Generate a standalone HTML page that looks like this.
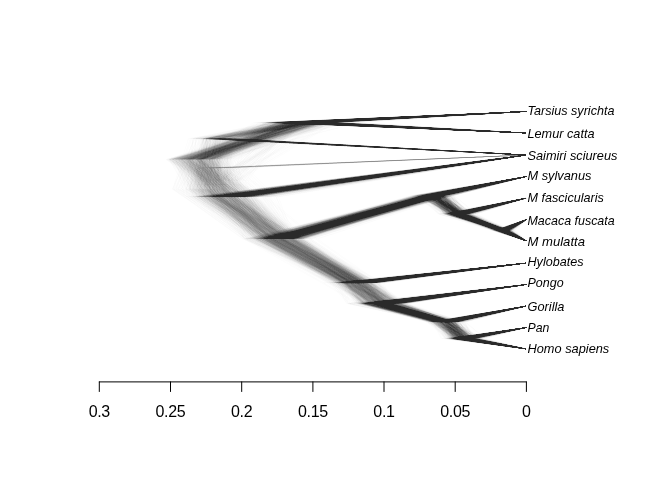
<!DOCTYPE html>
<html lang="en">
<head>
<meta charset="utf-8">
<title>DensiTree</title>
<style>
html,body{margin:0;padding:0;background:#fff;}
body{width:672px;height:480px;overflow:hidden;}
svg{display:block;}
.tr path{fill:none;stroke:#000;stroke-width:2;stroke-opacity:0.012;stroke-linecap:butt;stroke-linejoin:bevel;}
.ax path{fill:none;stroke:#000;stroke-width:1;stroke-linecap:round;}
.axl text{font-family:"Liberation Sans",Arial,Helvetica,sans-serif;font-size:16px;letter-spacing:-0.3px;text-anchor:middle;fill:#000;}
.tip text{font-family:"Liberation Sans",Arial,Helvetica,sans-serif;font-style:italic;font-size:13.4px;fill:#000;}
</style>
</head>
<body>
<svg width="672" height="480" viewBox="0 0 672 480">
<rect width="672" height="480" fill="#fff"/>
<g class="tr">
<g id="T" transform="translate(160 100) scale(0.5)">
<path d="M733 23L309 45L733 66M309 45L72 119L150 194L733 110M150 194L243 278M733 153L565 191L243 278L413 366L733 326M733 196L597 228L565 191M733 239L684 261L733 282M684 261L597 228M733 369L453 407L413 366M733 412L581 444L453 407M733 455L601 477L733 498M601 477L581 444"/>
<path d="M733 23L348 45L733 66M348 45L53 119L212 194L733 110M212 194L276 278M733 153L573 191L276 278L428 366L733 326M733 196L629 228L573 191M733 239L690 261L733 282M690 261L629 228M733 369L469 407L428 366M733 412L581 444L469 407M733 455L632 477L733 498M632 477L581 444"/>
<path d="M733 23L252 45L733 66M252 45L81 119L85 194L733 110M85 194L210 278M733 153L523 191L210 278L362 366L733 326M733 196L577 228L523 191M733 239L686 261L733 282M686 261L577 228M733 369L433 407L362 366M733 412L564 444L433 407M733 455L589 477L733 498M589 477L564 444"/>
<path d="M733 23L257 45L733 66M257 45L122 162L174 278M122 162L118 136L733 110M733 153L533 191L174 278L343 366L733 326M733 196L585 228L533 191M733 239L679 261L733 282M679 261L585 228M733 369L416 407L343 366M733 412L551 444L416 407M733 455L587 477L733 498M587 477L551 444"/>
<path d="M733 23L279 45L733 66M279 45L63 119L142 194L733 110M142 194L282 278M733 153L550 191L282 278L426 366L733 326M733 196L596 228L550 191M733 239L691 261L733 282M691 261L596 228M733 369L450 407L426 366M733 412L587 444L450 407M733 455L621 477L733 498M621 477L587 444"/>
<path d="M733 23L281 45L733 66M281 45L68 119L126 194L733 110M126 194L244 278M733 153L543 191L244 278L398 366L733 326M733 196L598 228L543 191M733 239L677 261L733 282M677 261L598 228M733 369L448 407L398 366M733 412L581 444L448 407M733 455L622 477L733 498M622 477L581 444"/>
<path d="M733 23L329 45L733 66M329 45L95 119L143 194L733 110M143 194L228 278M733 153L564 191L228 278L387 366L733 326M733 196L591 228L564 191M733 239L692 261L733 282M692 261L591 228M733 369L436 407L387 366M733 412L562 444L436 407M733 455L589 477L733 498M589 477L562 444"/>
<path d="M733 23L250 45L733 66M250 45L104 119L119 194L733 110M119 194L187 278M733 153L540 191L187 278L390 366L733 326M733 196L596 228L540 191M733 239L688 261L733 282M688 261L596 228M733 369L406 407L390 366M733 412L576 444L406 407M733 455L599 477L733 498M599 477L576 444"/>
<path d="M733 23L316 45L733 66M316 45L113 77L733 110M113 77L107 178L257 278M733 153L536 191L257 278L398 366L733 326M733 196L592 228L536 191M733 239L683 261L733 282M683 261L592 228M733 369L462 407L398 366M733 412L570 444L462 407M733 455L606 477L733 498M606 477L570 444"/>
<path d="M733 23L316 45L733 66M316 45L40 119L117 194L733 110M117 194L275 278M733 153L553 191L275 278L403 366L733 326M733 196L611 228L553 191M733 239L688 261L733 282M688 261L611 228M733 369L463 407L403 366M733 412L587 444L463 407M733 455L628 477L733 498M628 477L587 444"/>
<path d="M733 23L238 45L733 66M238 45L78 119L127 194L733 110M127 194L207 278M733 153L550 191L207 278L373 366L733 326M733 196L584 228L550 191M733 239L684 261L733 282M684 261L584 228M733 369L425 407L373 366M733 412L554 444L425 407M733 455L587 477L733 498M587 477L554 444"/>
<path d="M733 23L309 45L733 66M309 45L75 119L90 194L733 110M90 194L247 278M733 153L536 191L247 278L383 366L733 326M733 196L590 228L536 191M733 239L693 261L733 282M693 261L590 228M733 369L432 407L383 366M733 412L546 444L432 407M733 455L612 477L733 498M612 477L546 444"/>
<path d="M733 23L290 45L733 66M290 45L60 119L193 194L733 110M193 194L248 278M733 153L565 191L248 278L390 366L733 326M733 196L597 228L565 191M733 239L677 261L733 282M677 261L597 228M733 369L447 407L390 366M733 412L587 444L447 407M733 455L595 477L733 498M595 477L587 444"/>
<path d="M733 23L249 45L733 66M249 45L86 119L159 194L733 110M159 194L253 278M733 153L561 191L253 278L411 366L733 326M733 196L618 228L561 191M733 239L690 261L733 282M690 261L618 228M733 369L483 407L411 366M733 412L583 444L483 407M733 455L619 477L733 498M619 477L583 444"/>
<path d="M733 23L266 45L733 66M266 45L97 77L733 110M97 77L76 178L211 278M733 153L523 191L211 278L379 366L733 326M733 196L576 228L523 191M733 239L681 261L733 282M681 261L576 228M733 369L407 407L379 366M733 412L564 444L407 407M733 455L593 477L733 498M593 477L564 444"/>
<path d="M733 23L240 45L733 66M240 45L76 119L115 194L733 110M115 194L234 278M733 153L545 191L234 278L379 366L733 326M733 196L589 228L545 191M733 239L674 261L733 282M674 261L589 228M733 369L442 407L379 366M733 412L560 444L442 407M733 455L605 477L733 498M605 477L560 444"/>
<path d="M733 23L296 45L733 66M296 45L48 119L143 194L733 110M143 194L226 278M733 153L539 191L226 278L399 366L733 326M733 196L601 228L539 191M733 239L700 261L733 282M700 261L601 228M733 369L446 407L399 366M733 412L597 444L446 407M733 455L609 477L733 498M609 477L597 444"/>
<path d="M733 23L377 45L733 66M377 45L87 119L209 194L733 110M209 194L275 278M733 153L565 191L275 278L435 366L733 326M733 196L604 228L565 191M733 239L694 261L733 282M694 261L604 228M733 369L486 407L435 366M733 412L585 444L486 407M733 455L635 477L733 498M635 477L585 444"/>
<path d="M733 23L259 45L733 66M259 45L72 77L733 110M72 77L59 178L216 278M733 153L540 191L216 278L362 366L733 326M733 196L601 228L540 191M733 239L679 261L733 282M679 261L601 228M733 369L396 407L362 366M733 412L558 444L396 407M733 455L570 477L733 498M570 477L558 444"/>
<path d="M733 23L269 45L733 66M269 45L106 119L114 194L733 110M114 194L186 278M733 153L520 191L186 278L357 366L733 326M733 196L558 228L520 191M733 239L671 261L733 282M671 261L558 228M733 369L397 407L357 366M733 412L561 444L397 407M733 455L595 477L733 498M595 477L561 444"/>
<path d="M733 23L300 45L733 66M300 45L112 77L733 110M112 77L78 178L302 278M733 153L583 191L302 278L433 366L733 326M733 196L619 228L583 191M733 239L700 261L733 282M700 261L619 228M733 369L495 407L433 366M733 412L579 444L495 407M733 455L617 477L733 498M617 477L579 444"/>
<path d="M733 23L274 45L733 66M274 45L40 119L133 194L733 110M133 194L239 278M733 153L554 191L239 278L397 366L733 326M733 196L595 228L554 191M733 239L689 261L733 282M689 261L595 228M733 369L438 407L397 366M733 412L577 444L438 407M733 455L611 477L733 498M611 477L577 444"/>
<path d="M733 23L310 45L733 66M310 45L96 119L141 194L733 110M141 194L225 278M733 153L525 191L225 278L381 366L733 326M733 196L600 228L525 191M733 239L683 261L733 282M683 261L600 228M733 369L442 407L381 366M733 412L570 444L442 407M733 455L601 477L733 498M601 477L570 444"/>
<path d="M733 23L259 45L733 66M259 45L86 77L733 110M86 77L35 178L205 278M733 153L531 191L205 278L375 366L733 326M733 196L574 228L531 191M733 239L680 261L733 282M680 261L574 228M733 369L454 407L375 366M733 412L564 444L454 407M733 455L620 477L733 498M620 477L564 444"/>
<path d="M733 23L324 45L733 66M324 45L60 119L138 194L733 110M138 194L261 278M733 153L576 191L261 278L391 366L733 326M733 196L608 228L576 191M733 239L690 261L733 282M690 261L608 228M733 369L438 407L391 366M733 412L575 444L438 407M733 455L598 477L733 498M598 477L575 444"/>
<path d="M733 23L306 45L733 66M306 45L82 119L124 194L733 110M124 194L263 278M733 153L566 191L263 278L406 366L733 326M733 196L605 228L566 191M733 239L699 261L733 282M699 261L605 228M733 369L463 407L406 366M733 412L590 444L463 407M733 455L616 477L733 498M616 477L590 444"/>
<path d="M733 23L218 45L733 66M218 45L92 119L120 194L733 110M120 194L194 278M733 153L518 191L194 278L380 366L733 326M733 196L589 228L518 191M733 239L672 261L733 282M672 261L589 228M733 369L408 407L380 366M733 412L545 444L408 407M733 455L589 477L733 498M589 477L545 444"/>
<path d="M733 23L285 45L733 66M285 45L68 119L181 194L733 110M181 194L242 278M733 153L548 191L242 278L404 366L733 326M733 196L604 228L548 191M733 239L693 261L733 282M693 261L604 228M733 369L461 407L404 366M733 412L581 444L461 407M733 455L610 477L733 498M610 477L581 444"/>
<path d="M733 23L279 45L733 66M279 45L140 77L733 110M140 77L128 178L267 278M733 153L562 191L267 278L400 366L733 326M733 196L600 228L562 191M733 239L696 261L733 282M696 261L600 228M733 369L454 407L400 366M733 412L581 444L454 407M733 455L628 477L733 498M628 477L581 444"/>
<path d="M733 23L276 45L733 66M276 45L77 119L95 194L733 110M95 194L222 278M733 153L549 191L222 278L378 366L733 326M733 196L598 228L549 191M733 239L676 261L733 282M676 261L598 228M733 369L432 407L378 366M733 412L572 444L432 407M733 455L586 477L733 498M586 477L572 444"/>
<path d="M733 23L259 45L733 66M259 45L102 77L733 110M102 77L82 178L212 278M733 153L580 191L212 278L385 366L733 326M733 196L587 228L580 191M733 239L676 261L733 282M676 261L587 228M733 369L436 407L385 366M733 412L571 444L436 407M733 455L609 477L733 498M609 477L571 444"/>
<path d="M733 23L311 45L733 66M311 45L88 119L161 194L733 110M161 194L254 278M733 153L549 191L254 278L409 366L733 326M733 196L622 228L549 191M733 239L698 261L733 282M698 261L622 228M733 369L447 407L409 366M733 412L573 444L447 407M733 455L608 477L733 498M608 477L573 444"/>
<path d="M733 23L340 45L733 66M340 45L123 119L184 194L733 110M184 194L287 278M733 153L551 191L287 278L425 366L733 326M733 196L606 228L551 191M733 239L694 261L733 282M694 261L606 228M733 369L488 407L425 366M733 412L604 444L488 407M733 455L629 477L733 498M629 477L604 444"/>
<path d="M733 23L250 45L733 66M250 45L64 119L97 194L733 110M97 194L206 278M733 153L539 191L206 278L356 366L733 326M733 196L586 228L539 191M733 239L679 261L733 282M679 261L586 228M733 369L409 407L356 366M733 412L548 444L409 407M733 455L582 477L733 498M582 477L548 444"/>
<path d="M733 23L250 45L733 66M250 45L38 119L86 194L733 110M86 194L201 278M733 153L514 191L201 278L344 366L733 326M733 196L573 228L514 191M733 239L671 261L733 282M671 261L573 228M733 369L378 407L344 366M733 412L545 444L378 407M733 455L599 477L733 498M599 477L545 444"/>
<path d="M733 23L278 45L733 66M278 45L128 119L156 194L733 110M156 194L270 278M733 153L569 191L270 278L422 366L733 326M733 196L614 228L569 191M733 239L697 261L733 282M697 261L614 228M733 369L486 407L422 366M733 412L595 444L486 407M733 455L609 477L733 498M609 477L595 444"/>
<path d="M733 23L279 45L733 66M279 45L93 77L733 110M93 77L89 178L220 278M733 153L557 191L220 278L398 366L733 326M733 196L577 228L557 191M733 239L688 261L733 282M688 261L577 228M733 369L434 407L398 366M733 412L548 444L434 407M733 455L605 477L733 498M605 477L548 444"/>
<path d="M733 23L333 45L733 66M333 45L25 119L160 194L733 110M160 194L232 278M733 153L544 191L232 278L385 366L733 326M733 196L600 228L544 191M733 239L681 261L733 282M681 261L600 228M733 369L444 407L385 366M733 412L578 444L444 407M733 455L602 477L733 498M602 477L578 444"/>
<path d="M733 23L255 45L733 66M255 45L42 119L172 194L733 110M172 194L231 278M733 153L526 191L231 278L384 366L733 326M733 196L588 228L526 191M733 239L682 261L733 282M682 261L588 228M733 369L437 407L384 366M733 412L551 444L437 407M733 455L608 477L733 498M608 477L551 444"/>
<path d="M733 23L322 45L733 66M322 45L88 119L128 194L733 110M128 194L250 278M733 153L559 191L250 278L406 366L733 326M733 196L609 228L559 191M733 239L690 261L733 282M690 261L609 228M733 369L443 407L406 366M733 412L588 444L443 407M733 455L607 477L733 498M607 477L588 444"/>
<path d="M733 23L316 45L733 66M316 45L110 119L150 194L733 110M150 194L255 278M733 153L569 191L255 278L396 366L733 326M733 196L594 228L569 191M733 239L706 261L733 282M706 261L594 228M733 369L467 407L396 366M733 412L584 444L467 407M733 455L621 477L733 498M621 477L584 444"/>
<path d="M733 23L238 45L733 66M238 45L59 119L111 194L733 110M111 194L215 278M733 153L534 191L215 278L378 366L733 326M733 196L595 228L534 191M733 239L670 261L733 282M670 261L595 228M733 369L421 407L378 366M733 412L565 444L421 407M733 455L590 477L733 498M590 477L565 444"/>
<path d="M733 23L305 45L733 66M305 45L58 119L113 194L733 110M113 194L206 278M733 153L554 191L206 278L380 366L733 326M733 196L581 228L554 191M733 239L680 261L733 282M680 261L581 228M733 369L421 407L380 366M733 412L575 444L421 407M733 455L600 477L733 498M600 477L575 444"/>
<path d="M733 23L292 45L733 66M292 45L139 162L263 278M139 162L111 136L733 110M733 153L551 191L263 278L397 366L733 326M733 196L616 228L551 191M733 239L691 261L733 282M691 261L616 228M733 369L459 407L397 366M733 412L574 444L459 407M733 455L613 477L733 498M613 477L574 444"/>
<path d="M733 23L263 45L733 66M263 45L104 119L186 194L733 110M186 194L277 278M733 153L527 191L277 278L410 366L733 326M733 196L602 228L527 191M733 239L697 261L733 282M697 261L602 228M733 369L455 407L410 366M733 412L588 444L455 407M733 455L633 477L733 498M633 477L588 444"/>
<path d="M733 23L270 45L733 66M270 45L27 119L73 194L733 110M73 194L212 278M733 153L542 191L212 278L393 366L733 326M733 196L587 228L542 191M733 239L675 261L733 282M675 261L587 228M733 369L448 407L393 366M733 412L558 444L448 407M733 455L580 477L733 498M580 477L558 444"/>
<path d="M733 23L243 45L733 66M243 45L57 119L76 194L733 110M76 194L219 278M733 153L521 191L219 278L372 366L733 326M733 196L605 228L521 191M733 239L686 261L733 282M686 261L605 228M733 369L430 407L372 366M733 412L574 444L430 407M733 455L612 477L733 498M612 477L574 444"/>
<path d="M733 23L300 45L733 66M300 45L147 77L733 110M147 77L135 178L261 278M733 153L556 191L261 278L402 366L733 326M733 196L592 228L556 191M733 239L685 261L733 282M685 261L592 228M733 369L457 407L402 366M733 412L566 444L457 407M733 455L590 477L733 498M590 477L566 444"/>
<path d="M733 23L353 45L733 66M353 45L100 119L173 194L733 110M173 194L272 278M733 153L580 191L272 278L424 366L733 326M733 196L611 228L580 191M733 239L685 261L733 282M685 261L611 228M733 369L441 407L424 366M733 412L590 444L441 407M733 455L623 477L733 498M623 477L590 444"/>
<path d="M733 23L250 45L733 66M250 45L30 119L75 194L733 110M75 194L179 278M733 153L527 191L179 278L339 366L733 326M733 196L574 228L527 191M733 239L674 261L733 282M674 261L574 228M733 369L405 407L339 366M733 412L536 444L405 407M733 455L582 477L733 498M582 477L536 444"/>
<path d="M733 23L296 45L733 66M296 45L103 119L165 194L733 110M165 194L266 278M733 153L566 191L266 278L438 366L733 326M733 196L611 228L566 191M733 239L693 261L733 282M693 261L611 228M733 369L467 407L438 366M733 412L606 444L467 407M733 455L620 477L733 498M620 477L606 444"/>
<path d="M733 23L274 45L733 66M274 45L104 119L109 194L733 110M109 194L231 278M733 153L536 191L231 278L391 366L733 326M733 196L602 228L536 191M733 239L671 261L733 282M671 261L602 228M733 369L441 407L391 366M733 412L567 444L441 407M733 455L614 477L733 498M614 477L567 444"/>
<path d="M733 23L315 45L733 66M315 45L139 77L733 110M139 77L83 178L246 278M733 153L549 191L246 278L385 366L733 326M733 196L580 228L549 191M733 239L697 261L733 282M697 261L580 228M733 369L438 407L385 366M733 412L573 444L438 407M733 455L598 477L733 498M598 477L573 444"/>
<path d="M733 23L264 45L733 66M264 45L55 119L140 194L733 110M140 194L219 278M733 153L548 191L219 278L381 366L733 326M733 196L592 228L548 191M733 239L687 261L733 282M687 261L592 228M733 369L413 407L381 366M733 412L556 444L413 407M733 455L597 477L733 498M597 477L556 444"/>
<path d="M733 23L304 45L733 66M304 45L159 162L259 278M159 162L131 136L733 110M733 153L550 191L259 278L408 366L733 326M733 196L614 228L550 191M733 239L687 261L733 282M687 261L614 228M733 369L454 407L408 366M733 412L574 444L454 407M733 455L635 477L733 498M635 477L574 444"/>
<path d="M733 23L294 45L733 66M294 45L101 77L733 110M101 77L85 178L220 278M733 153L525 191L220 278L398 366L733 326M733 196L602 228L525 191M733 239L692 261L733 282M692 261L602 228M733 369L437 407L398 366M733 412L570 444L437 407M733 455L609 477L733 498M609 477L570 444"/>
<path d="M733 23L285 45L733 66M285 45L86 119L167 194L733 110M167 194L283 278M733 153L566 191L283 278L405 366L733 326M733 196L595 228L566 191M733 239L681 261L733 282M681 261L595 228M733 369L459 407L405 366M733 412L580 444L459 407M733 455L607 477L733 498M607 477L580 444"/>
<path d="M733 23L290 45L733 66M290 45L118 119L189 194L733 110M189 194L277 278M733 153L587 191L277 278L414 366L733 326M733 196L612 228L587 191M733 239L691 261L733 282M691 261L612 228M733 369L482 407L414 366M733 412L599 444L482 407M733 455L628 477L733 498M628 477L599 444"/>
<path d="M733 23L282 45L733 66M282 45L62 119L80 194L733 110M80 194L207 278M733 153L534 191L207 278L378 366L733 326M733 196L584 228L534 191M733 239L683 261L733 282M683 261L584 228M733 369L409 407L378 366M733 412L547 444L409 407M733 455L593 477L733 498M593 477L547 444"/>
<path d="M733 23L249 45L733 66M249 45L126 77L733 110M126 77L95 178L225 278M733 153L536 191L225 278L390 366L733 326M733 196L590 228L536 191M733 239L694 261L733 282M694 261L590 228M733 369L452 407L390 366M733 412L575 444L452 407M733 455L602 477L733 498M602 477L575 444"/>
<path d="M733 23L311 45L733 66M311 45L82 119L114 194L733 110M114 194L271 278M733 153L575 191L271 278L407 366L733 326M733 196L609 228L575 191M733 239L677 261L733 282M677 261L609 228M733 369L447 407L407 366M733 412L565 444L447 407M733 455L613 477L733 498M613 477L565 444"/>
<path d="M733 23L318 45L733 66M318 45L63 119L146 194L733 110M146 194L258 278M733 153L559 191L258 278L393 366L733 326M733 196L581 228L559 191M733 239L688 261L733 282M688 261L581 228M733 369L458 407L393 366M733 412L585 444L458 407M733 455L628 477L733 498M628 477L585 444"/>
<path d="M733 23L272 45L733 66M272 45L85 119L145 194L733 110M145 194L221 278M733 153L529 191L221 278L397 366L733 326M733 196L603 228L529 191M733 239L687 261L733 282M687 261L603 228M733 369L438 407L397 366M733 412L571 444L438 407M733 455L594 477L733 498M594 477L571 444"/>
<path d="M733 23L273 45L733 66M273 45L79 119L105 194L733 110M105 194L218 278M733 153L539 191L218 278L377 366L733 326M733 196L582 228L539 191M733 239L689 261L733 282M689 261L582 228M733 369L426 407L377 366M733 412L554 444L426 407M733 455L605 477L733 498M605 477L554 444"/>
<path d="M733 23L245 45L733 66M245 45L21 119L145 194L733 110M145 194L237 278M733 153L543 191L237 278L395 366L733 326M733 196L617 228L543 191M733 239L682 261L733 282M682 261L617 228M733 369L457 407L395 366M733 412L593 444L457 407M733 455L600 477L733 498M600 477L593 444"/>
<path d="M733 23L283 45L733 66M283 45L134 77L733 110M134 77L120 178L238 278M733 153L547 191L238 278L394 366L733 326M733 196L595 228L547 191M733 239L685 261L733 282M685 261L595 228M733 369L428 407L394 366M733 412L570 444L428 407M733 455L614 477L733 498M614 477L570 444"/>
<path d="M733 23L280 45L733 66M280 45L104 119L123 194L733 110M123 194L247 278M733 153L555 191L247 278L397 366L733 326M733 196L590 228L555 191M733 239L689 261L733 282M689 261L590 228M733 369L456 407L397 366M733 412L572 444L456 407M733 455L622 477L733 498M622 477L572 444"/>
<path d="M733 23L298 45L733 66M298 45L64 119L149 194L733 110M149 194L211 278M733 153L531 191L211 278L387 366L733 326M733 196L601 228L531 191M733 239L681 261L733 282M681 261L601 228M733 369L426 407L387 366M733 412L565 444L426 407M733 455L583 477L733 498M583 477L565 444"/>
<path d="M733 23L327 45L733 66M327 45L58 119L172 194L733 110M172 194L265 278M733 153L564 191L265 278L424 366L733 326M733 196L604 228L564 191M733 239L683 261L733 282M683 261L604 228M733 369L482 407L424 366M733 412L581 444L482 407M733 455L623 477L733 498M623 477L581 444"/>
<path d="M733 23L238 45L733 66M238 45L90 77L733 110M90 77L85 178L213 278M733 153L541 191L213 278L348 366L733 326M733 196L582 228L541 191M733 239L687 261L733 282M687 261L582 228M733 369L380 407L348 366M733 412L565 444L380 407M733 455L589 477L733 498M589 477L565 444"/>
<path d="M733 23L319 45L733 66M319 45L86 119L122 194L733 110M122 194L209 278M733 153L531 191L209 278L363 366L733 326M733 196L585 228L531 191M733 239L685 261L733 282M685 261L585 228M733 369L411 407L363 366M733 412L563 444L411 407M733 455L598 477L733 498M598 477L563 444"/>
<path d="M733 23L301 45L733 66M301 45L109 77L733 110M109 77L89 178L269 278M733 153L579 191L269 278L412 366L733 326M733 196L610 228L579 191M733 239L686 261L733 282M686 261L610 228M733 369L475 407L412 366M733 412L582 444L475 407M733 455L610 477L733 498M610 477L582 444"/>
<path d="M733 23L248 45L733 66M248 45L65 119L107 194L733 110M107 194L245 278M733 153L555 191L245 278L415 366L733 326M733 196L583 228L555 191M733 239L682 261L733 282M682 261L583 228M733 369L438 407L415 366M733 412L578 444L438 407M733 455L617 477L733 498M617 477L578 444"/>
<path d="M733 23L289 45L733 66M289 45L125 119L148 194L733 110M148 194L221 278M733 153L530 191L221 278L384 366L733 326M733 196L603 228L530 191M733 239L691 261L733 282M691 261L603 228M733 369L441 407L384 366M733 412L558 444L441 407M733 455L598 477L733 498M598 477L558 444"/>
<path d="M733 23L215 45L733 66M215 45L83 119L137 194L733 110M137 194L214 278M733 153L546 191L214 278L383 366L733 326M733 196L593 228L546 191M733 239L679 261L733 282M679 261L593 228M733 369L415 407L383 366M733 412L565 444L415 407M733 455L609 477L733 498M609 477L565 444"/>
<path d="M733 23L297 45L733 66M297 45L37 119L118 194L733 110M118 194L257 278M733 153L542 191L257 278L394 366L733 326M733 196L600 228L542 191M733 239L692 261L733 282M692 261L600 228M733 369L465 407L394 366M733 412L575 444L465 407M733 455L604 477L733 498M604 477L575 444"/>
<path d="M733 23L333 45L733 66M333 45L63 119L141 194L733 110M141 194L265 278M733 153L549 191L265 278L401 366L733 326M733 196L608 228L549 191M733 239L693 261L733 282M693 261L608 228M733 369L450 407L401 366M733 412L590 444L450 407M733 455L616 477L733 498M616 477L590 444"/>
<path d="M733 23L275 45L733 66M275 45L113 119L139 194L733 110M139 194L224 278M733 153L570 191L224 278L393 366L733 326M733 196L579 228L570 191M733 239L679 261L733 282M679 261L579 228M733 369L441 407L393 366M733 412L562 444L441 407M733 455L598 477L733 498M598 477L562 444"/>
<path d="M733 23L271 45L733 66M271 45L81 119L153 194L733 110M153 194L249 278M733 153L566 191L249 278L399 366L733 326M733 196L594 228L566 191M733 239L690 261L733 282M690 261L594 228M733 369L446 407L399 366M733 412L582 444L446 407M733 455L611 477L733 498M611 477L582 444"/>
<path d="M733 23L276 45L733 66M276 45L57 119L173 194L733 110M173 194L233 278M733 153L556 191L233 278L393 366L733 326M733 196L603 228L556 191M733 239L696 261L733 282M696 261L603 228M733 369L474 407L393 366M733 412L566 444L474 407M733 455L622 477L733 498M622 477L566 444"/>
<path d="M733 23L297 45L733 66M297 45L117 162L234 278M117 162L88 136L733 110M733 153L536 191L234 278L387 366L733 326M733 196L589 228L536 191M733 239L677 261L733 282M677 261L589 228M733 369L424 407L387 366M733 412L575 444L424 407M733 455L584 477L733 498M584 477L575 444"/>
<path d="M733 23L284 45L733 66M284 45L94 119L114 194L733 110M114 194L250 278M733 153L547 191L250 278L371 366L733 326M733 196L608 228L547 191M733 239L680 261L733 282M680 261L608 228M733 369L439 407L371 366M733 412L559 444L439 407M733 455L612 477L733 498M612 477L559 444"/>
<path d="M733 23L313 45L733 66M313 45L26 119L151 194L733 110M151 194L218 278M733 153L547 191L218 278L384 366L733 326M733 196L580 228L547 191M733 239L688 261L733 282M688 261L580 228M733 369L428 407L384 366M733 412L573 444L428 407M733 455L594 477L733 498M594 477L573 444"/>
<path d="M733 23L315 45L733 66M315 45L138 77L733 110M138 77L84 178L244 278M733 153L564 191L244 278L424 366L733 326M733 196L608 228L564 191M733 239L694 261L733 282M694 261L608 228M733 369L457 407L424 366M733 412L583 444L457 407M733 455L627 477L733 498M627 477L583 444"/>
<path d="M733 23L298 45L733 66M298 45L99 77L733 110M99 77L88 178L203 278M733 153L542 191L203 278L369 366L733 326M733 196L591 228L542 191M733 239L672 261L733 282M672 261L591 228M733 369L437 407L369 366M733 412L582 444L437 407M733 455L616 477L733 498M616 477L582 444"/>
<path d="M733 23L297 45L733 66M297 45L81 119L159 194L733 110M159 194L267 278M733 153L537 191L267 278L429 366L733 326M733 196L606 228L537 191M733 239L703 261L733 282M703 261L606 228M733 369L444 407L429 366M733 412L577 444L444 407M733 455L607 477L733 498M607 477L577 444"/>
<path d="M733 23L264 45L733 66M264 45L50 119L87 194L733 110M87 194L262 278M733 153L544 191L262 278L396 366L733 326M733 196L607 228L544 191M733 239L687 261L733 282M687 261L607 228M733 369L451 407L396 366M733 412L575 444L451 407M733 455L608 477L733 498M608 477L575 444"/>
<path d="M733 23L303 45L733 66M303 45L83 119L161 194L733 110M161 194L238 278M733 153L564 191L238 278L387 366L733 326M733 196L587 228L564 191M733 239L686 261L733 282M686 261L587 228M733 369L442 407L387 366M733 412L569 444L442 407M733 455L605 477L733 498M605 477L569 444"/>
<path d="M733 23L246 45L733 66M246 45L35 119L119 194L733 110M119 194L225 278M733 153L549 191L225 278L391 366L733 326M733 196L597 228L549 191M733 239L680 261L733 282M680 261L597 228M733 369L418 407L391 366M733 412L558 444L418 407M733 455L617 477L733 498M617 477L558 444"/>
<path d="M733 23L313 45L733 66M313 45L103 119L147 194L733 110M147 194L251 278M733 153L557 191L251 278L406 366L733 326M733 196L590 228L557 191M733 239L692 261L733 282M692 261L590 228M733 369L488 407L406 366M733 412L593 444L488 407M733 455L601 477L733 498M601 477L593 444"/>
<path d="M733 23L313 45L733 66M313 45L107 77L733 110M107 77L86 178L241 278M733 153L540 191L241 278L394 366L733 326M733 196L603 228L540 191M733 239L694 261L733 282M694 261L603 228M733 369L442 407L394 366M733 412L574 444L442 407M733 455L611 477L733 498M611 477L574 444"/>
<path d="M733 23L267 45L733 66M267 45L61 119L180 194L733 110M180 194L250 278M733 153L547 191L250 278L390 366L733 326M733 196L593 228L547 191M733 239L678 261L733 282M678 261L593 228M733 369L443 407L390 366M733 412L572 444L443 407M733 455L603 477L733 498M603 477L572 444"/>
<path d="M733 23L268 45L733 66M268 45L94 77L733 110M94 77L88 178L209 278M733 153L514 191L209 278L377 366L733 326M733 196L589 228L514 191M733 239L681 261L733 282M681 261L589 228M733 369L427 407L377 366M733 412L567 444L427 407M733 455L602 477L733 498M602 477L567 444"/>
<path d="M733 23L240 45L733 66M240 45L106 119L163 194L733 110M163 194L253 278M733 153L557 191L253 278L385 366L733 326M733 196L596 228L557 191M733 239L688 261L733 282M688 261L596 228M733 369L447 407L385 366M733 412L563 444L447 407M733 455L606 477L733 498M606 477L563 444"/>
<path d="M733 23L281 45L733 66M281 45L79 119L145 194L733 110M145 194L246 278M733 153L562 191L246 278L393 366L733 326M733 196L611 228L562 191M733 239L701 261L733 282M701 261L611 228M733 369L453 407L393 366M733 412L577 444L453 407M733 455L613 477L733 498M613 477L577 444"/>
<path d="M733 23L312 45L733 66M312 45L42 119L119 194L733 110M119 194L208 278M733 153L536 191L208 278L389 366L733 326M733 196L584 228L536 191M733 239L672 261L733 282M672 261L584 228M733 369L418 407L389 366M733 412L566 444L418 407M733 455L590 477L733 498M590 477L566 444"/>
<path d="M733 23L307 45L733 66M307 45L113 77L733 110M113 77L105 178L239 278M733 153L550 191L239 278L402 366L733 326M733 196L588 228L550 191M733 239L689 261L733 282M689 261L588 228M733 369L442 407L402 366M733 412L566 444L442 407M733 455L601 477L733 498M601 477L566 444"/>
<path d="M733 23L326 45L733 66M326 45L132 119L182 194L733 110M182 194L276 278M733 153L587 191L276 278L421 366L733 326M733 196L619 228L587 191M733 239L695 261L733 282M695 261L619 228M733 369L450 407L421 366M733 412L596 444L450 407M733 455L636 477L733 498M636 477L596 444"/>
<path d="M733 23L238 45L733 66M238 45L49 119L73 194L733 110M73 194L177 278M733 153L527 191L177 278L357 366L733 326M733 196L574 228L527 191M733 239L676 261L733 282M676 261L574 228M733 369L429 407L357 366M733 412L536 444L429 407M733 455L575 477L733 498M575 477L536 444"/>
<path d="M733 23L311 45L733 66M311 45L63 119L138 194L733 110M138 194L212 278M733 153L548 191L212 278L357 366L733 326M733 196L595 228L548 191M733 239L673 261L733 282M673 261L595 228M733 369L438 407L357 366M733 412L554 444L438 407M733 455L604 477L733 498M604 477L554 444"/>
<path d="M733 23L303 45L733 66M303 45L114 119L140 194L733 110M140 194L253 278M733 153L560 191L253 278L418 366L733 326M733 196L595 228L560 191M733 239L700 261L733 282M700 261L595 228M733 369L455 407L418 366M733 412L587 444L455 407M733 455L611 477L733 498M611 477L587 444"/>
<path d="M733 23L253 45L733 66M253 45L86 119L121 194L733 110M121 194L234 278M733 153L540 191L234 278L401 366L733 326M733 196L601 228L540 191M733 239L688 261L733 282M688 261L601 228M733 369L444 407L401 366M733 412L562 444L444 407M733 455L610 477L733 498M610 477L562 444"/>
<path d="M733 23L295 45L733 66M295 45L127 77L733 110M127 77L98 178L266 278M733 153L552 191L266 278L394 366L733 326M733 196L597 228L552 191M733 239L686 261L733 282M686 261L597 228M733 369L440 407L394 366M733 412L588 444L440 407M733 455L602 477L733 498M602 477L588 444"/>
<path d="M733 23L227 45L733 66M227 45L60 119L120 194L733 110M120 194L230 278M733 153L529 191L230 278L378 366L733 326M733 196L571 228L529 191M733 239L691 261L733 282M691 261L571 228M733 369L435 407L378 366M733 412L561 444L435 407M733 455L602 477L733 498M602 477L561 444"/>
<path d="M733 23L301 45L733 66M301 45L105 119L134 194L733 110M134 194L253 278M733 153L559 191L253 278L398 366L733 326M733 196L609 228L559 191M733 239L679 261L733 282M679 261L609 228M733 369L438 407L398 366M733 412L584 444L438 407M733 455L607 477L733 498M607 477L584 444"/>
<path d="M733 23L323 45L733 66M323 45L83 119L124 194L733 110M124 194L225 278M733 153L563 191L225 278L394 366L733 326M733 196L597 228L563 191M733 239L686 261L733 282M686 261L597 228M733 369L453 407L394 366M733 412L560 444L453 407M733 455L619 477L733 498M619 477L560 444"/>
<path d="M733 23L270 45L733 66M270 45L120 77L733 110M120 77L108 178L233 278M733 153L543 191L233 278L397 366L733 326M733 196L596 228L543 191M733 239L685 261L733 282M685 261L596 228M733 369L434 407L397 366M733 412L576 444L434 407M733 455L594 477L733 498M594 477L576 444"/>
<path d="M733 23L279 45L733 66M279 45L30 119L82 194L733 110M82 194L205 278M733 153L556 191L205 278L383 366L733 326M733 196L584 228L556 191M733 239L688 261L733 282M688 261L584 228M733 369L420 407L383 366M733 412L565 444L420 407M733 455L610 477L733 498M610 477L565 444"/>
<path d="M733 23L262 45L733 66M262 45L141 77L733 110M141 77L92 178L246 278M733 153L548 191L246 278L398 366L733 326M733 196L601 228L548 191M733 239L683 261L733 282M683 261L601 228M733 369L452 407L398 366M733 412L570 444L452 407M733 455L583 477L733 498M583 477L570 444"/>
<path d="M733 23L301 45L733 66M301 45L62 119L120 194L733 110M120 194L223 278M733 153L551 191L223 278L389 366L733 326M733 196L613 228L551 191M733 239L688 261L733 282M688 261L613 228M733 369L457 407L389 366M733 412L559 444L457 407M733 455L602 477L733 498M602 477L559 444"/>
<path d="M733 23L287 45L733 66M287 45L114 77L733 110M114 77L79 178L231 278M733 153L565 191L231 278L386 366L733 326M733 196L591 228L565 191M733 239L687 261L733 282M687 261L591 228M733 369L446 407L386 366M733 412L586 444L446 407M733 455L615 477L733 498M615 477L586 444"/>
<path d="M733 23L343 45L733 66M343 45L104 119L131 194L733 110M131 194L228 278M733 153L535 191L228 278L385 366L733 326M733 196L592 228L535 191M733 239L683 261L733 282M683 261L592 228M733 369L428 407L385 366M733 412L561 444L428 407M733 455L592 477L733 498M592 477L561 444"/>
<path d="M733 23L312 45L733 66M312 45L95 119L186 194L733 110M186 194L281 278M733 153L544 191L281 278L429 366L733 326M733 196L599 228L544 191M733 239L673 261L733 282M673 261L599 228M733 369L481 407L429 366M733 412L586 444L481 407M733 455L624 477L733 498M624 477L586 444"/>
<path d="M733 23L217 45L733 66M217 45L38 119L55 194L733 110M55 194L193 278M733 153L535 191L193 278L359 366L733 326M733 196L595 228L535 191M733 239L691 261L733 282M691 261L595 228M733 369L403 407L359 366M733 412L551 444L403 407M733 455L585 477L733 498M585 477L551 444"/>
<path d="M733 23L298 45L733 66M298 45L104 119L144 194L733 110M144 194L268 278M733 153L564 191L268 278L427 366L733 326M733 196L617 228L564 191M733 239L690 261L733 282M690 261L617 228M733 369L479 407L427 366M733 412L595 444L479 407M733 455L618 477L733 498M618 477L595 444"/>
<path d="M733 23L270 45L733 66M270 45L159 162L226 278M159 162L144 136L733 110M733 153L559 191L226 278L400 366L733 326M733 196L597 228L559 191M733 239L680 261L733 282M680 261L597 228M733 369L443 407L400 366M733 412L573 444L443 407M733 455L631 477L733 498M631 477L573 444"/>
<path d="M733 23L321 45L733 66M321 45L69 119L160 194L733 110M160 194L270 278M733 153L557 191L270 278L395 366L733 326M733 196L611 228L557 191M733 239L697 261L733 282M697 261L611 228M733 369L470 407L395 366M733 412L587 444L470 407M733 455L604 477L733 498M604 477L587 444"/>
<path d="M733 23L290 45L733 66M290 45L67 119L124 194L733 110M124 194L238 278M733 153L533 191L238 278L381 366L733 326M733 196L581 228L533 191M733 239L681 261L733 282M681 261L581 228M733 369L427 407L381 366M733 412L552 444L427 407M733 455L601 477L733 498M601 477L552 444"/>
<path d="M733 23L297 45L733 66M297 45L125 77L733 110M125 77L71 178L269 278M733 153L580 191L269 278L409 366L733 326M733 196L623 228L580 191M733 239L694 261L733 282M694 261L623 228M733 369L477 407L409 366M733 412L596 444L477 407M733 455L616 477L733 498M616 477L596 444"/>
<path d="M733 23L278 45L733 66M278 45L96 119L108 194L733 110M108 194L249 278M733 153L564 191L249 278L410 366L733 326M733 196L600 228L564 191M733 239L700 261L733 282M700 261L600 228M733 369L445 407L410 366M733 412L582 444L445 407M733 455L627 477L733 498M627 477L582 444"/>
<path d="M733 23L285 45L733 66M285 45L49 119L145 194L733 110M145 194L223 278M733 153L514 191L223 278L388 366L733 326M733 196L590 228L514 191M733 239L675 261L733 282M675 261L590 228M733 369L439 407L388 366M733 412L568 444L439 407M733 455L592 477L733 498M592 477L568 444"/>
<path d="M733 23L340 45L733 66M340 45L97 119L196 194L733 110M196 194L265 278M733 153L547 191L265 278L407 366L733 326M733 196L610 228L547 191M733 239L693 261L733 282M693 261L610 228M733 369L447 407L407 366M733 412L576 444L447 407M733 455L601 477L733 498M601 477L576 444"/>
<path d="M733 23L297 45L733 66M297 45L121 119L149 194L733 110M149 194L263 278M733 153L552 191L263 278L396 366L733 326M733 196L589 228L552 191M733 239L693 261L733 282M693 261L589 228M733 369L456 407L396 366M733 412L578 444L456 407M733 455L614 477L733 498M614 477L578 444"/>
<path d="M733 23L214 45L733 66M214 45L102 77L733 110M102 77L91 178L215 278M733 153L545 191L215 278L376 366L733 326M733 196L596 228L545 191M733 239L677 261L733 282M677 261L596 228M733 369L418 407L376 366M733 412L558 444L418 407M733 455L595 477L733 498M595 477L558 444"/>
<path d="M733 23L299 45L733 66M299 45L70 119L117 194L733 110M117 194L221 278M733 153L550 191L221 278L376 366L733 326M733 196L594 228L550 191M733 239L674 261L733 282M674 261L594 228M733 369L431 407L376 366M733 412L573 444L431 407M733 455L613 477L733 498M613 477L573 444"/>
<path d="M733 23L263 45L733 66M263 45L101 119L138 194L733 110M138 194L243 278M733 153L540 191L243 278L396 366L733 326M733 196L599 228L540 191M733 239L704 261L733 282M704 261L599 228M733 369L456 407L396 366M733 412L566 444L456 407M733 455L594 477L733 498M594 477L566 444"/>
<path d="M733 23L306 45L733 66M306 45L101 162L288 278M101 162L84 136L733 110M733 153L566 191L288 278L432 366L733 326M733 196L595 228L566 191M733 239L694 261L733 282M694 261L595 228M733 369L470 407L432 366M733 412L610 444L470 407M733 455L630 477L733 498M630 477L610 444"/>
<path d="M733 23L274 45L733 66M274 45L25 119L67 194L733 110M67 194L184 278M733 153L535 191L184 278L351 366L733 326M733 196L583 228L535 191M733 239L677 261L733 282M677 261L583 228M733 369L404 407L351 366M733 412L540 444L404 407M733 455L581 477L733 498M581 477L540 444"/>
<path d="M733 23L225 45L733 66M225 45L29 119L119 194L733 110M119 194L218 278M733 153L527 191L218 278L360 366L733 326M733 196L577 228L527 191M733 239L673 261L733 282M673 261L577 228M733 369L423 407L360 366M733 412L554 444L423 407M733 455L593 477L733 498M593 477L554 444"/>
<path d="M733 23L316 45L733 66M316 45L108 119L129 194L733 110M129 194L262 278M733 153L589 191L262 278L440 366L733 326M733 196L633 228L589 191M733 239L698 261L733 282M698 261L633 228M733 369L465 407L440 366M733 412L592 444L465 407M733 455L617 477L733 498M617 477L592 444"/>
<path d="M733 23L342 45L733 66M342 45L133 119L138 194L733 110M138 194L237 278M733 153L558 191L237 278L402 366L733 326M733 196L596 228L558 191M733 239L690 261L733 282M690 261L596 228M733 369L461 407L402 366M733 412L562 444L461 407M733 455L626 477L733 498M626 477L562 444"/>
<path d="M733 23L272 45L733 66M272 45L58 119L132 194L733 110M132 194L226 278M733 153L527 191L226 278L373 366L733 326M733 196L592 228L527 191M733 239L681 261L733 282M681 261L592 228M733 369L408 407L373 366M733 412L576 444L408 407M733 455L587 477L733 498M587 477L576 444"/>
<path d="M733 23L300 45L733 66M300 45L98 77L733 110M98 77L93 178L222 278M733 153L544 191L222 278L382 366L733 326M733 196L598 228L544 191M733 239L689 261L733 282M689 261L598 228M733 369L427 407L382 366M733 412L557 444L427 407M733 455L615 477L733 498M615 477L557 444"/>
<path d="M733 23L298 45L733 66M298 45L102 119L152 194L733 110M152 194L247 278M733 153L544 191L247 278L412 366L733 326M733 196L596 228L544 191M733 239L684 261L733 282M684 261L596 228M733 369L456 407L412 366M733 412L587 444L456 407M733 455L606 477L733 498M606 477L587 444"/>
<path d="M733 23L259 45L733 66M259 45L121 119L124 194L733 110M124 194L255 278M733 153L554 191L255 278L398 366L733 326M733 196L605 228L554 191M733 239L688 261L733 282M688 261L605 228M733 369L492 407L398 366M733 412L573 444L492 407M733 455L616 477L733 498M616 477L573 444"/>
<path d="M733 23L273 45L733 66M273 45L51 119L129 194L733 110M129 194L225 278M733 153L557 191L225 278L379 366L733 326M733 196L583 228L557 191M733 239L685 261L733 282M685 261L583 228M733 369L414 407L379 366M733 412L577 444L414 407M733 455L594 477L733 498M594 477L577 444"/>
<path d="M733 23L252 45L733 66M252 45L66 119L89 194L733 110M89 194L206 278M733 153L536 191L206 278L374 366L733 326M733 196L591 228L536 191M733 239L692 261L733 282M692 261L591 228M733 369L408 407L374 366M733 412L566 444L408 407M733 455L600 477L733 498M600 477L566 444"/>
<path d="M733 23L329 45L733 66M329 45L118 119L191 194L733 110M191 194L280 278M733 153L571 191L280 278L405 366L733 326M733 196L605 228L571 191M733 239L676 261L733 282M676 261L605 228M733 369L473 407L405 366M733 412L583 444L473 407M733 455L613 477L733 498M613 477L583 444"/>
<path d="M733 23L308 45L733 66M308 45L129 77L733 110M129 77L109 178L259 278M733 153L560 191L259 278L403 366L733 326M733 196L612 228L560 191M733 239L689 261L733 282M689 261L612 228M733 369L456 407L403 366M733 412L589 444L456 407M733 455L623 477L733 498M623 477L589 444"/>
<path d="M733 23L241 45L733 66M241 45L44 119L102 194L733 110M102 194L210 278M733 153L530 191L210 278L390 366L733 326M733 196L578 228L530 191M733 239L683 261L733 282M683 261L578 228M733 369L431 407L390 366M733 412L545 444L431 407M733 455L589 477L733 498M589 477L545 444"/>
<path d="M733 23L285 45L733 66M285 45L33 119L120 194L733 110M120 194L227 278M733 153L542 191L227 278L385 366L733 326M733 196L597 228L542 191M733 239L689 261L733 282M689 261L597 228M733 369L450 407L385 366M733 412L575 444L450 407M733 455L606 477L733 498M606 477L575 444"/>
<path d="M733 23L242 45L733 66M242 45L90 119L130 194L733 110M130 194L259 278M733 153L555 191L259 278L397 366L733 326M733 196L592 228L555 191M733 239L682 261L733 282M682 261L592 228M733 369L418 407L397 366M733 412L557 444L418 407M733 455L603 477L733 498M603 477L557 444"/>
<path d="M733 23L312 45L733 66M312 45L156 119L232 194L733 110M232 194L275 278M733 153L566 191L275 278L426 366L733 326M733 196L617 228L566 191M733 239L687 261L733 282M687 261L617 228M733 369L477 407L426 366M733 412L593 444L477 407M733 455L633 477L733 498M633 477L593 444"/>
<path d="M733 23L306 45L733 66M306 45L63 77L733 110M63 77L32 178L173 278M733 153L513 191L173 278L328 366L733 326M733 196L560 228L513 191M733 239L682 261L733 282M682 261L560 228M733 369L398 407L328 366M733 412L547 444L398 407M733 455L564 477L733 498M564 477L547 444"/>
<path d="M733 23L242 45L733 66M242 45L56 119L125 194L733 110M125 194L210 278M733 153L537 191L210 278L360 366L733 326M733 196L598 228L537 191M733 239L681 261L733 282M681 261L598 228M733 369L412 407L360 366M733 412L550 444L412 407M733 455L602 477L733 498M602 477L550 444"/>
<path d="M733 23L332 45L733 66M332 45L119 77L733 110M119 77L107 178L237 278M733 153L547 191L237 278L424 366L733 326M733 196L604 228L547 191M733 239L691 261L733 282M691 261L604 228M733 369L474 407L424 366M733 412L601 444L474 407M733 455L615 477L733 498M615 477L601 444"/>
<path d="M733 23L320 45L733 66M320 45L86 119L143 194L733 110M143 194L249 278M733 153L547 191L249 278L417 366L733 326M733 196L604 228L547 191M733 239L679 261L733 282M679 261L604 228M733 369L443 407L417 366M733 412L575 444L443 407M733 455L616 477L733 498M616 477L575 444"/>
<path d="M733 23L266 45L733 66M266 45L47 119L137 194L733 110M137 194L240 278M733 153L561 191L240 278L381 366L733 326M733 196L590 228L561 191M733 239L692 261L733 282M692 261L590 228M733 369L454 407L381 366M733 412L569 444L454 407M733 455L598 477L733 498M598 477L569 444"/>
<path d="M733 23L289 45L733 66M289 45L86 119L147 194L733 110M147 194L197 278M733 153L546 191L197 278L374 366L733 326M733 196L588 228L546 191M733 239L687 261L733 282M687 261L588 228M733 369L428 407L374 366M733 412L579 444L428 407M733 455L606 477L733 498M606 477L579 444"/>
<path d="M733 23L293 45L733 66M293 45L51 119L141 194L733 110M141 194L275 278M733 153L560 191L275 278L410 366L733 326M733 196L603 228L560 191M733 239L687 261L733 282M687 261L603 228M733 369L465 407L410 366M733 412L578 444L465 407M733 455L613 477L733 498M613 477L578 444"/>
<path d="M733 23L272 45L733 66M272 45L73 119L142 194L733 110M142 194L266 278M733 153L547 191L266 278L405 366L733 326M733 196L615 228L547 191M733 239L686 261L733 282M686 261L615 228M733 369L469 407L405 366M733 412L583 444L469 407M733 455L619 477L733 498M619 477L583 444"/>
<path d="M733 23L284 45L733 66M284 45L170 162L219 278M170 162L139 136L733 110M733 153L541 191L219 278L391 366L733 326M733 196L581 228L541 191M733 239L687 261L733 282M687 261L581 228M733 369L415 407L391 366M733 412L559 444L415 407M733 455L593 477L733 498M593 477L559 444"/>
<path d="M733 23L253 45L733 66M253 45L88 119L99 194L733 110M99 194L219 278M733 153L514 191L219 278L373 366L733 326M733 196L592 228L514 191M733 239L687 261L733 282M687 261L592 228M733 369L404 407L373 366M733 412L541 444L404 407M733 455L593 477L733 498M593 477L541 444"/>
<path d="M733 23L336 45L733 66M336 45L81 119L163 194L733 110M163 194L255 278M733 153L563 191L255 278L409 366L733 326M733 196L595 228L563 191M733 239L682 261L733 282M682 261L595 228M733 369L485 407L409 366M733 412L592 444L485 407M733 455L615 477L733 498M615 477L592 444"/>
<path d="M733 23L294 45L733 66M294 45L48 119L166 194L733 110M166 194L238 278M733 153L568 191L238 278L385 366L733 326M733 196L604 228L568 191M733 239L686 261L733 282M686 261L604 228M733 369L442 407L385 366M733 412L573 444L442 407M733 455L624 477L733 498M624 477L573 444"/>
<path d="M733 23L300 45L733 66M300 45L102 77L733 110M102 77L91 178L258 278M733 153L532 191L258 278L381 366L733 326M733 196L603 228L532 191M733 239L689 261L733 282M689 261L603 228M733 369L458 407L381 366M733 412L570 444L458 407M733 455L612 477L733 498M612 477L570 444"/>
<path d="M733 23L267 45L733 66M267 45L20 119L156 194L733 110M156 194L236 278M733 153L556 191L236 278L397 366L733 326M733 196L583 228L556 191M733 239L684 261L733 282M684 261L583 228M733 369L436 407L397 366M733 412L577 444L436 407M733 455L603 477L733 498M603 477L577 444"/>
<path d="M733 23L305 45L733 66M305 45L78 119L186 194L733 110M186 194L269 278M733 153L586 191L269 278L441 366L733 326M733 196L615 228L586 191M733 239L687 261L733 282M687 261L615 228M733 369L476 407L441 366M733 412L581 444L476 407M733 455L631 477L733 498M631 477L581 444"/>
<path d="M733 23L223 45L733 66M223 45L92 119L108 194L733 110M108 194L180 278M733 153L543 191L180 278L364 366L733 326M733 196L585 228L543 191M733 239L680 261L733 282M680 261L585 228M733 369L412 407L364 366M733 412L557 444L412 407M733 455L608 477L733 498M608 477L557 444"/>
<path d="M733 23L321 45L733 66M321 45L89 119L157 194L733 110M157 194L281 278M733 153L567 191L281 278L431 366L733 326M733 196L608 228L567 191M733 239L692 261L733 282M692 261L608 228M733 369L480 407L431 366M733 412L587 444L480 407M733 455L608 477L733 498M608 477L587 444"/>
<path d="M733 23L343 45L733 66M343 45L107 77L733 110M107 77L57 178L257 278M733 153L543 191L257 278L404 366L733 326M733 196L615 228L543 191M733 239L675 261L733 282M675 261L615 228M733 369L428 407L404 366M733 412L589 444L428 407M733 455L611 477L733 498M611 477L589 444"/>
<path d="M733 23L277 45L733 66M277 45L81 119L154 194L733 110M154 194L227 278M733 153L546 191L227 278L371 366L733 326M733 196L585 228L546 191M733 239L694 261L733 282M694 261L585 228M733 369L448 407L371 366M733 412L562 444L448 407M733 455L600 477L733 498M600 477L562 444"/>
<path d="M733 23L306 45L733 66M306 45L87 119L142 194L733 110M142 194L206 278M733 153L527 191L206 278L385 366L733 326M733 196L580 228L527 191M733 239L681 261L733 282M681 261L580 228M733 369L415 407L385 366M733 412L564 444L415 407M733 455L594 477L733 498M594 477L564 444"/>
<path d="M733 23L298 45L733 66M298 45L79 119L138 194L733 110M138 194L280 278M733 153L562 191L280 278L407 366L733 326M733 196L606 228L562 191M733 239L691 261L733 282M691 261L606 228M733 369L465 407L407 366M733 412L583 444L465 407M733 455L614 477L733 498M614 477L583 444"/>
<path d="M733 23L229 45L733 66M229 45L128 77L733 110M128 77L121 178L255 278M733 153L569 191L255 278L399 366L733 326M733 196L594 228L569 191M733 239L703 261L733 282M703 261L594 228M733 369L443 407L399 366M733 412L587 444L443 407M733 455L641 477L733 498M641 477L587 444"/>
<path d="M733 23L270 45L733 66M270 45L73 119L119 194L733 110M119 194L205 278M733 153L537 191L205 278L377 366L733 326M733 196L600 228L537 191M733 239L672 261L733 282M672 261L600 228M733 369L445 407L377 366M733 412L551 444L445 407M733 455L585 477L733 498M585 477L551 444"/>
<path d="M733 23L247 45L733 66M247 45L131 162L213 278M131 162L105 136L733 110M733 153L556 191L213 278L373 366L733 326M733 196L571 228L556 191M733 239L678 261L733 282M678 261L571 228M733 369L428 407L373 366M733 412L556 444L428 407M733 455L601 477L733 498M601 477L556 444"/>
<path d="M733 23L323 45L733 66M323 45L44 119L174 194L733 110M174 194L245 278M733 153L555 191L245 278L402 366L733 326M733 196L614 228L555 191M733 239L693 261L733 282M693 261L614 228M733 369L446 407L402 366M733 412L585 444L446 407M733 455L608 477L733 498M608 477L585 444"/>
<path d="M733 23L308 45L733 66M308 45L73 119L164 194L733 110M164 194L251 278M733 153L541 191L251 278L402 366L733 326M733 196L601 228L541 191M733 239L694 261L733 282M694 261L601 228M733 369L459 407L402 366M733 412L571 444L459 407M733 455L617 477L733 498M617 477L571 444"/>
<path d="M733 23L308 45L733 66M308 45L68 119L178 194L733 110M178 194L272 278M733 153L544 191L272 278L422 366L733 326M733 196L609 228L544 191M733 239L694 261L733 282M694 261L609 228M733 369L468 407L422 366M733 412L584 444L468 407M733 455L624 477L733 498M624 477L584 444"/>
<path d="M733 23L295 45L733 66M295 45L65 119L87 194L733 110M87 194L201 278M733 153L532 191L201 278L349 366L733 326M733 196L582 228L532 191M733 239L676 261L733 282M676 261L582 228M733 369L414 407L349 366M733 412L553 444L414 407M733 455L586 477L733 498M586 477L553 444"/>
<path d="M733 23L239 45L733 66M239 45L77 119L104 194L733 110M104 194L200 278M733 153L521 191L200 278L351 366L733 326M733 196L580 228L521 191M733 239L675 261L733 282M675 261L580 228M733 369L419 407L351 366M733 412L565 444L419 407M733 455L597 477L733 498M597 477L565 444"/>
<path d="M733 23L338 45L733 66M338 45L48 119L174 194L733 110M174 194L302 278M733 153L574 191L302 278L437 366L733 326M733 196L618 228L574 191M733 239L700 261L733 282M700 261L618 228M733 369L479 407L437 366M733 412L577 444L479 407M733 455L623 477L733 498M623 477L577 444"/>
<path d="M733 23L324 45L733 66M324 45L63 119L119 194L733 110M119 194L252 278M733 153L563 191L252 278L412 366L733 326M733 196L594 228L563 191M733 239L692 261L733 282M692 261L594 228M733 369L467 407L412 366M733 412L583 444L467 407M733 455L620 477L733 498M620 477L583 444"/>
<path d="M733 23L274 45L733 66M274 45L140 77L733 110M140 77L134 178L224 278M733 153L544 191L224 278L387 366L733 326M733 196L613 228L544 191M733 239L681 261L733 282M681 261L613 228M733 369L430 407L387 366M733 412L568 444L430 407M733 455L597 477L733 498M597 477L568 444"/>
<path d="M733 23L319 45L733 66M319 45L70 119L126 194L733 110M126 194L245 278M733 153L552 191L245 278L394 366L733 326M733 196L609 228L552 191M733 239L681 261L733 282M681 261L609 228M733 369L462 407L394 366M733 412L582 444L462 407M733 455L625 477L733 498M625 477L582 444"/>
<path d="M733 23L278 45L733 66M278 45L155 119L165 194L733 110M165 194L251 278M733 153L563 191L251 278L396 366L733 326M733 196L587 228L563 191M733 239L693 261L733 282M693 261L587 228M733 369L416 407L396 366M733 412L572 444L416 407M733 455L592 477L733 498M592 477L572 444"/>
<path d="M733 23L288 45L733 66M288 45L105 119L168 194L733 110M168 194L273 278M733 153L565 191L273 278L427 366L733 326M733 196L613 228L565 191M733 239L694 261L733 282M694 261L613 228M733 369L474 407L427 366M733 412L596 444L474 407M733 455L621 477L733 498M621 477L596 444"/>
<path d="M733 23L285 45L733 66M285 45L95 77L733 110M95 77L43 178L200 278M733 153L529 191L200 278L372 366L733 326M733 196L587 228L529 191M733 239L679 261L733 282M679 261L587 228M733 369L423 407L372 366M733 412L548 444L423 407M733 455L596 477L733 498M596 477L548 444"/>
<path d="M733 23L256 45L733 66M256 45L35 119L110 194L733 110M110 194L204 278M733 153L537 191L204 278L363 366L733 326M733 196L583 228L537 191M733 239L669 261L733 282M669 261L583 228M733 369L410 407L363 366M733 412L550 444L410 407M733 455L594 477L733 498M594 477L550 444"/>
<path d="M733 23L362 45L733 66M362 45L116 77L733 110M116 77L104 178L258 278M733 153L548 191L258 278L421 366L733 326M733 196L603 228L548 191M733 239L705 261L733 282M705 261L603 228M733 369L466 407L421 366M733 412L587 444L466 407M733 455L612 477L733 498M612 477L587 444"/>
<path d="M733 23L289 45L733 66M289 45L129 77L733 110M129 77L116 178L230 278M733 153L549 191L230 278L388 366L733 326M733 196L595 228L549 191M733 239L681 261L733 282M681 261L595 228M733 369L439 407L388 366M733 412L562 444L439 407M733 455L603 477L733 498M603 477L562 444"/>
<path d="M733 23L279 45L733 66M279 45L95 119L144 194L733 110M144 194L244 278M733 153L547 191L244 278L395 366L733 326M733 196L614 228L547 191M733 239L693 261L733 282M693 261L614 228M733 369L470 407L395 366M733 412L573 444L470 407M733 455L628 477L733 498M628 477L573 444"/>
<path d="M733 23L231 45L733 66M231 45L48 119L115 194L733 110M115 194L227 278M733 153L542 191L227 278L394 366L733 326M733 196L599 228L542 191M733 239L683 261L733 282M683 261L599 228M733 369L417 407L394 366M733 412L575 444L417 407M733 455L609 477L733 498M609 477L575 444"/>
<path d="M733 23L293 45L733 66M293 45L87 119L143 194L733 110M143 194L255 278M733 153L560 191L255 278L396 366L733 326M733 196L584 228L560 191M733 239L689 261L733 282M689 261L584 228M733 369L457 407L396 366M733 412L564 444L457 407M733 455L599 477L733 498M599 477L564 444"/>
<path d="M733 23L331 45L733 66M331 45L139 77L733 110M139 77L105 178L256 278M733 153L557 191L256 278L391 366L733 326M733 196L605 228L557 191M733 239L698 261L733 282M698 261L605 228M733 369L454 407L391 366M733 412L582 444L454 407M733 455L619 477L733 498M619 477L582 444"/>
<path d="M733 23L264 45L733 66M264 45L70 119L95 194L733 110M95 194L197 278M733 153L526 191L197 278L382 366L733 326M733 196L587 228L526 191M733 239L675 261L733 282M675 261L587 228M733 369L433 407L382 366M733 412L562 444L433 407M733 455L594 477L733 498M594 477L562 444"/>
<path d="M733 23L329 45L733 66M329 45L47 119L113 194L733 110M113 194L229 278M733 153L550 191L229 278L391 366L733 326M733 196L586 228L550 191M733 239L688 261L733 282M688 261L586 228M733 369L437 407L391 366M733 412L584 444L437 407M733 455L613 477L733 498M613 477L584 444"/>
<path d="M733 23L283 45L733 66M283 45L79 119L188 194L733 110M188 194L239 278M733 153L537 191L239 278L406 366L733 326M733 196L605 228L537 191M733 239L684 261L733 282M684 261L605 228M733 369L459 407L406 366M733 412L565 444L459 407M733 455L602 477L733 498M602 477L565 444"/>
<path d="M733 23L273 45L733 66M273 45L136 77L733 110M136 77L131 178L282 278M733 153L557 191L282 278L413 366L733 326M733 196L605 228L557 191M733 239L681 261L733 282M681 261L605 228M733 369L457 407L413 366M733 412L585 444L457 407M733 455L625 477L733 498M625 477L585 444"/>
<path d="M733 23L274 45L733 66M274 45L61 119L102 194L733 110M102 194L207 278M733 153L546 191L207 278L365 366L733 326M733 196L591 228L546 191M733 239L690 261L733 282M690 261L591 228M733 369L422 407L365 366M733 412L557 444L422 407M733 455L586 477L733 498M586 477L557 444"/>
<path d="M733 23L251 45L733 66M251 45L93 77L733 110M93 77L72 178L216 278M733 153L524 191L216 278L355 366L733 326M733 196L577 228L524 191M733 239L684 261L733 282M684 261L577 228M733 369L423 407L355 366M733 412L544 444L423 407M733 455L614 477L733 498M614 477L544 444"/>
<path d="M733 23L341 45L733 66M341 45L141 119L164 194L733 110M164 194L271 278M733 153L580 191L271 278L422 366L733 326M733 196L610 228L580 191M733 239L689 261L733 282M689 261L610 228M733 369L466 407L422 366M733 412L594 444L466 407M733 455L608 477L733 498M608 477L594 444"/>
<path d="M733 23L268 45L733 66M268 45L44 119L163 194L733 110M163 194L250 278M733 153L533 191L250 278L398 366L733 326M733 196L613 228L533 191M733 239L693 261L733 282M693 261L613 228M733 369L428 407L398 366M733 412L580 444L428 407M733 455L607 477L733 498M607 477L580 444"/>
<path d="M733 23L277 45L733 66M277 45L50 119L138 194L733 110M138 194L235 278M733 153L538 191L235 278L397 366L733 326M733 196L588 228L538 191M733 239L695 261L733 282M695 261L588 228M733 369L432 407L397 366M733 412L565 444L432 407M733 455L610 477L733 498M610 477L565 444"/>
<path d="M733 23L224 45L733 66M224 45L144 162L236 278M144 162L119 136L733 110M733 153L567 191L236 278L388 366L733 326M733 196L598 228L567 191M733 239L670 261L733 282M670 261L598 228M733 369L447 407L388 366M733 412L578 444L447 407M733 455L598 477L733 498M598 477L578 444"/>
<path d="M733 23L290 45L733 66M290 45L108 119L139 194L733 110M139 194L237 278M733 153L562 191L237 278L393 366L733 326M733 196L595 228L562 191M733 239L687 261L733 282M687 261L595 228M733 369L437 407L393 366M733 412L562 444L437 407M733 455L616 477L733 498M616 477L562 444"/>
<path d="M733 23L303 45L733 66M303 45L63 119L121 194L733 110M121 194L216 278M733 153L519 191L216 278L373 366L733 326M733 196L605 228L519 191M733 239L681 261L733 282M681 261L605 228M733 369L430 407L373 366M733 412L568 444L430 407M733 455L589 477L733 498M589 477L568 444"/>
<path d="M733 23L258 45L733 66M258 45L61 119L118 194L733 110M118 194L225 278M733 153L550 191L225 278L395 366L733 326M733 196L576 228L550 191M733 239L692 261L733 282M692 261L576 228M733 369L462 407L395 366M733 412L573 444L462 407M733 455L607 477L733 498M607 477L573 444"/>
<path d="M733 23L306 45L733 66M306 45L122 119L147 194L733 110M147 194L250 278M733 153L543 191L250 278L382 366L733 326M733 196L607 228L543 191M733 239L682 261L733 282M682 261L607 228M733 369L440 407L382 366M733 412L572 444L440 407M733 455L610 477L733 498M610 477L572 444"/>
<path d="M733 23L320 45L733 66M320 45L97 119L184 194L733 110M184 194L271 278M733 153L557 191L271 278L405 366L733 326M733 196L602 228L557 191M733 239L687 261L733 282M687 261L602 228M733 369L460 407L405 366M733 412L598 444L460 407M733 455L627 477L733 498M627 477L598 444"/>
<path d="M733 23L315 45L733 66M315 45L83 119L131 194L733 110M131 194L240 278M733 153L570 191L240 278L382 366L733 326M733 196L597 228L570 191M733 239L687 261L733 282M687 261L597 228M733 369L425 407L382 366M733 412L569 444L425 407M733 455L609 477L733 498M609 477L569 444"/>
<path d="M733 23L278 45L733 66M278 45L119 77L733 110M119 77L87 178L229 278M733 153L546 191L229 278L399 366L733 326M733 196L603 228L546 191M733 239L686 261L733 282M686 261L603 228M733 369L458 407L399 366M733 412L575 444L458 407M733 455L607 477L733 498M607 477L575 444"/>
<path d="M733 23L283 45L733 66M283 45L86 119L178 194L733 110M178 194L258 278M733 153L543 191L258 278L420 366L733 326M733 196L594 228L543 191M733 239L678 261L733 282M678 261L594 228M733 369L460 407L420 366M733 412L578 444L460 407M733 455L630 477L733 498M630 477L578 444"/>
<path d="M733 23L253 45L733 66M253 45L99 119L123 194L733 110M123 194L196 278M733 153L519 191L196 278L358 366L733 326M733 196L572 228L519 191M733 239L682 261L733 282M682 261L572 228M733 369L411 407L358 366M733 412L556 444L411 407M733 455L599 477L733 498M599 477L556 444"/>
<path d="M733 23L353 45L733 66M353 45L70 119L146 194L733 110M146 194L280 278M733 153L565 191L280 278L425 366L733 326M733 196L620 228L565 191M733 239L689 261L733 282M689 261L620 228M733 369L460 407L425 366M733 412L585 444L460 407M733 455L612 477L733 498M612 477L585 444"/>
<path d="M733 23L278 45L733 66M278 45L23 119L102 194L733 110M102 194L224 278M733 153L550 191L224 278L379 366L733 326M733 196L584 228L550 191M733 239L677 261L733 282M677 261L584 228M733 369L445 407L379 366M733 412L571 444L445 407M733 455L601 477L733 498M601 477L571 444"/>
<path d="M733 23L253 45L733 66M253 45L130 77L733 110M130 77L114 178L219 278M733 153L548 191L219 278L387 366L733 326M733 196L597 228L548 191M733 239L693 261L733 282M693 261L597 228M733 369L435 407L387 366M733 412L562 444L435 407M733 455L601 477L733 498M601 477L562 444"/>
<path d="M733 23L290 45L733 66M290 45L78 119L127 194L733 110M127 194L227 278M733 153L533 191L227 278L391 366L733 326M733 196L586 228L533 191M733 239L692 261L733 282M692 261L586 228M733 369L428 407L391 366M733 412L578 444L428 407M733 455L618 477L733 498M618 477L578 444"/>
<path d="M733 23L266 45L733 66M266 45L52 119L132 194L733 110M132 194L257 278M733 153L554 191L257 278L385 366L733 326M733 196L616 228L554 191M733 239L679 261L733 282M679 261L616 228M733 369L453 407L385 366M733 412L560 444L453 407M733 455L597 477L733 498M597 477L560 444"/>
<path d="M733 23L281 45L733 66M281 45L109 77L733 110M109 77L98 178L261 278M733 153L565 191L261 278L404 366L733 326M733 196L599 228L565 191M733 239L687 261L733 282M687 261L599 228M733 369L444 407L404 366M733 412L584 444L444 407M733 455L615 477L733 498M615 477L584 444"/>
<path d="M733 23L293 45L733 66M293 45L91 119L153 194L733 110M153 194L206 278M733 153L536 191L206 278L387 366L733 326M733 196L591 228L536 191M733 239L684 261L733 282M684 261L591 228M733 369L455 407L387 366M733 412L561 444L455 407M733 455L597 477L733 498M597 477L561 444"/>
<path d="M733 23L229 45L733 66M229 45L100 77L733 110M100 77L43 178L234 278M733 153L563 191L234 278L408 366L733 326M733 196L592 228L563 191M733 239L690 261L733 282M690 261L592 228M733 369L447 407L408 366M733 412L561 444L447 407M733 455L609 477L733 498M609 477L561 444"/>
<path d="M733 23L296 45L733 66M296 45L72 119L169 194L733 110M169 194L240 278M733 153L547 191L240 278L396 366L733 326M733 196L605 228L547 191M733 239L684 261L733 282M684 261L605 228M733 369L438 407L396 366M733 412L594 444L438 407M733 455L608 477L733 498M608 477L594 444"/>
<path d="M733 23L332 45L733 66M332 45L38 119L155 194L733 110M155 194L245 278M733 153L534 191L245 278L394 366L733 326M733 196L577 228L534 191M733 239L685 261L733 282M685 261L577 228M733 369L458 407L394 366M733 412L573 444L458 407M733 455L620 477L733 498M620 477L573 444"/>
<path d="M733 23L269 45L733 66M269 45L88 119L118 194L733 110M118 194L238 278M733 153L545 191L238 278L383 366L733 326M733 196L597 228L545 191M733 239L687 261L733 282M687 261L597 228M733 369L430 407L383 366M733 412L567 444L430 407M733 455L589 477L733 498M589 477L567 444"/>
<path d="M733 23L355 45L733 66M355 45L121 162L242 278M121 162L113 136L733 110M733 153L517 191L242 278L389 366L733 326M733 196L599 228L517 191M733 239L680 261L733 282M680 261L599 228M733 369L455 407L389 366M733 412L544 444L455 407M733 455L613 477L733 498M613 477L544 444"/>
<path d="M733 23L285 45L733 66M285 45L61 119L144 194L733 110M144 194L235 278M733 153L554 191L235 278L400 366L733 326M733 196L595 228L554 191M733 239L691 261L733 282M691 261L595 228M733 369L433 407L400 366M733 412L581 444L433 407M733 455L597 477L733 498M597 477L581 444"/>
<path d="M733 23L261 45L733 66M261 45L24 119L174 194L733 110M174 194L242 278M733 153L573 191L242 278L411 366L733 326M733 196L614 228L573 191M733 239L693 261L733 282M693 261L614 228M733 369L460 407L411 366M733 412L580 444L460 407M733 455L620 477L733 498M620 477L580 444"/>
<path d="M733 23L245 45L733 66M245 45L70 119L142 194L733 110M142 194L191 278M733 153L538 191L191 278L356 366L733 326M733 196L593 228L538 191M733 239L672 261L733 282M672 261L593 228M733 369L411 407L356 366M733 412L568 444L411 407M733 455L590 477L733 498M590 477L568 444"/>
<path d="M733 23L335 45L733 66M335 45L70 119L141 194L733 110M141 194L275 278M733 153L562 191L275 278L420 366L733 326M733 196L601 228L562 191M733 239L701 261L733 282M701 261L601 228M733 369L476 407L420 366M733 412L579 444L476 407M733 455L618 477L733 498M618 477L579 444"/>
<path d="M733 23L285 45L733 66M285 45L110 77L733 110M110 77L80 178L232 278M733 153L525 191L232 278L387 366L733 326M733 196L588 228L525 191M733 239L684 261L733 282M684 261L588 228M733 369L400 407L387 366M733 412L564 444L400 407M733 455L617 477L733 498M617 477L564 444"/>
<path d="M733 23L272 45L733 66M272 45L109 119L140 194L733 110M140 194L238 278M733 153L553 191L238 278L394 366L733 326M733 196L594 228L553 191M733 239L686 261L733 282M686 261L594 228M733 369L459 407L394 366M733 412L571 444L459 407M733 455L598 477L733 498M598 477L571 444"/>
<path d="M733 23L280 45L733 66M280 45L120 119L127 194L733 110M127 194L215 278M733 153L554 191L215 278L393 366L733 326M733 196L607 228L554 191M733 239L681 261L733 282M681 261L607 228M733 369L438 407L393 366M733 412L568 444L438 407M733 455L605 477L733 498M605 477L568 444"/>
<path d="M733 23L245 45L733 66M245 45L67 119L126 194L733 110M126 194L243 278M733 153L548 191L243 278L393 366L733 326M733 196L591 228L548 191M733 239L689 261L733 282M689 261L591 228M733 369L446 407L393 366M733 412L571 444L446 407M733 455L603 477L733 498M603 477L571 444"/>
<path d="M733 23L288 45L733 66M288 45L46 119L129 194L733 110M129 194L288 278M733 153L547 191L288 278L383 366L733 326M733 196L604 228L547 191M733 239L695 261L733 282M695 261L604 228M733 369L462 407L383 366M733 412L590 444L462 407M733 455L622 477L733 498M622 477L590 444"/>
<path d="M733 23L300 45L733 66M300 45L118 77L733 110M118 77L98 178L210 278M733 153L540 191L210 278L380 366L733 326M733 196L584 228L540 191M733 239L675 261L733 282M675 261L584 228M733 369L408 407L380 366M733 412L554 444L408 407M733 455L588 477L733 498M588 477L554 444"/>
<path d="M733 23L260 45L733 66M260 45L81 119L111 194L733 110M111 194L254 278M733 153L536 191L254 278L398 366L733 326M733 196L601 228L536 191M733 239L687 261L733 282M687 261L601 228M733 369L433 407L398 366M733 412L574 444L433 407M733 455L620 477L733 498M620 477L574 444"/>
<path d="M733 23L306 45L733 66M306 45L142 77L733 110M142 77L138 178L251 278M733 153L562 191L251 278L396 366L733 326M733 196L599 228L562 191M733 239L689 261L733 282M689 261L599 228M733 369L476 407L396 366M733 412L583 444L476 407M733 455L594 477L733 498M594 477L583 444"/>
<path d="M733 23L323 45L733 66M323 45L80 119L167 194L733 110M167 194L230 278M733 153L588 191L230 278L403 366L733 326M733 196L611 228L588 191M733 239L702 261L733 282M702 261L611 228M733 369L452 407L403 366M733 412L570 444L452 407M733 455L617 477L733 498M617 477L570 444"/>
<path d="M733 23L264 45L733 66M264 45L96 119L117 194L733 110M117 194L231 278M733 153L538 191L231 278L399 366L733 326M733 196L578 228L538 191M733 239L674 261L733 282M674 261L578 228M733 369L437 407L399 366M733 412L573 444L437 407M733 455L601 477L733 498M601 477L573 444"/>
<path d="M733 23L279 45L733 66M279 45L51 119L89 194L733 110M89 194L232 278M733 153L532 191L232 278L387 366L733 326M733 196L606 228L532 191M733 239L687 261L733 282M687 261L606 228M733 369L428 407L387 366M733 412L569 444L428 407M733 455L606 477L733 498M606 477L569 444"/>
<path d="M733 23L353 45L733 66M353 45L89 119L165 194L733 110M165 194L236 278M733 153L553 191L236 278L393 366L733 326M733 196L592 228L553 191M733 239L684 261L733 282M684 261L592 228M733 369L466 407L393 366M733 412L572 444L466 407M733 455L609 477L733 498M609 477L572 444"/>
<path d="M733 23L317 45L733 66M317 45L137 77L733 110M137 77L133 178L266 278M733 153L574 191L266 278L417 366L733 326M733 196L610 228L574 191M733 239L686 261L733 282M686 261L610 228M733 369L465 407L417 366M733 412L602 444L465 407M733 455L633 477L733 498M633 477L602 444"/>
<path d="M733 23L220 45L733 66M220 45L60 119L97 194L733 110M97 194L216 278M733 153L529 191L216 278L375 366L733 326M733 196L577 228L529 191M733 239L685 261L733 282M685 261L577 228M733 369L415 407L375 366M733 412L549 444L415 407M733 455L572 477L733 498M572 477L549 444"/>
<path d="M733 23L278 45L733 66M278 45L103 77L733 110M103 77L79 178L193 278M733 153L541 191L193 278L368 366L733 326M733 196L585 228L541 191M733 239L679 261L733 282M679 261L585 228M733 369L415 407L368 366M733 412L552 444L415 407M733 455L597 477L733 498M597 477L552 444"/>
<path d="M733 23L310 45L733 66M310 45L138 119L173 194L733 110M173 194L297 278M733 153L566 191L297 278L429 366L733 326M733 196L615 228L566 191M733 239L695 261L733 282M695 261L615 228M733 369L479 407L429 366M733 412L599 444L479 407M733 455L619 477L733 498M619 477L599 444"/>
<path d="M733 23L267 45L733 66M267 45L89 119L111 194L733 110M111 194L246 278M733 153L527 191L246 278L382 366L733 326M733 196L605 228L527 191M733 239L676 261L733 282M676 261L605 228M733 369L456 407L382 366M733 412L562 444L456 407M733 455L611 477L733 498M611 477L562 444"/>
<path d="M733 23L234 45L733 66M234 45L41 119L152 194L733 110M152 194L223 278M733 153L563 191L223 278L373 366L733 326M733 196L594 228L563 191M733 239L688 261L733 282M688 261L594 228M733 369L430 407L373 366M733 412L550 444L430 407M733 455L621 477L733 498M621 477L550 444"/>
<path d="M733 23L304 45L733 66M304 45L112 77L733 110M112 77L87 178L270 278M733 153L552 191L270 278L410 366L733 326M733 196L602 228L552 191M733 239L684 261L733 282M684 261L602 228M733 369L462 407L410 366M733 412L591 444L462 407M733 455L603 477L733 498M603 477L591 444"/>
<path d="M733 23L258 45L733 66M258 45L61 119L113 194L733 110M113 194L192 278M733 153L542 191L192 278L367 366L733 326M733 196L569 228L542 191M733 239L685 261L733 282M685 261L569 228M733 369L431 407L367 366M733 412L565 444L431 407M733 455L592 477L733 498M592 477L565 444"/>
<path d="M733 23L278 45L733 66M278 45L54 119L106 194L733 110M106 194L216 278M733 153L529 191L216 278L374 366L733 326M733 196L614 228L529 191M733 239L691 261L733 282M691 261L614 228M733 369L452 407L374 366M733 412L579 444L452 407M733 455L602 477L733 498M602 477L579 444"/>
<path d="M733 23L263 45L733 66M263 45L131 119L157 194L733 110M157 194L235 278M733 153L555 191L235 278L408 366L733 326M733 196L594 228L555 191M733 239L680 261L733 282M680 261L594 228M733 369L439 407L408 366M733 412L569 444L439 407M733 455L606 477L733 498M606 477L569 444"/>
<path d="M733 23L287 45L733 66M287 45L103 119L170 194L733 110M170 194L253 278M733 153L570 191L253 278L413 366L733 326M733 196L606 228L570 191M733 239L688 261L733 282M688 261L606 228M733 369L461 407L413 366M733 412L583 444L461 407M733 455L623 477L733 498M623 477L583 444"/>
<path d="M733 23L278 45L733 66M278 45L153 162L219 278M153 162L144 136L733 110M733 153L528 191L219 278L347 366L733 326M733 196L577 228L528 191M733 239L681 261L733 282M681 261L577 228M733 369L403 407L347 366M733 412L548 444L403 407M733 455L579 477L733 498M579 477L548 444"/>
<path d="M733 23L267 45L733 66M267 45L55 119L90 194L733 110M90 194L238 278M733 153L554 191L238 278L396 366L733 326M733 196L582 228L554 191M733 239L675 261L733 282M675 261L582 228M733 369L445 407L396 366M733 412L575 444L445 407M733 455L609 477L733 498M609 477L575 444"/>
<path d="M733 23L315 45L733 66M315 45L113 119L155 194L733 110M155 194L239 278M733 153L550 191L239 278L391 366L733 326M733 196L608 228L550 191M733 239L694 261L733 282M694 261L608 228M733 369L421 407L391 366M733 412L550 444L421 407M733 455L597 477L733 498M597 477L550 444"/>
<path d="M733 23L325 45L733 66M325 45L104 119L177 194L733 110M177 194L244 278M733 153L554 191L244 278L410 366L733 326M733 196L604 228L554 191M733 239L693 261L733 282M693 261L604 228M733 369L476 407L410 366M733 412L593 444L476 407M733 455L626 477L733 498M626 477L593 444"/>
<path d="M733 23L232 45L733 66M232 45L87 77L733 110M87 77L46 178L199 278M733 153L530 191L199 278L361 366L733 326M733 196L581 228L530 191M733 239L676 261L733 282M676 261L581 228M733 369L407 407L361 366M733 412L550 444L407 407M733 455L584 477L733 498M584 477L550 444"/>
<path d="M733 23L305 45L733 66M305 45L37 119L104 194L733 110M104 194L190 278M733 153L515 191L190 278L367 366L733 326M733 196L581 228L515 191M733 239L675 261L733 282M675 261L581 228M733 369L409 407L367 366M733 412L546 444L409 407M733 455L592 477L733 498M592 477L546 444"/>
<path d="M733 23L320 45L733 66M320 45L150 77L733 110M150 77L141 178L289 278M733 153L579 191L289 278L420 366L733 326M733 196L620 228L579 191M733 239L700 261L733 282M700 261L620 228M733 369L483 407L420 366M733 412L609 444L483 407M733 455L626 477L733 498M626 477L609 444"/>
<path d="M733 23L256 45L733 66M256 45L111 119L122 194L733 110M122 194L276 278M733 153L570 191L276 278L397 366L733 326M733 196L588 228L570 191M733 239L691 261L733 282M691 261L588 228M733 369L437 407L397 366M733 412L570 444L437 407M733 455L624 477L733 498M624 477L570 444"/>
<path d="M733 23L294 45L733 66M294 45L78 119L163 194L733 110M163 194L236 278M733 153L545 191L236 278L401 366L733 326M733 196L606 228L545 191M733 239L683 261L733 282M683 261L606 228M733 369L460 407L401 366M733 412L575 444L460 407M733 455L594 477L733 498M594 477L575 444"/>
<path d="M733 23L245 45L733 66M245 45L123 162L209 278M123 162L106 136L733 110M733 153L521 191L209 278L372 366L733 326M733 196L586 228L521 191M733 239L681 261L733 282M681 261L586 228M733 369L430 407L372 366M733 412L560 444L430 407M733 455L601 477L733 498M601 477L560 444"/>
<path d="M733 23L324 45L733 66M324 45L103 119L148 194L733 110M148 194L280 278M733 153L576 191L280 278L414 366L733 326M733 196L590 228L576 191M733 239L701 261L733 282M701 261L590 228M733 369L484 407L414 366M733 412L577 444L484 407M733 455L628 477L733 498M628 477L577 444"/>
<path d="M733 23L247 45L733 66M247 45L26 119L109 194L733 110M109 194L202 278M733 153L527 191L202 278L362 366L733 326M733 196L592 228L527 191M733 239L668 261L733 282M668 261L592 228M733 369L406 407L362 366M733 412L570 444L406 407M733 455L586 477L733 498M586 477L570 444"/>
<path d="M733 23L273 45L733 66M273 45L42 119L115 194L733 110M115 194L228 278M733 153L549 191L228 278L351 366L733 326M733 196L582 228L549 191M733 239L680 261L733 282M680 261L582 228M733 369L411 407L351 366M733 412L567 444L411 407M733 455L611 477L733 498M611 477L567 444"/>
<path d="M733 23L242 45L733 66M242 45L86 119L157 194L733 110M157 194L250 278M733 153L553 191L250 278L410 366L733 326M733 196L616 228L553 191M733 239L692 261L733 282M692 261L616 228M733 369L463 407L410 366M733 412L579 444L463 407M733 455L597 477L733 498M597 477L579 444"/>
<path d="M733 23L297 45L733 66M297 45L108 119L182 194L733 110M182 194L244 278M733 153L548 191L244 278L419 366L733 326M733 196L602 228L548 191M733 239L697 261L733 282M697 261L602 228M733 369L461 407L419 366M733 412L590 444L461 407M733 455L618 477L733 498M618 477L590 444"/>
<path d="M733 23L273 45L733 66M273 45L103 77L733 110M103 77L74 178L225 278M733 153L547 191L225 278L388 366L733 326M733 196L587 228L547 191M733 239L668 261L733 282M668 261L587 228M733 369L448 407L388 366M733 412L565 444L448 407M733 455L613 477L733 498M613 477L565 444"/>
<path d="M733 23L317 45L733 66M317 45L52 119L210 194L733 110M210 194L272 278M733 153L556 191L272 278L415 366L733 326M733 196L599 228L556 191M733 239L692 261L733 282M692 261L599 228M733 369L468 407L415 366M733 412L573 444L468 407M733 455L622 477L733 498M622 477L573 444"/>
<path d="M733 23L279 45L733 66M279 45L60 119L110 194L733 110M110 194L192 278M733 153L522 191L192 278L367 366L733 326M733 196L568 228L522 191M733 239L671 261L733 282M671 261L568 228M733 369L403 407L367 366M733 412L552 444L403 407M733 455L590 477L733 498M590 477L552 444"/>
<path d="M733 23L310 45L733 66M310 45L61 119L134 194L733 110M134 194L272 278M733 153L579 191L272 278L423 366L733 326M733 196L623 228L579 191M733 239L701 261L733 282M701 261L623 228M733 369L485 407L423 366M733 412L588 444L485 407M733 455L620 477L733 498M620 477L588 444"/>
<path d="M733 23L261 45L733 66M261 45L97 77L733 110M97 77L69 178L231 278M733 153L548 191L231 278L384 366L733 326M733 196L594 228L548 191M733 239L688 261L733 282M688 261L594 228M733 369L411 407L384 366M733 412L595 444L411 407M733 455L614 477L733 498M614 477L595 444"/>
<path d="M733 23L298 45L733 66M298 45L100 119L142 194L733 110M142 194L260 278M733 153L537 191L260 278L392 366L733 326M733 196L600 228L537 191M733 239L684 261L733 282M684 261L600 228M733 369L453 407L392 366M733 412L563 444L453 407M733 455L598 477L733 498M598 477L563 444"/>
<path d="M733 23L203 45L733 66M203 45L114 119L136 194L733 110M136 194L227 278M733 153L541 191L227 278L368 366L733 326M733 196L576 228L541 191M733 239L682 261L733 282M682 261L576 228M733 369L437 407L368 366M733 412L578 444L437 407M733 455L601 477L733 498M601 477L578 444"/>
<path d="M733 23L308 45L733 66M308 45L72 119L155 194L733 110M155 194L258 278M733 153L572 191L258 278L419 366L733 326M733 196L615 228L572 191M733 239L692 261L733 282M692 261L615 228M733 369L464 407L419 366M733 412L579 444L464 407M733 455L616 477L733 498M616 477L579 444"/>
<path d="M733 23L347 45L733 66M347 45L26 119L134 194L733 110M134 194L262 278M733 153L566 191L262 278L424 366L733 326M733 196L605 228L566 191M733 239L700 261L733 282M700 261L605 228M733 369L475 407L424 366M733 412L586 444L475 407M733 455L640 477L733 498M640 477L586 444"/>
<path d="M733 23L264 45L733 66M264 45L118 77L733 110M118 77L95 178L232 278M733 153L529 191L232 278L374 366L733 326M733 196L591 228L529 191M733 239L672 261L733 282M672 261L591 228M733 369L407 407L374 366M733 412L558 444L407 407M733 455L584 477L733 498M584 477L558 444"/>
<path d="M733 23L281 45L733 66M281 45L76 119L94 194L733 110M94 194L212 278M733 153L544 191L212 278L370 366L733 326M733 196L584 228L544 191M733 239L679 261L733 282M679 261L584 228M733 369L412 407L370 366M733 412L551 444L412 407M733 455L605 477L733 498M605 477L551 444"/>
<path d="M733 23L272 45L733 66M272 45L137 77L733 110M137 77L132 178L260 278M733 153L539 191L260 278L421 366L733 326M733 196L604 228L539 191M733 239L692 261L733 282M692 261L604 228M733 369L473 407L421 366M733 412L586 444L473 407M733 455L603 477L733 498M603 477L586 444"/>
<path d="M733 23L284 45L733 66M284 45L82 119L159 194L733 110M159 194L264 278M733 153L555 191L264 278L411 366L733 326M733 196L597 228L555 191M733 239L695 261L733 282M695 261L597 228M733 369L453 407L411 366M733 412L581 444L453 407M733 455L620 477L733 498M620 477L581 444"/>
<path d="M733 23L263 45L733 66M263 45L76 119L106 194L733 110M106 194L214 278M733 153L537 191L214 278L387 366L733 326M733 196L591 228L537 191M733 239L687 261L733 282M687 261L591 228M733 369L411 407L387 366M733 412L558 444L411 407M733 455L606 477L733 498M606 477L558 444"/>
<path d="M733 23L314 45L733 66M314 45L156 162L243 278M156 162L124 136L733 110M733 153L577 191L243 278L395 366L733 326M733 196L592 228L577 191M733 239L683 261L733 282M683 261L592 228M733 369L458 407L395 366M733 412L584 444L458 407M733 455L604 477L733 498M604 477L584 444"/>
<path d="M733 23L323 45L733 66M323 45L81 119L190 194L733 110M190 194L280 278M733 153L567 191L280 278L403 366L733 326M733 196L619 228L567 191M733 239L685 261L733 282M685 261L619 228M733 369L461 407L403 366M733 412L582 444L461 407M733 455L625 477L733 498M625 477L582 444"/>
<path d="M733 23L320 45L733 66M320 45L86 119L148 194L733 110M148 194L283 278M733 153L563 191L283 278L422 366L733 326M733 196L602 228L563 191M733 239L693 261L733 282M693 261L602 228M733 369L475 407L422 366M733 412L581 444L475 407M733 455L613 477L733 498M613 477L581 444"/>
<path d="M733 23L252 45L733 66M252 45L33 119L131 194L733 110M131 194L227 278M733 153L548 191L227 278L390 366L733 326M733 196L603 228L548 191M733 239L678 261L733 282M678 261L603 228M733 369L460 407L390 366M733 412L577 444L460 407M733 455L608 477L733 498M608 477L577 444"/>
<path d="M733 23L293 45L733 66M293 45L94 119L149 194L733 110M149 194L247 278M733 153L561 191L247 278L408 366L733 326M733 196L597 228L561 191M733 239L696 261L733 282M696 261L597 228M733 369L436 407L408 366M733 412L573 444L436 407M733 455L605 477L733 498M605 477L573 444"/>
<path d="M733 23L243 45L733 66M243 45L75 119L124 194L733 110M124 194L231 278M733 153L541 191L231 278L375 366L733 326M733 196L595 228L541 191M733 239L689 261L733 282M689 261L595 228M733 369L420 407L375 366M733 412L569 444L420 407M733 455L608 477L733 498M608 477L569 444"/>
<path d="M733 23L317 45L733 66M317 45L64 119L159 194L733 110M159 194L266 278M733 153L550 191L266 278L424 366L733 326M733 196L588 228L550 191M733 239L684 261L733 282M684 261L588 228M733 369L467 407L424 366M733 412L584 444L467 407M733 455L611 477L733 498M611 477L584 444"/>
<path d="M733 23L326 45L733 66M326 45L98 77L733 110M98 77L90 178L245 278M733 153L558 191L245 278L417 366L733 326M733 196L610 228L558 191M733 239L688 261L733 282M688 261L610 228M733 369L451 407L417 366M733 412L592 444L451 407M733 455L621 477L733 498M621 477L592 444"/>
<path d="M733 23L251 45L733 66M251 45L99 119L133 194L733 110M133 194L217 278M733 153L544 191L217 278L356 366L733 326M733 196L585 228L544 191M733 239L684 261L733 282M684 261L585 228M733 369L445 407L356 366M733 412L544 444L445 407M733 455L589 477L733 498M589 477L544 444"/>
<path d="M733 23L273 45L733 66M273 45L75 77L733 110M75 77L32 178L207 278M733 153L533 191L207 278L369 366L733 326M733 196L591 228L533 191M733 239L696 261L733 282M696 261L591 228M733 369L437 407L369 366M733 412L559 444L437 407M733 455L600 477L733 498M600 477L559 444"/>
<path d="M733 23L255 45L733 66M255 45L66 119L190 194L733 110M190 194L257 278M733 153L572 191L257 278L409 366L733 326M733 196L600 228L572 191M733 239L679 261L733 282M679 261L600 228M733 369L443 407L409 366M733 412L584 444L443 407M733 455L614 477L733 498M614 477L584 444"/>
<path d="M733 23L296 45L733 66M296 45L40 119L158 194L733 110M158 194L280 278M733 153L564 191L280 278L425 366L733 326M733 196L623 228L564 191M733 239L690 261L733 282M690 261L623 228M733 369L466 407L425 366M733 412L574 444L466 407M733 455L631 477L733 498M631 477L574 444"/>
<path d="M733 23L269 45L733 66M269 45L120 77L733 110M120 77L115 178L198 278M733 153L526 191L198 278L367 366L733 326M733 196L579 228L526 191M733 239L692 261L733 282M692 261L579 228M733 369L432 407L367 366M733 412L556 444L432 407M733 455L608 477L733 498M608 477L556 444"/>
<path d="M733 23L337 45L733 66M337 45L99 119L137 194L733 110M137 194L258 278M733 153L562 191L258 278L409 366L733 326M733 196L612 228L562 191M733 239L681 261L733 282M681 261L612 228M733 369L449 407L409 366M733 412L598 444L449 407M733 455L605 477L733 498M605 477L598 444"/>
<path d="M733 23L217 45L733 66M217 45L62 119L154 194L733 110M154 194L226 278M733 153L538 191L226 278L383 366L733 326M733 196L597 228L538 191M733 239L686 261L733 282M686 261L597 228M733 369L423 407L383 366M733 412L569 444L423 407M733 455L596 477L733 498M596 477L569 444"/>
<path d="M733 23L297 45L733 66M297 45L65 119L96 194L733 110M96 194L251 278M733 153L556 191L251 278L382 366L733 326M733 196L588 228L556 191M733 239L689 261L733 282M689 261L588 228M733 369L419 407L382 366M733 412L577 444L419 407M733 455L605 477L733 498M605 477L577 444"/>
<path d="M733 23L280 45L733 66M280 45L106 119L165 194L733 110M165 194L250 278M733 153L554 191L250 278L416 366L733 326M733 196L604 228L554 191M733 239L684 261L733 282M684 261L604 228M733 369L466 407L416 366M733 412L565 444L466 407M733 455L613 477L733 498M613 477L565 444"/>
<path d="M733 23L267 45L733 66M267 45L127 77L733 110M127 77L104 178L236 278M733 153L545 191L236 278L400 366L733 326M733 196L590 228L545 191M733 239L684 261L733 282M684 261L590 228M733 369L448 407L400 366M733 412L581 444L448 407M733 455L623 477L733 498M623 477L581 444"/>
<path d="M733 23L291 45L733 66M291 45L46 119L117 194L733 110M117 194L229 278M733 153L546 191L229 278L379 366L733 326M733 196L603 228L546 191M733 239L688 261L733 282M688 261L603 228M733 369L439 407L379 366M733 412L565 444L439 407M733 455L579 477L733 498M579 477L565 444"/>
<path d="M733 23L264 45L733 66M264 45L31 119L144 194L733 110M144 194L266 278M733 153L563 191L266 278L407 366L733 326M733 196L598 228L563 191M733 239L689 261L733 282M689 261L598 228M733 369L467 407L407 366M733 412L582 444L467 407M733 455L617 477L733 498M617 477L582 444"/>
<path d="M733 23L288 45L733 66M288 45L89 119L137 194L733 110M137 194L225 278M733 153L542 191L225 278L374 366L733 326M733 196L596 228L542 191M733 239L684 261L733 282M684 261L596 228M733 369L415 407L374 366M733 412L568 444L415 407M733 455L599 477L733 498M599 477L568 444"/>
<path d="M733 23L356 45L733 66M356 45L128 119L192 194L733 110M192 194L267 278M733 153L554 191L267 278L420 366L733 326M733 196L603 228L554 191M733 239L682 261L733 282M682 261L603 228M733 369L479 407L420 366M733 412L597 444L479 407M733 455L630 477L733 498M630 477L597 444"/>
<path d="M733 23L257 45L733 66M257 45L156 162L208 278M156 162L131 136L733 110M733 153L534 191L208 278L376 366L733 326M733 196L598 228L534 191M733 239L693 261L733 282M693 261L598 228M733 369L413 407L376 366M733 412L546 444L413 407M733 455L583 477L733 498M583 477L546 444"/>
<path d="M733 23L276 45L733 66M276 45L64 119L155 194L733 110M155 194L191 278M733 153L505 191L191 278L387 366L733 326M733 196L569 228L505 191M733 239L683 261L733 282M683 261L569 228M733 369L413 407L387 366M733 412L554 444L413 407M733 455L621 477L733 498M621 477L554 444"/>
<path d="M733 23L277 45L733 66M277 45L109 77L733 110M109 77L70 178L263 278M733 153L563 191L263 278L402 366L733 326M733 196L611 228L563 191M733 239L687 261L733 282M687 261L611 228M733 369L458 407L402 366M733 412L582 444L458 407M733 455L602 477L733 498M602 477L582 444"/>
<path d="M733 23L268 45L733 66M268 45L79 119L115 194L733 110M115 194L234 278M733 153L558 191L234 278L374 366L733 326M733 196L590 228L558 191M733 239L677 261L733 282M677 261L590 228M733 369L425 407L374 366M733 412L561 444L425 407M733 455L601 477L733 498M601 477L561 444"/>
<path d="M733 23L310 45L733 66M310 45L48 119L127 194L733 110M127 194L227 278M733 153L538 191L227 278L389 366L733 326M733 196L596 228L538 191M733 239L690 261L733 282M690 261L596 228M733 369L453 407L389 366M733 412L581 444L453 407M733 455L600 477L733 498M600 477L581 444"/>
<path d="M733 23L255 45L733 66M255 45L62 119L116 194L733 110M116 194L210 278M733 153L555 191L210 278L376 366L733 326M733 196L596 228L555 191M733 239L680 261L733 282M680 261L596 228M733 369L425 407L376 366M733 412L562 444L425 407M733 455L598 477L733 498M598 477L562 444"/>
<path d="M733 23L317 45L733 66M317 45L127 77L733 110M127 77L83 178L264 278M733 153L548 191L264 278L408 366L733 326M733 196L590 228L548 191M733 239L691 261L733 282M691 261L590 228M733 369L459 407L408 366M733 412L583 444L459 407M733 455L610 477L733 498M610 477L583 444"/>
<path d="M733 23L298 45L733 66M298 45L79 119L116 194L733 110M116 194L243 278M733 153L529 191L243 278L398 366L733 326M733 196L603 228L529 191M733 239L693 261L733 282M693 261L603 228M733 369L428 407L398 366M733 412L562 444L428 407M733 455L624 477L733 498M624 477L562 444"/>
<path d="M733 23L248 45L733 66M248 45L40 119L160 194L733 110M160 194L215 278M733 153L546 191L215 278L371 366L733 326M733 196L591 228L546 191M733 239L678 261L733 282M678 261L591 228M733 369L441 407L371 366M733 412L572 444L441 407M733 455L586 477L733 498M586 477L572 444"/>
<path d="M733 23L313 45L733 66M313 45L38 119L82 194L733 110M82 194L235 278M733 153L533 191L235 278L378 366L733 326M733 196L593 228L533 191M733 239L683 261L733 282M683 261L593 228M733 369L454 407L378 366M733 412L569 444L454 407M733 455L609 477L733 498M609 477L569 444"/>
<path d="M733 23L295 45L733 66M295 45L104 119L180 194L733 110M180 194L246 278M733 153L560 191L246 278L410 366L733 326M733 196L599 228L560 191M733 239L690 261L733 282M690 261L599 228M733 369L448 407L410 366M733 412L580 444L448 407M733 455L606 477L733 498M606 477L580 444"/>
<path d="M733 23L246 45L733 66M246 45L135 119L154 194L733 110M154 194L248 278M733 153L564 191L248 278L415 366L733 326M733 196L614 228L564 191M733 239L698 261L733 282M698 261L614 228M733 369L456 407L415 366M733 412L589 444L456 407M733 455L618 477L733 498M618 477L589 444"/>
<path d="M733 23L285 45L733 66M285 45L106 77L733 110M106 77L97 178L242 278M733 153L542 191L242 278L385 366L733 326M733 196L586 228L542 191M733 239L673 261L733 282M673 261L586 228M733 369L432 407L385 366M733 412L563 444L432 407M733 455L600 477L733 498M600 477L563 444"/>
<path d="M733 23L274 45L733 66M274 45L79 119L140 194L733 110M140 194L254 278M733 153L544 191L254 278L411 366L733 326M733 196L602 228L544 191M733 239L683 261L733 282M683 261L602 228M733 369L442 407L411 366M733 412L592 444L442 407M733 455L625 477L733 498M625 477L592 444"/>
<path d="M733 23L291 45L733 66M291 45L100 119L133 194L733 110M133 194L206 278M733 153L546 191L206 278L380 366L733 326M733 196L587 228L546 191M733 239L689 261L733 282M689 261L587 228M733 369L446 407L380 366M733 412L556 444L446 407M733 455L583 477L733 498M583 477L556 444"/>
<path d="M733 23L337 45L733 66M337 45L170 77L733 110M170 77L151 178L272 278M733 153L576 191L272 278L401 366L733 326M733 196L628 228L576 191M733 239L696 261L733 282M696 261L628 228M733 369L465 407L401 366M733 412L591 444L465 407M733 455L623 477L733 498M623 477L591 444"/>
<path d="M733 23L245 45L733 66M245 45L40 119L64 194L733 110M64 194L211 278M733 153L529 191L211 278L368 366L733 326M733 196L575 228L529 191M733 239L675 261L733 282M675 261L575 228M733 369L413 407L368 366M733 412L549 444L413 407M733 455L589 477L733 498M589 477L549 444"/>
<path d="M733 23L272 45L733 66M272 45L115 77L733 110M115 77L80 178L207 278M733 153L557 191L207 278L375 366L733 326M733 196L593 228L557 191M733 239L673 261L733 282M673 261L593 228M733 369L430 407L375 366M733 412L541 444L430 407M733 455L599 477L733 498M599 477L541 444"/>
<path d="M733 23L265 45L733 66M265 45L97 119L139 194L733 110M139 194L279 278M733 153L555 191L279 278L402 366L733 326M733 196L587 228L555 191M733 239L698 261L733 282M698 261L587 228M733 369L458 407L402 366M733 412L591 444L458 407M733 455L610 477L733 498M610 477L591 444"/>
<path d="M733 23L262 45L733 66M262 45L102 119L131 194L733 110M131 194L231 278M733 153L542 191L231 278L370 366L733 326M733 196L594 228L542 191M733 239L679 261L733 282M679 261L594 228M733 369L419 407L370 366M733 412L570 444L419 407M733 455L601 477L733 498M601 477L570 444"/>
<path d="M733 23L331 45L733 66M331 45L83 119L123 194L733 110M123 194L248 278M733 153L547 191L248 278L406 366L733 326M733 196L603 228L547 191M733 239L693 261L733 282M693 261L603 228M733 369L460 407L406 366M733 412L569 444L460 407M733 455L609 477L733 498M609 477L569 444"/>
<path d="M733 23L291 45L733 66M291 45L108 162L229 278M108 162L98 136L733 110M733 153L549 191L229 278L404 366L733 326M733 196L605 228L549 191M733 239L692 261L733 282M692 261L605 228M733 369L431 407L404 366M733 412L576 444L431 407M733 455L616 477L733 498M616 477L576 444"/>
<path d="M733 23L233 45L733 66M233 45L79 119L138 194L733 110M138 194L230 278M733 153L554 191L230 278L381 366L733 326M733 196L579 228L554 191M733 239L679 261L733 282M679 261L579 228M733 369L455 407L381 366M733 412L566 444L455 407M733 455L593 477L733 498M593 477L566 444"/>
<path d="M733 23L295 45L733 66M295 45L82 119L105 194L733 110M105 194L205 278M733 153L535 191L205 278L377 366L733 326M733 196L601 228L535 191M733 239L681 261L733 282M681 261L601 228M733 369L436 407L377 366M733 412L557 444L436 407M733 455L610 477L733 498M610 477L557 444"/>
<path d="M733 23L260 45L733 66M260 45L60 119L171 194L733 110M171 194L253 278M733 153L558 191L253 278L400 366L733 326M733 196L599 228L558 191M733 239L695 261L733 282M695 261L599 228M733 369L452 407L400 366M733 412L570 444L452 407M733 455L611 477L733 498M611 477L570 444"/>
<path d="M733 23L257 45L733 66M257 45L104 119L124 194L733 110M124 194L233 278M733 153L548 191L233 278L407 366L733 326M733 196L619 228L548 191M733 239L683 261L733 282M683 261L619 228M733 369L432 407L407 366M733 412L574 444L432 407M733 455L622 477L733 498M622 477L574 444"/>
<path d="M733 23L289 45L733 66M289 45L117 77L733 110M117 77L93 178L241 278M733 153L563 191L241 278L382 366L733 326M733 196L589 228L563 191M733 239L693 261L733 282M693 261L589 228M733 369L452 407L382 366M733 412L573 444L452 407M733 455L596 477L733 498M596 477L573 444"/>
<path d="M733 23L384 45L733 66M384 45L63 119L170 194L733 110M170 194L288 278M733 153L571 191L288 278L416 366L733 326M733 196L612 228L571 191M733 239L695 261L733 282M695 261L612 228M733 369L470 407L416 366M733 412L582 444L470 407M733 455L627 477L733 498M627 477L582 444"/>
<path d="M733 23L263 45L733 66M263 45L70 119L97 194L733 110M97 194L208 278M733 153L516 191L208 278L390 366L733 326M733 196L581 228L516 191M733 239L679 261L733 282M679 261L581 228M733 369L427 407L390 366M733 412L578 444L427 407M733 455L590 477L733 498M590 477L578 444"/>
<path d="M733 23L279 45L733 66M279 45L82 119L113 194L733 110M113 194L226 278M733 153L534 191L226 278L376 366L733 326M733 196L588 228L534 191M733 239L666 261L733 282M666 261L588 228M733 369L419 407L376 366M733 412L562 444L419 407M733 455L593 477L733 498M593 477L562 444"/>
<path d="M733 23L285 45L733 66M285 45L43 119L153 194L733 110M153 194L256 278M733 153L548 191L256 278L409 366L733 326M733 196L604 228L548 191M733 239L701 261L733 282M701 261L604 228M733 369L456 407L409 366M733 412L581 444L456 407M733 455L613 477L733 498M613 477L581 444"/>
<path d="M733 23L268 45L733 66M268 45L65 119L88 194L733 110M88 194L219 278M733 153L542 191L219 278L372 366L733 326M733 196L600 228L542 191M733 239L685 261L733 282M685 261L600 228M733 369L453 407L372 366M733 412L579 444L453 407M733 455L622 477L733 498M622 477L579 444"/>
<path d="M733 23L307 45L733 66M307 45L128 77L733 110M128 77L123 178L235 278M733 153L557 191L235 278L395 366L733 326M733 196L568 228L557 191M733 239L685 261L733 282M685 261L568 228M733 369L430 407L395 366M733 412L556 444L430 407M733 455L593 477L733 498M593 477L556 444"/>
<path d="M733 23L250 45L733 66M250 45L78 119L133 194L733 110M133 194L217 278M733 153L534 191L217 278L369 366L733 326M733 196L585 228L534 191M733 239L699 261L733 282M699 261L585 228M733 369L426 407L369 366M733 412L563 444L426 407M733 455L611 477L733 498M611 477L563 444"/>
<path d="M733 23L316 45L733 66M316 45L25 119L96 194L733 110M96 194L219 278M733 153L563 191L219 278L415 366L733 326M733 196L606 228L563 191M733 239L677 261L733 282M677 261L606 228M733 369L452 407L415 366M733 412L574 444L452 407M733 455L599 477L733 498M599 477L574 444"/>
<path d="M733 23L292 45L733 66M292 45L58 119L125 194L733 110M125 194L229 278M733 153L546 191L229 278L388 366L733 326M733 196L583 228L546 191M733 239L684 261L733 282M684 261L583 228M733 369L447 407L388 366M733 412L584 444L447 407M733 455L604 477L733 498M604 477L584 444"/>
<path d="M733 23L248 45L733 66M248 45L100 77L733 110M100 77L61 178L234 278M733 153L528 191L234 278L374 366L733 326M733 196L601 228L528 191M733 239L684 261L733 282M684 261L601 228M733 369L416 407L374 366M733 412L557 444L416 407M733 455L598 477L733 498M598 477L557 444"/>
<path d="M733 23L309 45L733 66M309 45L99 119L107 194L733 110M107 194L217 278M733 153L546 191L217 278L370 366L733 326M733 196L581 228L546 191M733 239L689 261L733 282M689 261L581 228M733 369L417 407L370 366M733 412L563 444L417 407M733 455L605 477L733 498M605 477L563 444"/>
<path d="M733 23L296 45L733 66M296 45L131 77L733 110M131 77L114 178L286 278M733 153L535 191L286 278L412 366L733 326M733 196L616 228L535 191M733 239L683 261L733 282M683 261L616 228M733 369L495 407L412 366M733 412L588 444L495 407M733 455L613 477L733 498M613 477L588 444"/>
<path d="M733 23L241 45L733 66M241 45L59 119L178 194L733 110M178 194L248 278M733 153L546 191L248 278L406 366L733 326M733 196L595 228L546 191M733 239L685 261L733 282M685 261L595 228M733 369L441 407L406 366M733 412L558 444L441 407M733 455L617 477L733 498M617 477L558 444"/>
<path d="M733 23L284 45L733 66M284 45L83 119L107 194L733 110M107 194L222 278M733 153L560 191L222 278L389 366L733 326M733 196L595 228L560 191M733 239L687 261L733 282M687 261L595 228M733 369L442 407L389 366M733 412L579 444L442 407M733 455L593 477L733 498M593 477L579 444"/>
<path d="M733 23L282 45L733 66M282 45L111 77L733 110M111 77L102 178L256 278M733 153L566 191L256 278L427 366L733 326M733 196L598 228L566 191M733 239L692 261L733 282M692 261L598 228M733 369L480 407L427 366M733 412L571 444L480 407M733 455L619 477L733 498M619 477L571 444"/>
<path d="M733 23L295 45L733 66M295 45L36 119L155 194L733 110M155 194L246 278M733 153L530 191L246 278L381 366L733 326M733 196L609 228L530 191M733 239L683 261L733 282M683 261L609 228M733 369L427 407L381 366M733 412L575 444L427 407M733 455L601 477L733 498M601 477L575 444"/>
<path d="M733 23L340 45L733 66M340 45L78 119L173 194L733 110M173 194L276 278M733 153L559 191L276 278L411 366L733 326M733 196L606 228L559 191M733 239L684 261L733 282M684 261L606 228M733 369L470 407L411 366M733 412L588 444L470 407M733 455L634 477L733 498M634 477L588 444"/>
<path d="M733 23L272 45L733 66M272 45L90 119L121 194L733 110M121 194L218 278M733 153L534 191L218 278L378 366L733 326M733 196L583 228L534 191M733 239L684 261L733 282M684 261L583 228M733 369L419 407L378 366M733 412L571 444L419 407M733 455L606 477L733 498M606 477L571 444"/>
<path d="M733 23L273 45L733 66M273 45L83 119L156 194L733 110M156 194L248 278M733 153L574 191L248 278L394 366L733 326M733 196L610 228L574 191M733 239L687 261L733 282M687 261L610 228M733 369L470 407L394 366M733 412L577 444L470 407M733 455L610 477L733 498M610 477L577 444"/>
<path d="M733 23L282 45L733 66M282 45L100 77L733 110M100 77L58 178L234 278M733 153L550 191L234 278L390 366L733 326M733 196L582 228L550 191M733 239L680 261L733 282M680 261L582 228M733 369L422 407L390 366M733 412L573 444L422 407M733 455L609 477L733 498M609 477L573 444"/>
<path d="M733 23L332 45L733 66M332 45L80 119L153 194L733 110M153 194L246 278M733 153L540 191L246 278L402 366L733 326M733 196L604 228L540 191M733 239L691 261L733 282M691 261L604 228M733 369L456 407L402 366M733 412L569 444L456 407M733 455L601 477L733 498M601 477L569 444"/>
<path d="M733 23L270 45L733 66M270 45L83 119L139 194L733 110M139 194L214 278M733 153L519 191L214 278L372 366L733 326M733 196L583 228L519 191M733 239L681 261L733 282M681 261L583 228M733 369L408 407L372 366M733 412L571 444L408 407M733 455L617 477L733 498M617 477L571 444"/>
<path d="M733 23L262 45L733 66M262 45L119 77L733 110M119 77L100 178L251 278M733 153L567 191L251 278L418 366L733 326M733 196L608 228L567 191M733 239L691 261L733 282M691 261L608 228M733 369L471 407L418 366M733 412L577 444L471 407M733 455L604 477L733 498M604 477L577 444"/>
<path d="M733 23L294 45L733 66M294 45L75 119L139 194L733 110M139 194L254 278M733 153L578 191L254 278L412 366L733 326M733 196L597 228L578 191M733 239L701 261L733 282M701 261L597 228M733 369L457 407L412 366M733 412L583 444L457 407M733 455L615 477L733 498M615 477L583 444"/>
<path d="M733 23L236 45L733 66M236 45L88 119L104 194L733 110M104 194L210 278M733 153L546 191L210 278L366 366L733 326M733 196L571 228L546 191M733 239L679 261L733 282M679 261L571 228M733 369L425 407L366 366M733 412L548 444L425 407M733 455L600 477L733 498M600 477L548 444"/>
<path d="M733 23L314 45L733 66M314 45L80 119L171 194L733 110M171 194L274 278M733 153L559 191L274 278L412 366L733 326M733 196L613 228L559 191M733 239L693 261L733 282M693 261L613 228M733 369L454 407L412 366M733 412L591 444L454 407M733 455L612 477L733 498M612 477L591 444"/>
<path d="M733 23L328 45L733 66M328 45L59 119L178 194L733 110M178 194L268 278M733 153L551 191L268 278L423 366L733 326M733 196L603 228L551 191M733 239L697 261L733 282M697 261L603 228M733 369L490 407L423 366M733 412L584 444L490 407M733 455L625 477L733 498M625 477L584 444"/>
<path d="M733 23L259 45L733 66M259 45L99 77L733 110M99 77L64 178L192 278M733 153L544 191L192 278L376 366L733 326M733 196L593 228L544 191M733 239L677 261L733 282M677 261L593 228M733 369L417 407L376 366M733 412L568 444L417 407M733 455L590 477L733 498M590 477L568 444"/>
<path d="M733 23L287 45L733 66M287 45L33 119L161 194L733 110M161 194L249 278M733 153L546 191L249 278L393 366L733 326M733 196L607 228L546 191M733 239L695 261L733 282M695 261L607 228M733 369L446 407L393 366M733 412L579 444L446 407M733 455L607 477L733 498M607 477L579 444"/>
<path d="M733 23L282 45L733 66M282 45L143 77L733 110M143 77L99 178L291 278M733 153L560 191L291 278L415 366L733 326M733 196L613 228L560 191M733 239L695 261L733 282M695 261L613 228M733 369L470 407L415 366M733 412L574 444L470 407M733 455L639 477L733 498M639 477L574 444"/>
<path d="M733 23L239 45L733 66M239 45L99 77L733 110M99 77L91 178L197 278M733 153L507 191L197 278L361 366L733 326M733 196L574 228L507 191M733 239L673 261L733 282M673 261L574 228M733 369L420 407L361 366M733 412L554 444L420 407M733 455L596 477L733 498M596 477L554 444"/>
<path d="M733 23L330 45L733 66M330 45L85 119L148 194L733 110M148 194L255 278M733 153L565 191L255 278L403 366L733 326M733 196L607 228L565 191M733 239L696 261L733 282M696 261L607 228M733 369L444 407L403 366M733 412L579 444L444 407M733 455L610 477L733 498M610 477L579 444"/>
<path d="M733 23L307 45L733 66M307 45L55 119L116 194L733 110M116 194L237 278M733 153L568 191L237 278L391 366L733 326M733 196L589 228L568 191M733 239L691 261L733 282M691 261L589 228M733 369L453 407L391 366M733 412L589 444L453 407M733 455L613 477L733 498M613 477L589 444"/>
<path d="M733 23L254 45L733 66M254 45L75 119L154 194L733 110M154 194L237 278M733 153L533 191L237 278L397 366L733 326M733 196L601 228L533 191M733 239L680 261L733 282M680 261L601 228M733 369L426 407L397 366M733 412L554 444L426 407M733 455L593 477L733 498M593 477L554 444"/>
<path d="M733 23L273 45L733 66M273 45L88 119L152 194L733 110M152 194L216 278M733 153L548 191L216 278L357 366L733 326M733 196L586 228L548 191M733 239L685 261L733 282M685 261L586 228M733 369L440 407L357 366M733 412L562 444L440 407M733 455L597 477L733 498M597 477L562 444"/>
<path d="M733 23L275 45L733 66M275 45L80 119L128 194L733 110M128 194L256 278M733 153L552 191L256 278L412 366L733 326M733 196L600 228L552 191M733 239L684 261L733 282M684 261L600 228M733 369L445 407L412 366M733 412L579 444L445 407M733 455L609 477L733 498M609 477L579 444"/>
<path d="M733 23L282 45L733 66M282 45L50 119L140 194L733 110M140 194L239 278M733 153L524 191L239 278L411 366L733 326M733 196L620 228L524 191M733 239L685 261L733 282M685 261L620 228M733 369L458 407L411 366M733 412L589 444L458 407M733 455L623 477L733 498M623 477L589 444"/>
<path d="M733 23L287 45L733 66M287 45L69 119L111 194L733 110M111 194L221 278M733 153L542 191L221 278L374 366L733 326M733 196L580 228L542 191M733 239L685 261L733 282M685 261L580 228M733 369L417 407L374 366M733 412L546 444L417 407M733 455L589 477L733 498M589 477L546 444"/>
<path d="M733 23L214 45L733 66M214 45L88 119L108 194L733 110M108 194L205 278M733 153L525 191L205 278L371 366L733 326M733 196L593 228L525 191M733 239L691 261L733 282M691 261L593 228M733 369L424 407L371 366M733 412L556 444L424 407M733 455L611 477L733 498M611 477L556 444"/>
<path d="M733 23L310 45L733 66M310 45L53 119L173 194L733 110M173 194L271 278M733 153L565 191L271 278L429 366L733 326M733 196L588 228L565 191M733 239L684 261L733 282M684 261L588 228M733 369L472 407L429 366M733 412L588 444L472 407M733 455L603 477L733 498M603 477L588 444"/>
<path d="M733 23L340 45L733 66M340 45L154 162L275 278M154 162L132 136L733 110M733 153L567 191L275 278L411 366L733 326M733 196L609 228L567 191M733 239L689 261L733 282M689 261L609 228M733 369L444 407L411 366M733 412L574 444L444 407M733 455L618 477L733 498M618 477L574 444"/>
<path d="M733 23L274 45L733 66M274 45L72 119L148 194L733 110M148 194L236 278M733 153L549 191L236 278L373 366L733 326M733 196L582 228L549 191M733 239L683 261L733 282M683 261L582 228M733 369L438 407L373 366M733 412L583 444L438 407M733 455L595 477L733 498M595 477L583 444"/>
<path d="M733 23L298 45L733 66M298 45L75 119L192 194L733 110M192 194L302 278M733 153L582 191L302 278L425 366L733 326M733 196L620 228L582 191M733 239L687 261L733 282M687 261L620 228M733 369L489 407L425 366M733 412L590 444L489 407M733 455L632 477L733 498M632 477L590 444"/>
<path d="M733 23L265 45L733 66M265 45L83 77L733 110M83 77L77 178L186 278M733 153L524 191L186 278L366 366L733 326M733 196L578 228L524 191M733 239L684 261L733 282M684 261L578 228M733 369L380 407L366 366M733 412L551 444L380 407M733 455L582 477L733 498M582 477L551 444"/>
<path d="M733 23L254 45L733 66M254 45L72 119L102 194L733 110M102 194L212 278M733 153L562 191L212 278L377 366L733 326M733 196L582 228L562 191M733 239L680 261L733 282M680 261L582 228M733 369L402 407L377 366M733 412L562 444L402 407M733 455L591 477L733 498M591 477L562 444"/>
<path d="M733 23L356 45L733 66M356 45L147 77L733 110M147 77L124 178L267 278M733 153L558 191L267 278L411 366L733 326M733 196L603 228L558 191M733 239L691 261L733 282M691 261L603 228M733 369L482 407L411 366M733 412L576 444L482 407M733 455L617 477L733 498M617 477L576 444"/>
<path d="M733 23L300 45L733 66M300 45L64 119L125 194L733 110M125 194L228 278M733 153L538 191L228 278L392 366L733 326M733 196L612 228L538 191M733 239L677 261L733 282M677 261L612 228M733 369L446 407L392 366M733 412L580 444L446 407M733 455L629 477L733 498M629 477L580 444"/>
<path d="M733 23L241 45L733 66M241 45L115 119L156 194L733 110M156 194L230 278M733 153L548 191L230 278L384 366L733 326M733 196L583 228L548 191M733 239L699 261L733 282M699 261L583 228M733 369L434 407L384 366M733 412L565 444L434 407M733 455L586 477L733 498M586 477L565 444"/>
<path d="M733 23L261 45L733 66M261 45L64 119L114 194L733 110M114 194L203 278M733 153L535 191L203 278L364 366L733 326M733 196L606 228L535 191M733 239L686 261L733 282M686 261L606 228M733 369L426 407L364 366M733 412L539 444L426 407M733 455L592 477L733 498M592 477L539 444"/>
<path d="M733 23L237 45L733 66M237 45L118 119L151 194L733 110M151 194L270 278M733 153L551 191L270 278L421 366L733 326M733 196L599 228L551 191M733 239L684 261L733 282M684 261L599 228M733 369L443 407L421 366M733 412L592 444L443 407M733 455L613 477L733 498M613 477L592 444"/>
<path d="M733 23L293 45L733 66M293 45L90 119L114 194L733 110M114 194L261 278M733 153L555 191L261 278L406 366L733 326M733 196L604 228L555 191M733 239L686 261L733 282M686 261L604 228M733 369L461 407L406 366M733 412L578 444L461 407M733 455L633 477L733 498M633 477L578 444"/>
<path d="M733 23L311 45L733 66M311 45L121 77L733 110M121 77L112 178L204 278M733 153L552 191L204 278L370 366L733 326M733 196L584 228L552 191M733 239L685 261L733 282M685 261L584 228M733 369L426 407L370 366M733 412L569 444L426 407M733 455L586 477L733 498M586 477L569 444"/>
<path d="M733 23L317 45L733 66M317 45L137 77L733 110M137 77L95 178L254 278M733 153L584 191L254 278L416 366L733 326M733 196L604 228L584 191M733 239L681 261L733 282M681 261L604 228M733 369L466 407L416 366M733 412L575 444L466 407M733 455L608 477L733 498M608 477L575 444"/>
<path d="M733 23L315 45L733 66M315 45L118 119L154 194L733 110M154 194L246 278M733 153L562 191L246 278L411 366L733 326M733 196L608 228L562 191M733 239L688 261L733 282M688 261L608 228M733 369L441 407L411 366M733 412L581 444L441 407M733 455L618 477L733 498M618 477L581 444"/>
<path d="M733 23L256 45L733 66M256 45L52 119L102 194L733 110M102 194L233 278M733 153L526 191L233 278L378 366L733 326M733 196L572 228L526 191M733 239L684 261L733 282M684 261L572 228M733 369L448 407L378 366M733 412L560 444L448 407M733 455L595 477L733 498M595 477L560 444"/>
<path d="M733 23L331 45L733 66M331 45L112 77L733 110M112 77L73 178L240 278M733 153L543 191L240 278L413 366L733 326M733 196L602 228L543 191M733 239L690 261L733 282M690 261L602 228M733 369L445 407L413 366M733 412L574 444L445 407M733 455L619 477L733 498M619 477L574 444"/>
<path d="M733 23L286 45L733 66M286 45L102 119L144 194L733 110M144 194L233 278M733 153L565 191L233 278L392 366L733 326M733 196L598 228L565 191M733 239L683 261L733 282M683 261L598 228M733 369L444 407L392 366M733 412L572 444L444 407M733 455L591 477L733 498M591 477L572 444"/>
<path d="M733 23L291 45L733 66M291 45L99 119L222 194L733 110M222 194L283 278M733 153L578 191L283 278L422 366L733 326M733 196L624 228L578 191M733 239L690 261L733 282M690 261L624 228M733 369L496 407L422 366M733 412L606 444L496 407M733 455L630 477L733 498M630 477L606 444"/>
<path d="M733 23L266 45L733 66M266 45L36 119L78 194L733 110M78 194L220 278M733 153L508 191L220 278L367 366L733 326M733 196L570 228L508 191M733 239L684 261L733 282M684 261L570 228M733 369L404 407L367 366M733 412L548 444L404 407M733 455L590 477L733 498M590 477L548 444"/>
<path d="M733 23L338 45L733 66M338 45L105 119L116 194L733 110M116 194L281 278M733 153L550 191L281 278L401 366L733 326M733 196L601 228L550 191M733 239L690 261L733 282M690 261L601 228M733 369L479 407L401 366M733 412L591 444L479 407M733 455L615 477L733 498M615 477L591 444"/>
<path d="M733 23L303 45L733 66M303 45L96 77L733 110M96 77L80 178L248 278M733 153L548 191L248 278L395 366L733 326M733 196L598 228L548 191M733 239L680 261L733 282M680 261L598 228M733 369L444 407L395 366M733 412L562 444L444 407M733 455L618 477L733 498M618 477L562 444"/>
<path d="M733 23L253 45L733 66M253 45L61 119L130 194L733 110M130 194L206 278M733 153L551 191L206 278L390 366L733 326M733 196L586 228L551 191M733 239L692 261L733 282M692 261L586 228M733 369L440 407L390 366M733 412L572 444L440 407M733 455L592 477L733 498M592 477L572 444"/>
<path d="M733 23L273 45L733 66M273 45L97 119L151 194L733 110M151 194L259 278M733 153L568 191L259 278L409 366L733 326M733 196L618 228L568 191M733 239L691 261L733 282M691 261L618 228M733 369L482 407L409 366M733 412L582 444L482 407M733 455L608 477L733 498M608 477L582 444"/>
<path d="M733 23L279 45L733 66M279 45L100 77L733 110M100 77L77 178L270 278M733 153L554 191L270 278L413 366L733 326M733 196L598 228L554 191M733 239L696 261L733 282M696 261L598 228M733 369L444 407L413 366M733 412L571 444L444 407M733 455L614 477L733 498M614 477L571 444"/>
<path d="M733 23L290 45L733 66M290 45L53 119L134 194L733 110M134 194L210 278M733 153L525 191L210 278L371 366L733 326M733 196L589 228L525 191M733 239L673 261L733 282M673 261L589 228M733 369L426 407L371 366M733 412L573 444L426 407M733 455L590 477L733 498M590 477L573 444"/>
<path d="M733 23L219 45L733 66M219 45L72 77L733 110M72 77L67 178L221 278M733 153L540 191L221 278L371 366L733 326M733 196L583 228L540 191M733 239L678 261L733 282M678 261L583 228M733 369L426 407L371 366M733 412L562 444L426 407M733 455L597 477L733 498M597 477L562 444"/>
<path d="M733 23L311 45L733 66M311 45L116 119L237 194L733 110M237 194L268 278M733 153L544 191L268 278L423 366L733 326M733 196L612 228L544 191M733 239L696 261L733 282M696 261L612 228M733 369L465 407L423 366M733 412L586 444L465 407M733 455L618 477L733 498M618 477L586 444"/>
<path d="M733 23L331 45L733 66M331 45L92 119L151 194L733 110M151 194L232 278M733 153L549 191L232 278L408 366L733 326M733 196L587 228L549 191M733 239L694 261L733 282M694 261L587 228M733 369L466 407L408 366M733 412L587 444L466 407M733 455L626 477L733 498M626 477L587 444"/>
<path d="M733 23L271 45L733 66M271 45L50 119L115 194L733 110M115 194L230 278M733 153L559 191L230 278L373 366L733 326M733 196L599 228L559 191M733 239L679 261L733 282M679 261L599 228M733 369L418 407L373 366M733 412L556 444L418 407M733 455L586 477L733 498M586 477L556 444"/>
<path d="M733 23L311 45L733 66M311 45L41 119L119 194L733 110M119 194L244 278M733 153L555 191L244 278L393 366L733 326M733 196L595 228L555 191M733 239L672 261L733 282M672 261L595 228M733 369L438 407L393 366M733 412L581 444L438 407M733 455L611 477L733 498M611 477L581 444"/>
<path d="M733 23L275 45L733 66M275 45L95 119L139 194L733 110M139 194L236 278M733 153L533 191L236 278L386 366L733 326M733 196L601 228L533 191M733 239L697 261L733 282M697 261L601 228M733 369L450 407L386 366M733 412L558 444L450 407M733 455L603 477L733 498M603 477L558 444"/>
<path d="M733 23L306 45L733 66M306 45L151 119L217 194L733 110M217 194L276 278M733 153L570 191L276 278L429 366L733 326M733 196L606 228L570 191M733 239L696 261L733 282M696 261L606 228M733 369L464 407L429 366M733 412L603 444L464 407M733 455L637 477L733 498M637 477L603 444"/>
<path d="M733 23L270 45L733 66M270 45L46 119L74 194L733 110M74 194L202 278M733 153L547 191L202 278L376 366L733 326M733 196L589 228L547 191M733 239L678 261L733 282M678 261L589 228M733 369L423 407L376 366M733 412L550 444L423 407M733 455L578 477L733 498M578 477L550 444"/>
<path d="M733 23L258 45L733 66M258 45L57 119L117 194L733 110M117 194L195 278M733 153L531 191L195 278L375 366L733 326M733 196L573 228L531 191M733 239L674 261L733 282M674 261L573 228M733 369L431 407L375 366M733 412L548 444L431 407M733 455L606 477L733 498M606 477L548 444"/>
<path d="M733 23L299 45L733 66M299 45L82 119L136 194L733 110M136 194L263 278M733 153L556 191L263 278L381 366L733 326M733 196L596 228L556 191M733 239L691 261L733 282M691 261L596 228M733 369L451 407L381 366M733 412L572 444L451 407M733 455L612 477L733 498M612 477L572 444"/>
<path d="M733 23L243 45L733 66M243 45L124 162L223 278M124 162L101 136L733 110M733 153L534 191L223 278L391 366L733 326M733 196L594 228L534 191M733 239L682 261L733 282M682 261L594 228M733 369L430 407L391 366M733 412L570 444L430 407M733 455L600 477L733 498M600 477L570 444"/>
<path d="M733 23L293 45L733 66M293 45L84 119L132 194L733 110M132 194L224 278M733 153L537 191L224 278L403 366L733 326M733 196L600 228L537 191M733 239L681 261L733 282M681 261L600 228M733 369L449 407L403 366M733 412L567 444L449 407M733 455L611 477L733 498M611 477L567 444"/>
<path d="M733 23L254 45L733 66M254 45L56 119L141 194L733 110M141 194L244 278M733 153L548 191L244 278L389 366L733 326M733 196L594 228L548 191M733 239L691 261L733 282M691 261L594 228M733 369L439 407L389 366M733 412L574 444L439 407M733 455L602 477L733 498M602 477L574 444"/>
<path d="M733 23L302 45L733 66M302 45L83 119L182 194L733 110M182 194L273 278M733 153L570 191L273 278L406 366L733 326M733 196L612 228L570 191M733 239L694 261L733 282M694 261L612 228M733 369L476 407L406 366M733 412L575 444L476 407M733 455L626 477L733 498M626 477L575 444"/>
<path d="M733 23L237 45L733 66M237 45L109 119L137 194L733 110M137 194L218 278M733 153L548 191L218 278L371 366L733 326M733 196L601 228L548 191M733 239L671 261L733 282M671 261L601 228M733 369L408 407L371 366M733 412L562 444L408 407M733 455L611 477L733 498M611 477L562 444"/>
<path d="M733 23L324 45L733 66M324 45L140 162L264 278M140 162L105 136L733 110M733 153L557 191L264 278L406 366L733 326M733 196L603 228L557 191M733 239L700 261L733 282M700 261L603 228M733 369L485 407L406 366M733 412L586 444L485 407M733 455L609 477L733 498M609 477L586 444"/>
<path d="M733 23L312 45L733 66M312 45L19 119L118 194L733 110M118 194L223 278M733 153L528 191L223 278L387 366L733 326M733 196L596 228L528 191M733 239L686 261L733 282M686 261L596 228M733 369L433 407L387 366M733 412L578 444L433 407M733 455L604 477L733 498M604 477L578 444"/>
<path d="M733 23L285 45L733 66M285 45L92 119L147 194L733 110M147 194L251 278M733 153L558 191L251 278L409 366L733 326M733 196L597 228L558 191M733 239L686 261L733 282M686 261L597 228M733 369L452 407L409 366M733 412L556 444L452 407M733 455L608 477L733 498M608 477L556 444"/>
<path d="M733 23L321 45L733 66M321 45L134 77L733 110M134 77L92 178L252 278M733 153L564 191L252 278L383 366L733 326M733 196L607 228L564 191M733 239L683 261L733 282M683 261L607 228M733 369L463 407L383 366M733 412L576 444L463 407M733 455L614 477L733 498M614 477L576 444"/>
<path d="M733 23L288 45L733 66M288 45L48 119L128 194L733 110M128 194L241 278M733 153L548 191L241 278L421 366L733 326M733 196L591 228L548 191M733 239L690 261L733 282M690 261L591 228M733 369L438 407L421 366M733 412L565 444L438 407M733 455L602 477L733 498M602 477L565 444"/>
<path d="M733 23L239 45L733 66M239 45L81 119L140 194L733 110M140 194L249 278M733 153L544 191L249 278L412 366L733 326M733 196L605 228L544 191M733 239L697 261L733 282M697 261L605 228M733 369L462 407L412 366M733 412L587 444L462 407M733 455L620 477L733 498M620 477L587 444"/>
<path d="M733 23L273 45L733 66M273 45L95 119L146 194L733 110M146 194L221 278M733 153L547 191L221 278L370 366L733 326M733 196L584 228L547 191M733 239L677 261L733 282M677 261L584 228M733 369L422 407L370 366M733 412L564 444L422 407M733 455L594 477L733 498M594 477L564 444"/>
<path d="M733 23L300 45L733 66M300 45L62 119L147 194L733 110M147 194L236 278M733 153L548 191L236 278L392 366L733 326M733 196L594 228L548 191M733 239L685 261L733 282M685 261L594 228M733 369L442 407L392 366M733 412L581 444L442 407M733 455L603 477L733 498M603 477L581 444"/>
<path d="M733 23L307 45L733 66M307 45L127 77L733 110M127 77L118 178L261 278M733 153L565 191L261 278L409 366L733 326M733 196L608 228L565 191M733 239L699 261L733 282M699 261L608 228M733 369L436 407L409 366M733 412L575 444L436 407M733 455L623 477L733 498M623 477L575 444"/>
<path d="M733 23L243 45L733 66M243 45L86 119L107 194L733 110M107 194L214 278M733 153L537 191L214 278L373 366L733 326M733 196L574 228L537 191M733 239L667 261L733 282M667 261L574 228M733 369L434 407L373 366M733 412L562 444L434 407M733 455L575 477L733 498M575 477L562 444"/>
<path d="M733 23L300 45L733 66M300 45L114 119L125 194L733 110M125 194L231 278M733 153L560 191L231 278L392 366L733 326M733 196L593 228L560 191M733 239L686 261L733 282M686 261L593 228M733 369L436 407L392 366M733 412L561 444L436 407M733 455L619 477L733 498M619 477L561 444"/>
<path d="M733 23L260 45L733 66M260 45L55 119L141 194L733 110M141 194L253 278M733 153L544 191L253 278L379 366L733 326M733 196L596 228L544 191M733 239L684 261L733 282M684 261L596 228M733 369L438 407L379 366M733 412L576 444L438 407M733 455L588 477L733 498M588 477L576 444"/>
<path d="M733 23L292 45L733 66M292 45L152 77L733 110M152 77L127 178L262 278M733 153L551 191L262 278L406 366L733 326M733 196L592 228L551 191M733 239L679 261L733 282M679 261L592 228M733 369L451 407L406 366M733 412L582 444L451 407M733 455L618 477L733 498M618 477L582 444"/>
<path d="M733 23L227 45L733 66M227 45L118 77L733 110M118 77L104 178L213 278M733 153L521 191L213 278L377 366L733 326M733 196L578 228L521 191M733 239L683 261L733 282M683 261L578 228M733 369L432 407L377 366M733 412L572 444L432 407M733 455L597 477L733 498M597 477L572 444"/>
<path d="M733 23L319 45L733 66M319 45L69 119L151 194L733 110M151 194L253 278M733 153L572 191L253 278L420 366L733 326M733 196L626 228L572 191M733 239L690 261L733 282M690 261L626 228M733 369L445 407L420 366M733 412L583 444L445 407M733 455L616 477L733 498M616 477L583 444"/>
<path d="M733 23L342 45L733 66M342 45L75 119L122 194L733 110M122 194L236 278M733 153L570 191L236 278L382 366L733 326M733 196L593 228L570 191M733 239L679 261L733 282M679 261L593 228M733 369L450 407L382 366M733 412L573 444L450 407M733 455L617 477L733 498M617 477L573 444"/>
<path d="M733 23L294 45L733 66M294 45L117 119L152 194L733 110M152 194L262 278M733 153L550 191L262 278L406 366L733 326M733 196L604 228L550 191M733 239L695 261L733 282M695 261L604 228M733 369L451 407L406 366M733 412L575 444L451 407M733 455L605 477L733 498M605 477L575 444"/>
<path d="M733 23L275 45L733 66M275 45L121 77L733 110M121 77L116 178L227 278M733 153L556 191L227 278L398 366L733 326M733 196L609 228L556 191M733 239L679 261L733 282M679 261L609 228M733 369L455 407L398 366M733 412L569 444L455 407M733 455L606 477L733 498M606 477L569 444"/>
<path d="M733 23L271 45L733 66M271 45L41 119L125 194L733 110M125 194L252 278M733 153L570 191L252 278L421 366L733 326M733 196L598 228L570 191M733 239L688 261L733 282M688 261L598 228M733 369L455 407L421 366M733 412L597 444L455 407M733 455L630 477L733 498M630 477L597 444"/>
<path d="M733 23L281 45L733 66M281 45L86 119L159 194L733 110M159 194L226 278M733 153L533 191L226 278L372 366L733 326M733 196L589 228L533 191M733 239L684 261L733 282M684 261L589 228M733 369L432 407L372 366M733 412L554 444L432 407M733 455L584 477L733 498M584 477L554 444"/>
<path d="M733 23L269 45L733 66M269 45L76 119L83 194L733 110M83 194L219 278M733 153L551 191L219 278L381 366L733 326M733 196L590 228L551 191M733 239L688 261L733 282M688 261L590 228M733 369L436 407L381 366M733 412L564 444L436 407M733 455L608 477L733 498M608 477L564 444"/>
<path d="M733 23L324 45L733 66M324 45L50 119L159 194L733 110M159 194L258 278M733 153L549 191L258 278L405 366L733 326M733 196L603 228L549 191M733 239L682 261L733 282M682 261L603 228M733 369L440 407L405 366M733 412L579 444L440 407M733 455L597 477L733 498M597 477L579 444"/>
<path d="M733 23L299 45L733 66M299 45L75 119L157 194L733 110M157 194L255 278M733 153L543 191L255 278L409 366L733 326M733 196L591 228L543 191M733 239L685 261L733 282M685 261L591 228M733 369L472 407L409 366M733 412L563 444L472 407M733 455L618 477L733 498M618 477L563 444"/>
<path d="M733 23L224 45L733 66M224 45L99 77L733 110M99 77L76 178L212 278M733 153L541 191L212 278L357 366L733 326M733 196L599 228L541 191M733 239L686 261L733 282M686 261L599 228M733 369L416 407L357 366M733 412L573 444L416 407M733 455L595 477L733 498M595 477L573 444"/>
<path d="M733 23L287 45L733 66M287 45L62 119L108 194L733 110M108 194L262 278M733 153L551 191L262 278L396 366L733 326M733 196L579 228L551 191M733 239L687 261L733 282M687 261L579 228M733 369L436 407L396 366M733 412L574 444L436 407M733 455L612 477L733 498M612 477L574 444"/>
<path d="M733 23L243 45L733 66M243 45L123 77L733 110M123 77L116 178L230 278M733 153L521 191L230 278L389 366L733 326M733 196L602 228L521 191M733 239L684 261L733 282M684 261L602 228M733 369L447 407L389 366M733 412L570 444L447 407M733 455L596 477L733 498M596 477L570 444"/>
<path d="M733 23L301 45L733 66M301 45L104 119L158 194L733 110M158 194L249 278M733 153L553 191L249 278L396 366L733 326M733 196L603 228L553 191M733 239L682 261L733 282M682 261L603 228M733 369L437 407L396 366M733 412L589 444L437 407M733 455L621 477L733 498M621 477L589 444"/>
<path d="M733 23L347 45L733 66M347 45L33 119L100 194L733 110M100 194L214 278M733 153L550 191L214 278L378 366L733 326M733 196L590 228L550 191M733 239L691 261L733 282M691 261L590 228M733 369L434 407L378 366M733 412L547 444L434 407M733 455L591 477L733 498M591 477L547 444"/>
<path d="M733 23L239 45L733 66M239 45L31 119L106 194L733 110M106 194L175 278M733 153L528 191L175 278L364 366L733 326M733 196L579 228L528 191M733 239L683 261L733 282M683 261L579 228M733 369L428 407L364 366M733 412L552 444L428 407M733 455L590 477L733 498M590 477L552 444"/>
<path d="M733 23L328 45L733 66M328 45L91 119L165 194L733 110M165 194L275 278M733 153L572 191L275 278L412 366L733 326M733 196L612 228L572 191M733 239L688 261L733 282M688 261L612 228M733 369L459 407L412 366M733 412L588 444L459 407M733 455L618 477L733 498M618 477L588 444"/>
<path d="M733 23L280 45L733 66M280 45L136 77L733 110M136 77L93 178L244 278M733 153L541 191L244 278L410 366L733 326M733 196L614 228L541 191M733 239L692 261L733 282M692 261L614 228M733 369L444 407L410 366M733 412L586 444L444 407M733 455L598 477L733 498M598 477L586 444"/>
<path d="M733 23L315 45L733 66M315 45L60 119L147 194L733 110M147 194L217 278M733 153L544 191L217 278L387 366L733 326M733 196L590 228L544 191M733 239L698 261L733 282M698 261L590 228M733 369L426 407L387 366M733 412L561 444L426 407M733 455L609 477L733 498M609 477L561 444"/>
<path d="M733 23L259 45L733 66M259 45L97 119L151 194L733 110M151 194L270 278M733 153L562 191L270 278L415 366L733 326M733 196L596 228L562 191M733 239L690 261L733 282M690 261L596 228M733 369L454 407L415 366M733 412L578 444L454 407M733 455L625 477L733 498M625 477L578 444"/>
<path d="M733 23L261 45L733 66M261 45L141 162L240 278M141 162L122 136L733 110M733 153L547 191L240 278L371 366L733 326M733 196L579 228L547 191M733 239L689 261L733 282M689 261L579 228M733 369L436 407L371 366M733 412L574 444L436 407M733 455L612 477L733 498M612 477L574 444"/>
<path d="M733 23L311 45L733 66M311 45L88 119L144 194L733 110M144 194L236 278M733 153L536 191L236 278L399 366L733 326M733 196L607 228L536 191M733 239L680 261L733 282M680 261L607 228M733 369L446 407L399 366M733 412L557 444L446 407M733 455L587 477L733 498M587 477L557 444"/>
<path d="M733 23L303 45L733 66M303 45L109 119L170 194L733 110M170 194L240 278M733 153L549 191L240 278L417 366L733 326M733 196L599 228L549 191M733 239L685 261L733 282M685 261L599 228M733 369L459 407L417 366M733 412L583 444L459 407M733 455L613 477L733 498M613 477L583 444"/>
<path d="M733 23L241 45L733 66M241 45L67 119L99 194L733 110M99 194L222 278M733 153L564 191L222 278L373 366L733 326M733 196L594 228L564 191M733 239L685 261L733 282M685 261L594 228M733 369L411 407L373 366M733 412L562 444L411 407M733 455L598 477L733 498M598 477L562 444"/>
<path d="M733 23L295 45L733 66M295 45L89 77L733 110M89 77L66 178L237 278M733 153L541 191L237 278L390 366L733 326M733 196L600 228L541 191M733 239L679 261L733 282M679 261L600 228M733 369L437 407L390 366M733 412L591 444L437 407M733 455L605 477L733 498M605 477L591 444"/>
<path d="M733 23L250 45L733 66M250 45L73 119L148 194L733 110M148 194L206 278M733 153L560 191L206 278L368 366L733 326M733 196L572 228L560 191M733 239L690 261L733 282M690 261L572 228M733 369L423 407L368 366M733 412L556 444L423 407M733 455L598 477L733 498M598 477L556 444"/>
<path d="M733 23L289 45L733 66M289 45L107 119L155 194L733 110M155 194L254 278M733 153L564 191L254 278L407 366L733 326M733 196L607 228L564 191M733 239L692 261L733 282M692 261L607 228M733 369L475 407L407 366M733 412L583 444L475 407M733 455L628 477L733 498M628 477L583 444"/>
<path d="M733 23L291 45L733 66M291 45L56 119L92 194L733 110M92 194L217 278M733 153L517 191L217 278L375 366L733 326M733 196L582 228L517 191M733 239L678 261L733 282M678 261L582 228M733 369L410 407L375 366M733 412L553 444L410 407M733 455L576 477L733 498M576 477L553 444"/>
<path d="M733 23L228 45L733 66M228 45L53 119L117 194L733 110M117 194L198 278M733 153L536 191L198 278L381 366L733 326M733 196L585 228L536 191M733 239L668 261L733 282M668 261L585 228M733 369L398 407L381 366M733 412L543 444L398 407M733 455L603 477L733 498M603 477L543 444"/>
<path d="M733 23L328 45L733 66M328 45L101 77L733 110M101 77L95 178L235 278M733 153L545 191L235 278L382 366L733 326M733 196L614 228L545 191M733 239L685 261L733 282M685 261L614 228M733 369L436 407L382 366M733 412L568 444L436 407M733 455L608 477L733 498M608 477L568 444"/>
<path d="M733 23L291 45L733 66M291 45L41 119L160 194L733 110M160 194L239 278M733 153L564 191L239 278L402 366L733 326M733 196L594 228L564 191M733 239L687 261L733 282M687 261L594 228M733 369L457 407L402 366M733 412L582 444L457 407M733 455L604 477L733 498M604 477L582 444"/>
<path d="M733 23L299 45L733 66M299 45L48 119L146 194L733 110M146 194L222 278M733 153L544 191L222 278L368 366L733 326M733 196L592 228L544 191M733 239L681 261L733 282M681 261L592 228M733 369L444 407L368 366M733 412L566 444L444 407M733 455L618 477L733 498M618 477L566 444"/>
<path d="M733 23L276 45L733 66M276 45L87 119L107 194L733 110M107 194L267 278M733 153L542 191L267 278L405 366L733 326M733 196L594 228L542 191M733 239L692 261L733 282M692 261L594 228M733 369L436 407L405 366M733 412L580 444L436 407M733 455L596 477L733 498M596 477L580 444"/>
<path d="M733 23L272 45L733 66M272 45L115 119L148 194L733 110M148 194L256 278M733 153L553 191L256 278L416 366L733 326M733 196L616 228L553 191M733 239L694 261L733 282M694 261L616 228M733 369L460 407L416 366M733 412L569 444L460 407M733 455L615 477L733 498M615 477L569 444"/>
<path d="M733 23L291 45L733 66M291 45L100 77L733 110M100 77L74 178L217 278M733 153L554 191L217 278L384 366L733 326M733 196L585 228L554 191M733 239L680 261L733 282M680 261L585 228M733 369L435 407L384 366M733 412L576 444L435 407M733 455L601 477L733 498M601 477L576 444"/>
<path d="M733 23L271 45L733 66M271 45L55 119L115 194L733 110M115 194L231 278M733 153L536 191L231 278L379 366L733 326M733 196L600 228L536 191M733 239L682 261L733 282M682 261L600 228M733 369L425 407L379 366M733 412L567 444L425 407M733 455L607 477L733 498M607 477L567 444"/>
<path d="M733 23L330 45L733 66M330 45L125 77L733 110M125 77L97 178L230 278M733 153L570 191L230 278L415 366L733 326M733 196L589 228L570 191M733 239L689 261L733 282M689 261L589 228M733 369L454 407L415 366M733 412L573 444L454 407M733 455L607 477L733 498M607 477L573 444"/>
<path d="M733 23L298 45L733 66M298 45L97 119L199 194L733 110M199 194L251 278M733 153L559 191L251 278L405 366L733 326M733 196L607 228L559 191M733 239L696 261L733 282M696 261L607 228M733 369L442 407L405 366M733 412L591 444L442 407M733 455L619 477L733 498M619 477L591 444"/>
<path d="M733 23L223 45L733 66M223 45L22 119L97 194L733 110M97 194L237 278M733 153L522 191L237 278L374 366L733 326M733 196L590 228L522 191M733 239L675 261L733 282M675 261L590 228M733 369L461 407L374 366M733 412L559 444L461 407M733 455L590 477L733 498M590 477L559 444"/>
<path d="M733 23L305 45L733 66M305 45L99 119L109 194L733 110M109 194L248 278M733 153L547 191L248 278L418 366L733 326M733 196L606 228L547 191M733 239L694 261L733 282M694 261L606 228M733 369L448 407L418 366M733 412L575 444L448 407M733 455L614 477L733 498M614 477L575 444"/>
<path d="M733 23L262 45L733 66M262 45L121 77L733 110M121 77L61 178L256 278M733 153L553 191L256 278L417 366L733 326M733 196L597 228L553 191M733 239L697 261L733 282M697 261L597 228M733 369L465 407L417 366M733 412L585 444L465 407M733 455L623 477L733 498M623 477L585 444"/>
<path d="M733 23L277 45L733 66M277 45L55 119L124 194L733 110M124 194L228 278M733 153L563 191L228 278L377 366L733 326M733 196L602 228L563 191M733 239L677 261L733 282M677 261L602 228M733 369L427 407L377 366M733 412L559 444L427 407M733 455L589 477L733 498M589 477L559 444"/>
<path d="M733 23L249 45L733 66M249 45L100 77L733 110M100 77L90 178L198 278M733 153L531 191L198 278L362 366L733 326M733 196L571 228L531 191M733 239L679 261L733 282M679 261L571 228M733 369L410 407L362 366M733 412L535 444L410 407M733 455L609 477L733 498M609 477L535 444"/>
<path d="M733 23L325 45L733 66M325 45L113 119L155 194L733 110M155 194L275 278M733 153L571 191L275 278L429 366L733 326M733 196L613 228L571 191M733 239L690 261L733 282M690 261L613 228M733 369L461 407L429 366M733 412L590 444L461 407M733 455L601 477L733 498M601 477L590 444"/>
<path d="M733 23L311 45L733 66M311 45L91 119L180 194L733 110M180 194L252 278M733 153L556 191L252 278L403 366L733 326M733 196L600 228L556 191M733 239L698 261L733 282M698 261L600 228M733 369L440 407L403 366M733 412L575 444L440 407M733 455L612 477L733 498M612 477L575 444"/>
<path d="M733 23L245 45L733 66M245 45L43 119L83 194L733 110M83 194L199 278M733 153L525 191L199 278L360 366L733 326M733 196L590 228L525 191M733 239L669 261L733 282M669 261L590 228M733 369L444 407L360 366M733 412L564 444L444 407M733 455L592 477L733 498M592 477L564 444"/>
<path d="M733 23L289 45L733 66M289 45L42 119L118 194L733 110M118 194L233 278M733 153L546 191L233 278L396 366L733 326M733 196L580 228L546 191M733 239L681 261L733 282M681 261L580 228M733 369L443 407L396 366M733 412L572 444L443 407M733 455L617 477L733 498M617 477L572 444"/>
<path d="M733 23L242 45L733 66M242 45L131 77L733 110M131 77L116 178L269 278M733 153L557 191L269 278L381 366L733 326M733 196L603 228L557 191M733 239L691 261L733 282M691 261L603 228M733 369L438 407L381 366M733 412L577 444L438 407M733 455L600 477L733 498M600 477L577 444"/>
<path d="M733 23L311 45L733 66M311 45L148 119L182 194L733 110M182 194L283 278M733 153L571 191L283 278L425 366L733 326M733 196L612 228L571 191M733 239L698 261L733 282M698 261L612 228M733 369L494 407L425 366M733 412L581 444L494 407M733 455L629 477L733 498M629 477L581 444"/>
<path d="M733 23L284 45L733 66M284 45L46 119L78 194L733 110M78 194L182 278M733 153L514 191L182 278L366 366L733 326M733 196L583 228L514 191M733 239L674 261L733 282M674 261L583 228M733 369L399 407L366 366M733 412L558 444L399 407M733 455L581 477L733 498M581 477L558 444"/>
<path d="M733 23L232 45L733 66M232 45L58 119L115 194L733 110M115 194L210 278M733 153L538 191L210 278L378 366L733 326M733 196L579 228L538 191M733 239L672 261L733 282M672 261L579 228M733 369L395 407L378 366M733 412L558 444L395 407M733 455L594 477L733 498M594 477L558 444"/>
<path d="M733 23L325 45L733 66M325 45L118 119L169 194L733 110M169 194L253 278M733 153L545 191L253 278L421 366L733 326M733 196L614 228L545 191M733 239L701 261L733 282M701 261L614 228M733 369L488 407L421 366M733 412L588 444L488 407M733 455L623 477L733 498M623 477L588 444"/>
<path d="M733 23L316 45L733 66M316 45L82 119L113 194L733 110M113 194L246 278M733 153L547 191L246 278L394 366L733 326M733 196L594 228L547 191M733 239L689 261L733 282M689 261L594 228M733 369L447 407L394 366M733 412L589 444L447 407M733 455L624 477L733 498M624 477L589 444"/>
<path d="M733 23L264 45L733 66M264 45L142 77L733 110M142 77L109 178L238 278M733 153L557 191L238 278L385 366L733 326M733 196L616 228L557 191M733 239L682 261L733 282M682 261L616 228M733 369L441 407L385 366M733 412L560 444L441 407M733 455L584 477L733 498M584 477L560 444"/>
<path d="M733 23L293 45L733 66M293 45L66 119L125 194L733 110M125 194L231 278M733 153L528 191L231 278L369 366L733 326M733 196L587 228L528 191M733 239L690 261L733 282M690 261L587 228M733 369L409 407L369 366M733 412L563 444L409 407M733 455L607 477L733 498M607 477L563 444"/>
<path d="M733 23L294 45L733 66M294 45L117 119L131 194L733 110M131 194L257 278M733 153L576 191L257 278L421 366L733 326M733 196L601 228L576 191M733 239L683 261L733 282M683 261L601 228M733 369L481 407L421 366M733 412L583 444L481 407M733 455L595 477L733 498M595 477L583 444"/>
<path d="M733 23L276 45L733 66M276 45L90 119L144 194L733 110M144 194L242 278M733 153L561 191L242 278L411 366L733 326M733 196L613 228L561 191M733 239L687 261L733 282M687 261L613 228M733 369L449 407L411 366M733 412L587 444L449 407M733 455L616 477L733 498M616 477L587 444"/>
<path d="M733 23L285 45L733 66M285 45L43 119L128 194L733 110M128 194L217 278M733 153L519 191L217 278L356 366L733 326M733 196L578 228L519 191M733 239L684 261L733 282M684 261L578 228M733 369L429 407L356 366M733 412L552 444L429 407M733 455L597 477L733 498M597 477L552 444"/>
<path d="M733 23L351 45L733 66M351 45L157 162L269 278M157 162L138 136L733 110M733 153L549 191L269 278L414 366L733 326M733 196L595 228L549 191M733 239L686 261L733 282M686 261L595 228M733 369L462 407L414 366M733 412L585 444L462 407M733 455L612 477L733 498M612 477L585 444"/>
<path d="M733 23L303 45L733 66M303 45L118 119L180 194L733 110M180 194L265 278M733 153L552 191L265 278L419 366L733 326M733 196L606 228L552 191M733 239L685 261L733 282M685 261L606 228M733 369L463 407L419 366M733 412L573 444L463 407M733 455L621 477L733 498M621 477L573 444"/>
<path d="M733 23L236 45L733 66M236 45L51 119L94 194L733 110M94 194L214 278M733 153L547 191L214 278L370 366L733 326M733 196L587 228L547 191M733 239L685 261L733 282M685 261L587 228M733 369L407 407L370 366M733 412L575 444L407 407M733 455L589 477L733 498M589 477L575 444"/>
<path d="M733 23L294 45L733 66M294 45L94 77L733 110M94 77L64 178L220 278M733 153L549 191L220 278L396 366L733 326M733 196L602 228L549 191M733 239L686 261L733 282M686 261L602 228M733 369L437 407L396 366M733 412L562 444L437 407M733 455L605 477L733 498M605 477L562 444"/>
<path d="M733 23L256 45L733 66M256 45L98 119L173 194L733 110M173 194L241 278M733 153L536 191L241 278L389 366L733 326M733 196L579 228L536 191M733 239L685 261L733 282M685 261L579 228M733 369L447 407L389 366M733 412L588 444L447 407M733 455L602 477L733 498M602 477L588 444"/>
<path d="M733 23L300 45L733 66M300 45L97 119L173 194L733 110M173 194L288 278M733 153L568 191L288 278L414 366L733 326M733 196L615 228L568 191M733 239L683 261L733 282M683 261L615 228M733 369L447 407L414 366M733 412L586 444L447 407M733 455L647 477L733 498M647 477L586 444"/>
<path d="M733 23L268 45L733 66M268 45L30 119L77 194L733 110M77 194L185 278M733 153L536 191L185 278L357 366L733 326M733 196L574 228L536 191M733 239L690 261L733 282M690 261L574 228M733 369L414 407L357 366M733 412L550 444L414 407M733 455L573 477L733 498M573 477L550 444"/>
<path d="M733 23L216 45L733 66M216 45L25 119L118 194L733 110M118 194L226 278M733 153L531 191L226 278L373 366L733 326M733 196L589 228L531 191M733 239L684 261L733 282M684 261L589 228M733 369L436 407L373 366M733 412L569 444L436 407M733 455L603 477L733 498M603 477L569 444"/>
<path d="M733 23L316 45L733 66M316 45L108 119L168 194L733 110M168 194L269 278M733 153L586 191L269 278L415 366L733 326M733 196L608 228L586 191M733 239L690 261L733 282M690 261L608 228M733 369L464 407L415 366M733 412L575 444L464 407M733 455L614 477L733 498M614 477L575 444"/>
<path d="M733 23L334 45L733 66M334 45L109 77L733 110M109 77L98 178L244 278M733 153L563 191L244 278L401 366L733 326M733 196L616 228L563 191M733 239L682 261L733 282M682 261L616 228M733 369L457 407L401 366M733 412L584 444L457 407M733 455L619 477L733 498M619 477L584 444"/>
<path d="M733 23L274 45L733 66M274 45L63 119L147 194L733 110M147 194L232 278M733 153L528 191L232 278L399 366L733 326M733 196L586 228L528 191M733 239L690 261L733 282M690 261L586 228M733 369L432 407L399 366M733 412L566 444L432 407M733 455L599 477L733 498M599 477L566 444"/>
<path d="M733 23L312 45L733 66M312 45L106 77L733 110M106 77L72 178L212 278M733 153L529 191L212 278L367 366L733 326M733 196L599 228L529 191M733 239L698 261L733 282M698 261L599 228M733 369L410 407L367 366M733 412L549 444L410 407M733 455L604 477L733 498M604 477L549 444"/>
<path d="M733 23L308 45L733 66M308 45L86 119L157 194L733 110M157 194L290 278M733 153L568 191L290 278L421 366L733 326M733 196L600 228L568 191M733 239L681 261L733 282M681 261L600 228M733 369L478 407L421 366M733 412L594 444L478 407M733 455L610 477L733 498M610 477L594 444"/>
<path d="M733 23L271 45L733 66M271 45L53 119L134 194L733 110M134 194L259 278M733 153L569 191L259 278L428 366L733 326M733 196L605 228L569 191M733 239L690 261L733 282M690 261L605 228M733 369L459 407L428 366M733 412L582 444L459 407M733 455L621 477L733 498M621 477L582 444"/>
<path d="M733 23L283 45L733 66M283 45L74 119L161 194L733 110M161 194L212 278M733 153L541 191L212 278L377 366L733 326M733 196L586 228L541 191M733 239L684 261L733 282M684 261L586 228M733 369L437 407L377 366M733 412L570 444L437 407M733 455L597 477L733 498M597 477L570 444"/>
<path d="M733 23L334 45L733 66M334 45L48 119L182 194L733 110M182 194L245 278M733 153L556 191L245 278L420 366L733 326M733 196L605 228L556 191M733 239L683 261L733 282M683 261L605 228M733 369L455 407L420 366M733 412L576 444L455 407M733 455L615 477L733 498M615 477L576 444"/>
<path d="M733 23L308 45L733 66M308 45L114 77L733 110M114 77L100 178L249 278M733 153L537 191L249 278L406 366L733 326M733 196L610 228L537 191M733 239L685 261L733 282M685 261L610 228M733 369L473 407L406 366M733 412L578 444L473 407M733 455L627 477L733 498M627 477L578 444"/>
<path d="M733 23L283 45L733 66M283 45L104 119L125 194L733 110M125 194L240 278M733 153L563 191L240 278L389 366L733 326M733 196L598 228L563 191M733 239L687 261L733 282M687 261L598 228M733 369L435 407L389 366M733 412L573 444L435 407M733 455L608 477L733 498M608 477L573 444"/>
<path d="M733 23L229 45L733 66M229 45L73 119L147 194L733 110M147 194L226 278M733 153L542 191L226 278L388 366L733 326M733 196L594 228L542 191M733 239L685 261L733 282M685 261L594 228M733 369L445 407L388 366M733 412L568 444L445 407M733 455L601 477L733 498M601 477L568 444"/>
<path d="M733 23L310 45L733 66M310 45L72 119L189 194L733 110M189 194L275 278M733 153L547 191L275 278L419 366L733 326M733 196L619 228L547 191M733 239L685 261L733 282M685 261L619 228M733 369L463 407L419 366M733 412L606 444L463 407M733 455L634 477L733 498M634 477L606 444"/>
<path d="M733 23L289 45L733 66M289 45L72 77L733 110M72 77L60 178L199 278M733 153L529 191L199 278L367 366L733 326M733 196L564 228L529 191M733 239L687 261L733 282M687 261L564 228M733 369L420 407L367 366M733 412L541 444L420 407M733 455L578 477L733 498M578 477L541 444"/>
<path d="M733 23L233 45L733 66M233 45L73 119L125 194L733 110M125 194L194 278M733 153L520 191L194 278L371 366L733 326M733 196L597 228L520 191M733 239L682 261L733 282M682 261L597 228M733 369L424 407L371 366M733 412L554 444L424 407M733 455L604 477L733 498M604 477L554 444"/>
<path d="M733 23L325 45L733 66M325 45L117 77L733 110M117 77L70 178L286 278M733 153L566 191L286 278L418 366L733 326M733 196L603 228L566 191M733 239L688 261L733 282M688 261L603 228M733 369L447 407L418 366M733 412L594 444L447 407M733 455L606 477L733 498M606 477L594 444"/>
<path d="M733 23L309 45L733 66M309 45L64 119L125 194L733 110M125 194L246 278M733 153L561 191L246 278L385 366L733 326M733 196L601 228L561 191M733 239L682 261L733 282M682 261L601 228M733 369L455 407L385 366M733 412L558 444L455 407M733 455L611 477L733 498M611 477L558 444"/>
<path d="M733 23L260 45L733 66M260 45L117 119L129 194L733 110M129 194L218 278M733 153L540 191L218 278L388 366L733 326M733 196L589 228L540 191M733 239L689 261L733 282M689 261L589 228M733 369L432 407L388 366M733 412L576 444L432 407M733 455L600 477L733 498M600 477L576 444"/>
<path d="M733 23L292 45L733 66M292 45L84 119L112 194L733 110M112 194L196 278M733 153L544 191L196 278L368 366L733 326M733 196L577 228L544 191M733 239L678 261L733 282M678 261L577 228M733 369L470 407L368 366M733 412L555 444L470 407M733 455L598 477L733 498M598 477L555 444"/>
<path d="M733 23L303 45L733 66M303 45L136 77L733 110M136 77L127 178L282 278M733 153L564 191L282 278L435 366L733 326M733 196L623 228L564 191M733 239L697 261L733 282M697 261L623 228M733 369L461 407L435 366M733 412L592 444L461 407M733 455L622 477L733 498M622 477L592 444"/>
<path d="M733 23L278 45L733 66M278 45L74 119L130 194L733 110M130 194L262 278M733 153L544 191L262 278L407 366L733 326M733 196L597 228L544 191M733 239L694 261L733 282M694 261L597 228M733 369L458 407L407 366M733 412L572 444L458 407M733 455L625 477L733 498M625 477L572 444"/>
<path d="M733 23L362 45L733 66M362 45L81 119L178 194L733 110M178 194L262 278M733 153L568 191L262 278L421 366L733 326M733 196L614 228L568 191M733 239L692 261L733 282M692 261L614 228M733 369L470 407L421 366M733 412L584 444L470 407M733 455L611 477L733 498M611 477L584 444"/>
<path d="M733 23L303 45L733 66M303 45L53 119L161 194L733 110M161 194L245 278M733 153L570 191L245 278L413 366L733 326M733 196L589 228L570 191M733 239L697 261L733 282M697 261L589 228M733 369L439 407L413 366M733 412L589 444L439 407M733 455L616 477L733 498M616 477L589 444"/>
<path d="M733 23L236 45L733 66M236 45L93 77L733 110M93 77L64 178L225 278M733 153L535 191L225 278L378 366L733 326M733 196L598 228L535 191M733 239L674 261L733 282M674 261L598 228M733 369L440 407L378 366M733 412L551 444L440 407M733 455L594 477L733 498M594 477L551 444"/>
<path d="M733 23L290 45L733 66M290 45L87 119L124 194L733 110M124 194L253 278M733 153L530 191L253 278L399 366L733 326M733 196L592 228L530 191M733 239L678 261L733 282M678 261L592 228M733 369L443 407L399 366M733 412L576 444L443 407M733 455L622 477L733 498M622 477L576 444"/>
<path d="M733 23L255 45L733 66M255 45L27 119L140 194L733 110M140 194L230 278M733 153L552 191L230 278L386 366L733 326M733 196L599 228L552 191M733 239L692 261L733 282M692 261L599 228M733 369L436 407L386 366M733 412L559 444L436 407M733 455L593 477L733 498M593 477L559 444"/>
<path d="M733 23L213 45L733 66M213 45L80 162L185 278M80 162L77 136L733 110M733 153L546 191L185 278L372 366L733 326M733 196L578 228L546 191M733 239L666 261L733 282M666 261L578 228M733 369L409 407L372 366M733 412L551 444L409 407M733 455L598 477L733 498M598 477L551 444"/>
<path d="M733 23L316 45L733 66M316 45L90 119L146 194L733 110M146 194L278 278M733 153L564 191L278 278L410 366L733 326M733 196L629 228L564 191M733 239L703 261L733 282M703 261L629 228M733 369L490 407L410 366M733 412L601 444L490 407M733 455L618 477L733 498M618 477L601 444"/>
<path d="M733 23L329 45L733 66M329 45L58 119L137 194L733 110M137 194L260 278M733 153L546 191L260 278L402 366L733 326M733 196L597 228L546 191M733 239L688 261L733 282M688 261L597 228M733 369L446 407L402 366M733 412L574 444L446 407M733 455L620 477L733 498M620 477L574 444"/>
<path d="M733 23L273 45L733 66M273 45L80 119L128 194L733 110M128 194L229 278M733 153L547 191L229 278L393 366L733 326M733 196L595 228L547 191M733 239L684 261L733 282M684 261L595 228M733 369L437 407L393 366M733 412L569 444L437 407M733 455L594 477L733 498M594 477L569 444"/>
<path d="M733 23L328 45L733 66M328 45L51 119L123 194L733 110M123 194L229 278M733 153L551 191L229 278L398 366L733 326M733 196L603 228L551 191M733 239L678 261L733 282M678 261L603 228M733 369L442 407L398 366M733 412L571 444L442 407M733 455L623 477L733 498M623 477L571 444"/>
<path d="M733 23L283 45L733 66M283 45L81 119L144 194L733 110M144 194L241 278M733 153L538 191L241 278L385 366L733 326M733 196L596 228L538 191M733 239L694 261L733 282M694 261L596 228M733 369L451 407L385 366M733 412L575 444L451 407M733 455L594 477L733 498M594 477L575 444"/>
<path d="M733 23L219 45L733 66M219 45L110 119L191 194L733 110M191 194L284 278M733 153L559 191L284 278L409 366L733 326M733 196L617 228L559 191M733 239L692 261L733 282M692 261L617 228M733 369L447 407L409 366M733 412L579 444L447 407M733 455L620 477L733 498M620 477L579 444"/>
<path d="M733 23L268 45L733 66M268 45L59 119L94 194L733 110M94 194L209 278M733 153L545 191L209 278L391 366L733 326M733 196L576 228L545 191M733 239L680 261L733 282M680 261L576 228M733 369L436 407L391 366M733 412L572 444L436 407M733 455L594 477L733 498M594 477L572 444"/>
<path d="M733 23L239 45L733 66M239 45L51 119L116 194L733 110M116 194L210 278M733 153L524 191L210 278L371 366L733 326M733 196L591 228L524 191M733 239L675 261L733 282M675 261L591 228M733 369L429 407L371 366M733 412L558 444L429 407M733 455L595 477L733 498M595 477L558 444"/>
<path d="M733 23L282 45L733 66M282 45L128 162L199 278M128 162L114 136L733 110M733 153L543 191L199 278L363 366L733 326M733 196L589 228L543 191M733 239L686 261L733 282M686 261L589 228M733 369L427 407L363 366M733 412L569 444L427 407M733 455L605 477L733 498M605 477L569 444"/>
<path d="M733 23L262 45L733 66M262 45L38 119L147 194L733 110M147 194L243 278M733 153L523 191L243 278L398 366L733 326M733 196L592 228L523 191M733 239L683 261L733 282M683 261L592 228M733 369L437 407L398 366M733 412L560 444L437 407M733 455L596 477L733 498M596 477L560 444"/>
<path d="M733 23L290 45L733 66M290 45L50 119L137 194L733 110M137 194L241 278M733 153L541 191L241 278L382 366L733 326M733 196L608 228L541 191M733 239L684 261L733 282M684 261L608 228M733 369L427 407L382 366M733 412L578 444L427 407M733 455L606 477L733 498M606 477L578 444"/>
<path d="M733 23L257 45L733 66M257 45L86 119L138 194L733 110M138 194L242 278M733 153L577 191L242 278L397 366L733 326M733 196L591 228L577 191M733 239L687 261L733 282M687 261L591 228M733 369L474 407L397 366M733 412L554 444L474 407M733 455L607 477L733 498M607 477L554 444"/>
<path d="M733 23L314 45L733 66M314 45L126 77L733 110M126 77L112 178L225 278M733 153L525 191L225 278L374 366L733 326M733 196L585 228L525 191M733 239L669 261L733 282M669 261L585 228M733 369L429 407L374 366M733 412L561 444L429 407M733 455L582 477L733 498M582 477L561 444"/>
<path d="M733 23L261 45L733 66M261 45L58 119L107 194L733 110M107 194L225 278M733 153L549 191L225 278L389 366L733 326M733 196L598 228L549 191M733 239L683 261L733 282M683 261L598 228M733 369L444 407L389 366M733 412L561 444L444 407M733 455L616 477L733 498M616 477L561 444"/>
<path d="M733 23L306 45L733 66M306 45L140 77L733 110M140 77L106 178L250 278M733 153L545 191L250 278L407 366L733 326M733 196L598 228L545 191M733 239L691 261L733 282M691 261L598 228M733 369L449 407L407 366M733 412L591 444L449 407M733 455L603 477L733 498M603 477L591 444"/>
<path d="M733 23L328 45L733 66M328 45L98 119L153 194L733 110M153 194L268 278M733 153L555 191L268 278L410 366L733 326M733 196L610 228L555 191M733 239L696 261L733 282M696 261L610 228M733 369L465 407L410 366M733 412L575 444L465 407M733 455L617 477L733 498M617 477L575 444"/>
<path d="M733 23L307 45L733 66M307 45L63 119L125 194L733 110M125 194L235 278M733 153L548 191L235 278L407 366L733 326M733 196L596 228L548 191M733 239L688 261L733 282M688 261L596 228M733 369L444 407L407 366M733 412L557 444L444 407M733 455L610 477L733 498M610 477L557 444"/>
<path d="M733 23L269 45L733 66M269 45L125 77L733 110M125 77L118 178L243 278M733 153L557 191L243 278L386 366L733 326M733 196L600 228L557 191M733 239L683 261L733 282M683 261L600 228M733 369L436 407L386 366M733 412L580 444L436 407M733 455L600 477L733 498M600 477L580 444"/>
<path d="M733 23L275 45L733 66M275 45L105 119L203 194L733 110M203 194L269 278M733 153L563 191L269 278L403 366L733 326M733 196L594 228L563 191M733 239L684 261L733 282M684 261L594 228M733 369L477 407L403 366M733 412L581 444L477 407M733 455L626 477L733 498M626 477L581 444"/>
<path d="M733 23L274 45L733 66M274 45L30 119L81 194L733 110M81 194L193 278M733 153L525 191L193 278L372 366L733 326M733 196L593 228L525 191M733 239L687 261L733 282M687 261L593 228M733 369L409 407L372 366M733 412L563 444L409 407M733 455L585 477L733 498M585 477L563 444"/>
<path d="M733 23L254 45L733 66M254 45L34 119L124 194L733 110M124 194L208 278M733 153L539 191L208 278L372 366L733 326M733 196L575 228L539 191M733 239L681 261L733 282M681 261L575 228M733 369L393 407L372 366M733 412L575 444L393 407M733 455L604 477L733 498M604 477L575 444"/>
<path d="M733 23L342 45L733 66M342 45L90 119L121 194L733 110M121 194L260 278M733 153L546 191L260 278L399 366L733 326M733 196L621 228L546 191M733 239L691 261L733 282M691 261L621 228M733 369L478 407L399 366M733 412L578 444L478 407M733 455L601 477L733 498M601 477L578 444"/>
<path d="M733 23L280 45L733 66M280 45L99 119L121 194L733 110M121 194L222 278M733 153L540 191L222 278L382 366L733 326M733 196L586 228L540 191M733 239L674 261L733 282M674 261L586 228M733 369L433 407L382 366M733 412L569 444L433 407M733 455L605 477L733 498M605 477L569 444"/>
<path d="M733 23L243 45L733 66M243 45L118 77L733 110M118 77L96 178L256 278M733 153L570 191L256 278L405 366L733 326M733 196L598 228L570 191M733 239L699 261L733 282M699 261L598 228M733 369L452 407L405 366M733 412L568 444L452 407M733 455L607 477L733 498M607 477L568 444"/>
<path d="M733 23L294 45L733 66M294 45L58 119L138 194L733 110M138 194L228 278M733 153L547 191L228 278L380 366L733 326M733 196L586 228L547 191M733 239L689 261L733 282M689 261L586 228M733 369L442 407L380 366M733 412L568 444L442 407M733 455L610 477L733 498M610 477L568 444"/>
<path d="M733 23L267 45L733 66M267 45L119 119L130 194L733 110M130 194L230 278M733 153L530 191L230 278L408 366L733 326M733 196L617 228L530 191M733 239L681 261L733 282M681 261L617 228M733 369L428 407L408 366M733 412L570 444L428 407M733 455L598 477L733 498M598 477L570 444"/>
<path d="M733 23L283 45L733 66M283 45L122 77L733 110M122 77L93 178L246 278M733 153L547 191L246 278L402 366L733 326M733 196L597 228L547 191M733 239L684 261L733 282M684 261L597 228M733 369L457 407L402 366M733 412L590 444L457 407M733 455L616 477L733 498M616 477L590 444"/>
<path d="M733 23L248 45L733 66M248 45L100 77L733 110M100 77L90 178L235 278M733 153L544 191L235 278L380 366L733 326M733 196L593 228L544 191M733 239L694 261L733 282M694 261L593 228M733 369L435 407L380 366M733 412L570 444L435 407M733 455L606 477L733 498M606 477L570 444"/>
<path d="M733 23L302 45L733 66M302 45L92 119L182 194L733 110M182 194L263 278M733 153L564 191L263 278L407 366L733 326M733 196L606 228L564 191M733 239L681 261L733 282M681 261L606 228M733 369L458 407L407 366M733 412L583 444L458 407M733 455L610 477L733 498M610 477L583 444"/>
<path d="M733 23L354 45L733 66M354 45L112 119L159 194L733 110M159 194L263 278M733 153L559 191L263 278L415 366L733 326M733 196L586 228L559 191M733 239L688 261L733 282M688 261L586 228M733 369L446 407L415 366M733 412L571 444L446 407M733 455L635 477L733 498M635 477L571 444"/>
<path d="M733 23L274 45L733 66M274 45L69 119L109 194L733 110M109 194L202 278M733 153L532 191L202 278L382 366L733 326M733 196L598 228L532 191M733 239L685 261L733 282M685 261L598 228M733 369L454 407L382 366M733 412L574 444L454 407M733 455L589 477L733 498M589 477L574 444"/>
<path d="M733 23L284 45L733 66M284 45L62 119L160 194L733 110M160 194L242 278M733 153L556 191L242 278L384 366L733 326M733 196L607 228L556 191M733 239L683 261L733 282M683 261L607 228M733 369L446 407L384 366M733 412L574 444L446 407M733 455L608 477L733 498M608 477L574 444"/>
<path d="M733 23L265 45L733 66M265 45L128 77L733 110M128 77L96 178L249 278M733 153L577 191L249 278L413 366L733 326M733 196L607 228L577 191M733 239L685 261L733 282M685 261L607 228M733 369L477 407L413 366M733 412L594 444L477 407M733 455L636 477L733 498M636 477L594 444"/>
<path d="M733 23L274 45L733 66M274 45L82 119L110 194L733 110M110 194L224 278M733 153L531 191L224 278L385 366L733 326M733 196L594 228L531 191M733 239L687 261L733 282M687 261L594 228M733 369L397 407L385 366M733 412L545 444L397 407M733 455L584 477L733 498M584 477L545 444"/>
<path d="M733 23L242 45L733 66M242 45L102 77L733 110M102 77L87 178L190 278M733 153L539 191L190 278L388 366L733 326M733 196L576 228L539 191M733 239L681 261L733 282M681 261L576 228M733 369L402 407L388 366M733 412L550 444L402 407M733 455L596 477L733 498M596 477L550 444"/>
<path d="M733 23L332 45L733 66M332 45L65 119L148 194L733 110M148 194L272 278M733 153L560 191L272 278L411 366L733 326M733 196L609 228L560 191M733 239L690 261L733 282M690 261L609 228M733 369L481 407L411 366M733 412L589 444L481 407M733 455L609 477L733 498M609 477L589 444"/>
<path d="M733 23L284 45L733 66M284 45L69 119L102 194L733 110M102 194L239 278M733 153L530 191L239 278L372 366L733 326M733 196L582 228L530 191M733 239L675 261L733 282M675 261L582 228M733 369L427 407L372 366M733 412L556 444L427 407M733 455L606 477L733 498M606 477L556 444"/>
<path d="M733 23L259 45L733 66M259 45L112 119L167 194L733 110M167 194L237 278M733 153L551 191L237 278L399 366L733 326M733 196L610 228L551 191M733 239L696 261L733 282M696 261L610 228M733 369L448 407L399 366M733 412L590 444L448 407M733 455L605 477L733 498M605 477L590 444"/>
<path d="M733 23L283 45L733 66M283 45L129 119L166 194L733 110M166 194L217 278M733 153L554 191L217 278L373 366L733 326M733 196L589 228L554 191M733 239L691 261L733 282M691 261L589 228M733 369L454 407L373 366M733 412L560 444L454 407M733 455L617 477L733 498M617 477L560 444"/>
<path d="M733 23L252 45L733 66M252 45L70 119L118 194L733 110M118 194L246 278M733 153L551 191L246 278L401 366L733 326M733 196L600 228L551 191M733 239L680 261L733 282M680 261L600 228M733 369L435 407L401 366M733 412L586 444L435 407M733 455L592 477L733 498M592 477L586 444"/>
<path d="M733 23L294 45L733 66M294 45L36 119L135 194L733 110M135 194L275 278M733 153L544 191L275 278L409 366L733 326M733 196L594 228L544 191M733 239L685 261L733 282M685 261L594 228M733 369L454 407L409 366M733 412L574 444L454 407M733 455L613 477L733 498M613 477L574 444"/>
<path d="M733 23L334 45L733 66M334 45L85 119L118 194L733 110M118 194L213 278M733 153L541 191L213 278L376 366L733 326M733 196L605 228L541 191M733 239L685 261L733 282M685 261L605 228M733 369L421 407L376 366M733 412L564 444L421 407M733 455L596 477L733 498M596 477L564 444"/>
<path d="M733 23L257 45L733 66M257 45L77 119L121 194L733 110M121 194L236 278M733 153L527 191L236 278L380 366L733 326M733 196L568 228L527 191M733 239L699 261L733 282M699 261L568 228M733 369L432 407L380 366M733 412L573 444L432 407M733 455L605 477L733 498M605 477L573 444"/>
<path d="M733 23L310 45L733 66M310 45L52 119L151 194L733 110M151 194L245 278M733 153L560 191L245 278L410 366L733 326M733 196L606 228L560 191M733 239L677 261L733 282M677 261L606 228M733 369L455 407L410 366M733 412L564 444L455 407M733 455L604 477L733 498M604 477L564 444"/>
<path d="M733 23L320 45L733 66M320 45L75 119L172 194L733 110M172 194L221 278M733 153L572 191L221 278L403 366L733 326M733 196L600 228L572 191M733 239L688 261L733 282M688 261L600 228M733 369L435 407L403 366M733 412L582 444L435 407M733 455L622 477L733 498M622 477L582 444"/>
<path d="M733 23L259 45L733 66M259 45L176 162L224 278M176 162L119 136L733 110M733 153L535 191L224 278L372 366L733 326M733 196L593 228L535 191M733 239L683 261L733 282M683 261L593 228M733 369L437 407L372 366M733 412L563 444L437 407M733 455L592 477L733 498M592 477L563 444"/>
<path d="M733 23L312 45L733 66M312 45L89 119L104 194L733 110M104 194L247 278M733 153L575 191L247 278L408 366L733 326M733 196L609 228L575 191M733 239L669 261L733 282M669 261L609 228M733 369L444 407L408 366M733 412L589 444L444 407M733 455L619 477L733 498M619 477L589 444"/>
<path d="M733 23L271 45L733 66M271 45L58 119L159 194L733 110M159 194L227 278M733 153L544 191L227 278L392 366L733 326M733 196L587 228L544 191M733 239L698 261L733 282M698 261L587 228M733 369L445 407L392 366M733 412L567 444L445 407M733 455L600 477L733 498M600 477L567 444"/>
<path d="M733 23L279 45L733 66M279 45L84 119L168 194L733 110M168 194L257 278M733 153L547 191L257 278L388 366L733 326M733 196L610 228L547 191M733 239L691 261L733 282M691 261L610 228M733 369L454 407L388 366M733 412L584 444L454 407M733 455L621 477L733 498M621 477L584 444"/>
<path d="M733 23L278 45L733 66M278 45L86 77L733 110M86 77L74 178L232 278M733 153L543 191L232 278L379 366L733 326M733 196L585 228L543 191M733 239L681 261L733 282M681 261L585 228M733 369L439 407L379 366M733 412L556 444L439 407M733 455L590 477L733 498M590 477L556 444"/>
<path d="M733 23L348 45L733 66M348 45L131 77L733 110M131 77L101 178L284 278M733 153L566 191L284 278L411 366L733 326M733 196L605 228L566 191M733 239L699 261L733 282M699 261L605 228M733 369L449 407L411 366M733 412L595 444L449 407M733 455L621 477L733 498M621 477L595 444"/>
<path d="M733 23L289 45L733 66M289 45L120 162L220 278M120 162L101 136L733 110M733 153L528 191L220 278L380 366L733 326M733 196L593 228L528 191M733 239L682 261L733 282M682 261L593 228M733 369L416 407L380 366M733 412L563 444L416 407M733 455L605 477L733 498M605 477L563 444"/>
<path d="M733 23L267 45L733 66M267 45L44 119L117 194L733 110M117 194L250 278M733 153L551 191L250 278L401 366L733 326M733 196L594 228L551 191M733 239L688 261L733 282M688 261L594 228M733 369L455 407L401 366M733 412L579 444L455 407M733 455L603 477L733 498M603 477L579 444"/>
<path d="M733 23L275 45L733 66M275 45L72 119L120 194L733 110M120 194L244 278M733 153L556 191L244 278L395 366L733 326M733 196L612 228L556 191M733 239L694 261L733 282M694 261L612 228M733 369L440 407L395 366M733 412L558 444L440 407M733 455L614 477L733 498M614 477L558 444"/>
<path d="M733 23L296 45L733 66M296 45L91 119L116 194L733 110M116 194L200 278M733 153L535 191L200 278L364 366L733 326M733 196L580 228L535 191M733 239L672 261L733 282M672 261L580 228M733 369L429 407L364 366M733 412L571 444L429 407M733 455L588 477L733 498M588 477L571 444"/>
<path d="M733 23L304 45L733 66M304 45L71 119L162 194L733 110M162 194L243 278M733 153L549 191L243 278L405 366L733 326M733 196L588 228L549 191M733 239L692 261L733 282M692 261L588 228M733 369L447 407L405 366M733 412L574 444L447 407M733 455L600 477L733 498M600 477L574 444"/>
<path d="M733 23L346 45L733 66M346 45L139 77L733 110M139 77L136 178L247 278M733 153L534 191L247 278L417 366L733 326M733 196L605 228L534 191M733 239L694 261L733 282M694 261L605 228M733 369L479 407L417 366M733 412L601 444L479 407M733 455L614 477L733 498M614 477L601 444"/>
<path d="M733 23L238 45L733 66M238 45L78 119L109 194L733 110M109 194L237 278M733 153L546 191L237 278L405 366L733 326M733 196L609 228L546 191M733 239L686 261L733 282M686 261L609 228M733 369L454 407L405 366M733 412L571 444L454 407M733 455L614 477L733 498M614 477L571 444"/>
<path d="M733 23L297 45L733 66M297 45L140 77L733 110M140 77L111 178L227 278M733 153L543 191L227 278L395 366L733 326M733 196L593 228L543 191M733 239L688 261L733 282M688 261L593 228M733 369L443 407L395 366M733 412L571 444L443 407M733 455L603 477L733 498M603 477L571 444"/>
<path d="M733 23L348 45L733 66M348 45L85 119L175 194L733 110M175 194L277 278M733 153L564 191L277 278L413 366L733 326M733 196L614 228L564 191M733 239L681 261L733 282M681 261L614 228M733 369L474 407L413 366M733 412L609 444L474 407M733 455L627 477L733 498M627 477L609 444"/>
<path d="M733 23L252 45L733 66M252 45L84 119L89 194L733 110M89 194L217 278M733 153L541 191L217 278L369 366L733 326M733 196L580 228L541 191M733 239L698 261L733 282M698 261L580 228M733 369L411 407L369 366M733 412L548 444L411 407M733 455L586 477L733 498M586 477L548 444"/>
<path d="M733 23L283 45L733 66M283 45L82 119L161 194L733 110M161 194L294 278M733 153L582 191L294 278L406 366L733 326M733 196L607 228L582 191M733 239L690 261L733 282M690 261L607 228M733 369L477 407L406 366M733 412L593 444L477 407M733 455L620 477L733 498M620 477L593 444"/>
<path d="M733 23L269 45L733 66M269 45L33 119L101 194L733 110M101 194L233 278M733 153L550 191L233 278L387 366L733 326M733 196L602 228L550 191M733 239L678 261L733 282M678 261L602 228M733 369L417 407L387 366M733 412L555 444L417 407M733 455L617 477L733 498M617 477L555 444"/>
<path d="M733 23L303 45L733 66M303 45L136 77L733 110M136 77L125 178L218 278M733 153L526 191L218 278L396 366L733 326M733 196L579 228L526 191M733 239L691 261L733 282M691 261L579 228M733 369L451 407L396 366M733 412L578 444L451 407M733 455L588 477L733 498M588 477L578 444"/>
<path d="M733 23L272 45L733 66M272 45L76 119L140 194L733 110M140 194L214 278M733 153L536 191L214 278L377 366L733 326M733 196L594 228L536 191M733 239L692 261L733 282M692 261L594 228M733 369L434 407L377 366M733 412L554 444L434 407M733 455L605 477L733 498M605 477L554 444"/>
<path d="M733 23L373 45L733 66M373 45L60 119L113 194L733 110M113 194L267 278M733 153L575 191L267 278L415 366L733 326M733 196L601 228L575 191M733 239L681 261L733 282M681 261L601 228M733 369L453 407L415 366M733 412L587 444L453 407M733 455L610 477L733 498M610 477L587 444"/>
<path d="M733 23L311 45L733 66M311 45L125 77L733 110M125 77L119 178L268 278M733 153L568 191L268 278L414 366L733 326M733 196L617 228L568 191M733 239L690 261L733 282M690 261L617 228M733 369L475 407L414 366M733 412L584 444L475 407M733 455L625 477L733 498M625 477L584 444"/>
<path d="M733 23L225 45L733 66M225 45L100 119L118 194L733 110M118 194L200 278M733 153L519 191L200 278L365 366L733 326M733 196L575 228L519 191M733 239L683 261L733 282M683 261L575 228M733 369L406 407L365 366M733 412L563 444L406 407M733 455L583 477L733 498M583 477L563 444"/>
<path d="M733 23L296 45L733 66M296 45L108 77L733 110M108 77L86 178L228 278M733 153L543 191L228 278L366 366L733 326M733 196L601 228L543 191M733 239L688 261L733 282M688 261L601 228M733 369L418 407L366 366M733 412L577 444L418 407M733 455L614 477L733 498M614 477L577 444"/>
<path d="M733 23L286 45L733 66M286 45L64 119L150 194L733 110M150 194L239 278M733 153L547 191L239 278L409 366L733 326M733 196L593 228L547 191M733 239L683 261L733 282M683 261L593 228M733 369L479 407L409 366M733 412L574 444L479 407M733 455L600 477L733 498M600 477L574 444"/>
<path d="M733 23L292 45L733 66M292 45L43 119L220 194L733 110M220 194L269 278M733 153L564 191L269 278L425 366L733 326M733 196L610 228L564 191M733 239L688 261L733 282M688 261L610 228M733 369L462 407L425 366M733 412L588 444L462 407M733 455L622 477L733 498M622 477L588 444"/>
<path d="M733 23L282 45L733 66M282 45L78 119L84 194L733 110M84 194L220 278M733 153L545 191L220 278L371 366L733 326M733 196L581 228L545 191M733 239L684 261L733 282M684 261L581 228M733 369L423 407L371 366M733 412L556 444L423 407M733 455L592 477L733 498M592 477L556 444"/>
<path d="M733 23L252 45L733 66M252 45L92 77L733 110M92 77L78 178L245 278M733 153L542 191L245 278L387 366L733 326M733 196L586 228L542 191M733 239L679 261L733 282M679 261L586 228M733 369L408 407L387 366M733 412L574 444L408 407M733 455L603 477L733 498M603 477L574 444"/>
<path d="M733 23L301 45L733 66M301 45L66 119L177 194L733 110M177 194L237 278M733 153L563 191L237 278L388 366L733 326M733 196L616 228L563 191M733 239L693 261L733 282M693 261L616 228M733 369L458 407L388 366M733 412L563 444L458 407M733 455L606 477L733 498M606 477L563 444"/>
<path d="M733 23L334 45L733 66M334 45L54 119L172 194L733 110M172 194L266 278M733 153L568 191L266 278L417 366L733 326M733 196L607 228L568 191M733 239L697 261L733 282M697 261L607 228M733 369L469 407L417 366M733 412L594 444L469 407M733 455L641 477L733 498M641 477L594 444"/>
<path d="M733 23L240 45L733 66M240 45L80 119L87 194L733 110M87 194L202 278M733 153L522 191L202 278L377 366L733 326M733 196L583 228L522 191M733 239L676 261L733 282M676 261L583 228M733 369L419 407L377 366M733 412L554 444L419 407M733 455L578 477L733 498M578 477L554 444"/>
<path d="M733 23L252 45L733 66M252 45L61 119L98 194L733 110M98 194L174 278M733 153L532 191L174 278L367 366L733 326M733 196L577 228L532 191M733 239L669 261L733 282M669 261L577 228M733 369L407 407L367 366M733 412L544 444L407 407M733 455L595 477L733 498M595 477L544 444"/>
<path d="M733 23L263 45L733 66M263 45L60 119L171 194L733 110M171 194L283 278M733 153L553 191L283 278L420 366L733 326M733 196L615 228L553 191M733 239L701 261L733 282M701 261L615 228M733 369L469 407L420 366M733 412L602 444L469 407M733 455L614 477L733 498M614 477L602 444"/>
<path d="M733 23L280 45L733 66M280 45L100 77L733 110M100 77L67 178L247 278M733 153L544 191L247 278L376 366L733 326M733 196L575 228L544 191M733 239L687 261L733 282M687 261L575 228M733 369L457 407L376 366M733 412L570 444L457 407M733 455L611 477L733 498M611 477L570 444"/>
<path d="M733 23L318 45L733 66M318 45L100 119L156 194L733 110M156 194L231 278M733 153L574 191L231 278L395 366L733 326M733 196L601 228L574 191M733 239L684 261L733 282M684 261L601 228M733 369L431 407L395 366M733 412L572 444L431 407M733 455L601 477L733 498M601 477L572 444"/>
<path d="M733 23L257 45L733 66M257 45L113 119L130 194L733 110M130 194L184 278M733 153L542 191L184 278L368 366L733 326M733 196L587 228L542 191M733 239L680 261L733 282M680 261L587 228M733 369L418 407L368 366M733 412L556 444L418 407M733 455L607 477L733 498M607 477L556 444"/>
<path d="M733 23L324 45L733 66M324 45L66 119L112 194L733 110M112 194L255 278M733 153L527 191L255 278L403 366L733 326M733 196L607 228L527 191M733 239L691 261L733 282M691 261L607 228M733 369L456 407L403 366M733 412L581 444L456 407M733 455L592 477L733 498M592 477L581 444"/>
<path d="M733 23L317 45L733 66M317 45L30 119L151 194L733 110M151 194L271 278M733 153L553 191L271 278L423 366L733 326M733 196L592 228L553 191M733 239L697 261L733 282M697 261L592 228M733 369L448 407L423 366M733 412L573 444L448 407M733 455L619 477L733 498M619 477L573 444"/>
<path d="M733 23L241 45L733 66M241 45L152 162L205 278M152 162L110 136L733 110M733 153L548 191L205 278L365 366L733 326M733 196L592 228L548 191M733 239L674 261L733 282M674 261L592 228M733 369L437 407L365 366M733 412L572 444L437 407M733 455L592 477L733 498M592 477L572 444"/>
<path d="M733 23L320 45L733 66M320 45L79 119L106 194L733 110M106 194L250 278M733 153L539 191L250 278L382 366L733 326M733 196L582 228L539 191M733 239L683 261L733 282M683 261L582 228M733 369L440 407L382 366M733 412L571 444L440 407M733 455L604 477L733 498M604 477L571 444"/>
<path d="M733 23L299 45L733 66M299 45L65 119L160 194L733 110M160 194L255 278M733 153L566 191L255 278L415 366L733 326M733 196L616 228L566 191M733 239L690 261L733 282M690 261L616 228M733 369L442 407L415 366M733 412L580 444L442 407M733 455L610 477L733 498M610 477L580 444"/>
<path d="M733 23L278 45L733 66M278 45L86 119L194 194L733 110M194 194L261 278M733 153L566 191L261 278L422 366L733 326M733 196L605 228L566 191M733 239L703 261L733 282M703 261L605 228M733 369L476 407L422 366M733 412L596 444L476 407M733 455L631 477L733 498M631 477L596 444"/>
<path d="M733 23L219 45L733 66M219 45L57 119L122 194L733 110M122 194L226 278M733 153L524 191L226 278L396 366L733 326M733 196L590 228L524 191M733 239L679 261L733 282M679 261L590 228M733 369L428 407L396 366M733 412L568 444L428 407M733 455L607 477L733 498M607 477L568 444"/>
<path d="M733 23L297 45L733 66M297 45L119 119L162 194L733 110M162 194L268 278M733 153L560 191L268 278L402 366L733 326M733 196L603 228L560 191M733 239L695 261L733 282M695 261L603 228M733 369L469 407L402 366M733 412L582 444L469 407M733 455L606 477L733 498M606 477L582 444"/>
<path d="M733 23L356 45L733 66M356 45L109 119L192 194L733 110M192 194L284 278M733 153L582 191L284 278L411 366L733 326M733 196L607 228L582 191M733 239L697 261L733 282M697 261L607 228M733 369L472 407L411 366M733 412L581 444L472 407M733 455L635 477L733 498M635 477L581 444"/>
<path d="M733 23L259 45L733 66M259 45L88 77L733 110M88 77L68 178L201 278M733 153L528 191L201 278L375 366L733 326M733 196L607 228L528 191M733 239L678 261L733 282M678 261L607 228M733 369L421 407L375 366M733 412L566 444L421 407M733 455L587 477L733 498M587 477L566 444"/>
<path d="M733 23L260 45L733 66M260 45L31 119L118 194L733 110M118 194L193 278M733 153L532 191L193 278L356 366L733 326M733 196L559 228L532 191M733 239L665 261L733 282M665 261L559 228M733 369L410 407L356 366M733 412L549 444L410 407M733 455L598 477L733 498M598 477L549 444"/>
<path d="M733 23L292 45L733 66M292 45L117 77L733 110M117 77L114 178L263 278M733 153L566 191L263 278L415 366L733 326M733 196L619 228L566 191M733 239L703 261L733 282M703 261L619 228M733 369L473 407L415 366M733 412L587 444L473 407M733 455L606 477L733 498M606 477L587 444"/>
<path d="M733 23L264 45L733 66M264 45L105 119L117 194L733 110M117 194L229 278M733 153L533 191L229 278L382 366L733 326M733 196L592 228L533 191M733 239L685 261L733 282M685 261L592 228M733 369L449 407L382 366M733 412L582 444L449 407M733 455L606 477L733 498M606 477L582 444"/>
<path d="M733 23L265 45L733 66M265 45L105 77L733 110M105 77L92 178L218 278M733 153L549 191L218 278L373 366L733 326M733 196L575 228L549 191M733 239L678 261L733 282M678 261L575 228M733 369L424 407L373 366M733 412L580 444L424 407M733 455L603 477L733 498M603 477L580 444"/>
<path d="M733 23L311 45L733 66M311 45L101 119L131 194L733 110M131 194L261 278M733 153L551 191L261 278L414 366L733 326M733 196L605 228L551 191M733 239L695 261L733 282M695 261L605 228M733 369L446 407L414 366M733 412L585 444L446 407M733 455L623 477L733 498M623 477L585 444"/>
<path d="M733 23L234 45L733 66M234 45L26 119L152 194L733 110M152 194L221 278M733 153L537 191L221 278L360 366L733 326M733 196L591 228L537 191M733 239L677 261L733 282M677 261L591 228M733 369L429 407L360 366M733 412L554 444L429 407M733 455L591 477L733 498M591 477L554 444"/>
<path d="M733 23L300 45L733 66M300 45L42 119L74 194L733 110M74 194L212 278M733 153L525 191L212 278L369 366L733 326M733 196L582 228L525 191M733 239L680 261L733 282M680 261L582 228M733 369L446 407L369 366M733 412L548 444L446 407M733 455L598 477L733 498M598 477L548 444"/>
<path d="M733 23L289 45L733 66M289 45L87 119L170 194L733 110M170 194L277 278M733 153L563 191L277 278L406 366L733 326M733 196L603 228L563 191M733 239L690 261L733 282M690 261L603 228M733 369L443 407L406 366M733 412L590 444L443 407M733 455L612 477L733 498M612 477L590 444"/>
<path d="M733 23L281 45L733 66M281 45L119 77L733 110M119 77L89 178L264 278M733 153L582 191L264 278L422 366L733 326M733 196L598 228L582 191M733 239L698 261L733 282M698 261L598 228M733 369L466 407L422 366M733 412L581 444L466 407M733 455L634 477L733 498M634 477L581 444"/>
<path d="M733 23L278 45L733 66M278 45L57 119L104 194L733 110M104 194L199 278M733 153L530 191L199 278L368 366L733 326M733 196L598 228L530 191M733 239L673 261L733 282M673 261L598 228M733 369L414 407L368 366M733 412L564 444L414 407M733 455L579 477L733 498M579 477L564 444"/>
<path d="M733 23L251 45L733 66M251 45L52 119L123 194L733 110M123 194L209 278M733 153L562 191L209 278L391 366L733 326M733 196L595 228L562 191M733 239L686 261L733 282M686 261L595 228M733 369L447 407L391 366M733 412L559 444L447 407M733 455L628 477L733 498M628 477L559 444"/>
<path d="M733 23L303 45L733 66M303 45L90 119L150 194L733 110M150 194L252 278M733 153L549 191L252 278L378 366L733 326M733 196L597 228L549 191M733 239L686 261L733 282M686 261L597 228M733 369L431 407L378 366M733 412L591 444L431 407M733 455L598 477L733 498M598 477L591 444"/>
<path d="M733 23L339 45L733 66M339 45L128 162L293 278M128 162L115 136L733 110M733 153L553 191L293 278L423 366L733 326M733 196L626 228L553 191M733 239L686 261L733 282M686 261L626 228M733 369L482 407L423 366M733 412L588 444L482 407M733 455L625 477L733 498M625 477L588 444"/>
<path d="M733 23L255 45L733 66M255 45L44 119L127 194L733 110M127 194L212 278M733 153L518 191L212 278L374 366L733 326M733 196L586 228L518 191M733 239L682 261L733 282M682 261L586 228M733 369L403 407L374 366M733 412L561 444L403 407M733 455L593 477L733 498M593 477L561 444"/>
<path d="M733 23L271 45L733 66M271 45L134 119L153 194L733 110M153 194L277 278M733 153L572 191L277 278L421 366L733 326M733 196L597 228L572 191M733 239L690 261L733 282M690 261L597 228M733 369L478 407L421 366M733 412L574 444L478 407M733 455L621 477L733 498M621 477L574 444"/>
<path d="M733 23L279 45L733 66M279 45L88 119L123 194L733 110M123 194L226 278M733 153L559 191L226 278L385 366L733 326M733 196L600 228L559 191M733 239L681 261L733 282M681 261L600 228M733 369L434 407L385 366M733 412L578 444L434 407M733 455L614 477L733 498M614 477L578 444"/>
<path d="M733 23L240 45L733 66M240 45L28 119L97 194L733 110M97 194L205 278M733 153L515 191L205 278L347 366L733 326M733 196L587 228L515 191M733 239L691 261L733 282M691 261L587 228M733 369L409 407L347 366M733 412L554 444L409 407M733 455L589 477L733 498M589 477L554 444"/>
<path d="M733 23L320 45L733 66M320 45L119 77L733 110M119 77L87 178L243 278M733 153L554 191L243 278L405 366L733 326M733 196L590 228L554 191M733 239L678 261L733 282M678 261L590 228M733 369L445 407L405 366M733 412L578 444L445 407M733 455L611 477L733 498M611 477L578 444"/>
<path d="M733 23L315 45L733 66M315 45L109 119L135 194L733 110M135 194L246 278M733 153L567 191L246 278L413 366L733 326M733 196L608 228L567 191M733 239L689 261L733 282M689 261L608 228M733 369L487 407L413 366M733 412L587 444L487 407M733 455L627 477L733 498M627 477L587 444"/>
<path d="M733 23L243 45L733 66M243 45L58 119L133 194L733 110M133 194L209 278M733 153L531 191L209 278L369 366L733 326M733 196L584 228L531 191M733 239L682 261L733 282M682 261L584 228M733 369L407 407L369 366M733 412L545 444L407 407M733 455L570 477L733 498M570 477L545 444"/>
<path d="M733 23L328 45L733 66M328 45L56 119L86 194L733 110M86 194L206 278M733 153L555 191L206 278L375 366L733 326M733 196L591 228L555 191M733 239L688 261L733 282M688 261L591 228M733 369L414 407L375 366M733 412L561 444L414 407M733 455L607 477L733 498M607 477L561 444"/>
<path d="M733 23L300 45L733 66M300 45L140 119L174 194L733 110M174 194L266 278M733 153L551 191L266 278L421 366L733 326M733 196L600 228L551 191M733 239L683 261L733 282M683 261L600 228M733 369L469 407L421 366M733 412L583 444L469 407M733 455L608 477L733 498M608 477L583 444"/>
<path d="M733 23L270 45L733 66M270 45L106 119L173 194L733 110M173 194L274 278M733 153L543 191L274 278L415 366L733 326M733 196L618 228L543 191M733 239L688 261L733 282M688 261L618 228M733 369L463 407L415 366M733 412L578 444L463 407M733 455L623 477L733 498M623 477L578 444"/>
<path d="M733 23L275 45L733 66M275 45L93 77L733 110M93 77L78 178L213 278M733 153L542 191L213 278L368 366L733 326M733 196L578 228L542 191M733 239L684 261L733 282M684 261L578 228M733 369L429 407L368 366M733 412L572 444L429 407M733 455L591 477L733 498M591 477L572 444"/>
<path d="M733 23L243 45L733 66M243 45L81 119L132 194L733 110M132 194L216 278M733 153L549 191L216 278L381 366L733 326M733 196L569 228L549 191M733 239L688 261L733 282M688 261L569 228M733 369L424 407L381 366M733 412L560 444L424 407M733 455L602 477L733 498M602 477L560 444"/>
<path d="M733 23L307 45L733 66M307 45L25 119L148 194L733 110M148 194L258 278M733 153L541 191L258 278L414 366L733 326M733 196L609 228L541 191M733 239L684 261L733 282M684 261L609 228M733 369L459 407L414 366M733 412L593 444L459 407M733 455L613 477L733 498M613 477L593 444"/>
<path d="M733 23L339 45L733 66M339 45L65 119L109 194L733 110M109 194L266 278M733 153L550 191L266 278L407 366L733 326M733 196L599 228L550 191M733 239L684 261L733 282M684 261L599 228M733 369L441 407L407 366M733 412L574 444L441 407M733 455L626 477L733 498M626 477L574 444"/>
<path d="M733 23L276 45L733 66M276 45L134 77L733 110M134 77L104 178L225 278M733 153L563 191L225 278L371 366L733 326M733 196L598 228L563 191M733 239L688 261L733 282M688 261L598 228M733 369L465 407L371 366M733 412L570 444L465 407M733 455L587 477L733 498M587 477L570 444"/>
<path d="M733 23L266 45L733 66M266 45L148 77L733 110M148 77L137 178L239 278M733 153L562 191L239 278L398 366L733 326M733 196L600 228L562 191M733 239L679 261L733 282M679 261L600 228M733 369L432 407L398 366M733 412L564 444L432 407M733 455L601 477L733 498M601 477L564 444"/>
<path d="M733 23L280 45L733 66M280 45L59 119L139 194L733 110M139 194L227 278M733 153L553 191L227 278L415 366L733 326M733 196L591 228L553 191M733 239L686 261L733 282M686 261L591 228M733 369L450 407L415 366M733 412L577 444L450 407M733 455L612 477L733 498M612 477L577 444"/>
<path d="M733 23L302 45L733 66M302 45L79 119L110 194L733 110M110 194L227 278M733 153L531 191L227 278L374 366L733 326M733 196L607 228L531 191M733 239L685 261L733 282M685 261L607 228M733 369L428 407L374 366M733 412L564 444L428 407M733 455L593 477L733 498M593 477L564 444"/>
<path d="M733 23L288 45L733 66M288 45L164 162L258 278M164 162L158 136L733 110M733 153L550 191L258 278L407 366L733 326M733 196L594 228L550 191M733 239L690 261L733 282M690 261L594 228M733 369L431 407L407 366M733 412L581 444L431 407M733 455L628 477L733 498M628 477L581 444"/>
<path d="M733 23L319 45L733 66M319 45L37 119L128 194L733 110M128 194L227 278M733 153L553 191L227 278L384 366L733 326M733 196L593 228L553 191M733 239L681 261L733 282M681 261L593 228M733 369L447 407L384 366M733 412L565 444L447 407M733 455L588 477L733 498M588 477L565 444"/>
<path d="M733 23L314 45L733 66M314 45L79 119L201 194L733 110M201 194L252 278M733 153L566 191L252 278L408 366L733 326M733 196L601 228L566 191M733 239L685 261L733 282M685 261L601 228M733 369L468 407L408 366M733 412L599 444L468 407M733 455L623 477L733 498M623 477L599 444"/>
<path d="M733 23L285 45L733 66M285 45L91 119L126 194L733 110M126 194L202 278M733 153L541 191L202 278L374 366L733 326M733 196L574 228L541 191M733 239L682 261L733 282M682 261L574 228M733 369L423 407L374 366M733 412L555 444L423 407M733 455L602 477L733 498M602 477L555 444"/>
<path d="M733 23L287 45L733 66M287 45L81 119L128 194L733 110M128 194L264 278M733 153L542 191L264 278L405 366L733 326M733 196L614 228L542 191M733 239L690 261L733 282M690 261L614 228M733 369L457 407L405 366M733 412L585 444L457 407M733 455L613 477L733 498M613 477L585 444"/>
<path d="M733 23L262 45L733 66M262 45L45 119L128 194L733 110M128 194L263 278M733 153L541 191L263 278L391 366L733 326M733 196L597 228L541 191M733 239L675 261L733 282M675 261L597 228M733 369L461 407L391 366M733 412L564 444L461 407M733 455L614 477L733 498M614 477L564 444"/>
<path d="M733 23L303 45L733 66M303 45L81 119L154 194L733 110M154 194L240 278M733 153L567 191L240 278L408 366L733 326M733 196L604 228L567 191M733 239L701 261L733 282M701 261L604 228M733 369L439 407L408 366M733 412L592 444L439 407M733 455L599 477L733 498M599 477L592 444"/>
<path d="M733 23L251 45L733 66M251 45L102 119L127 194L733 110M127 194L219 278M733 153L533 191L219 278L359 366L733 326M733 196L596 228L533 191M733 239L682 261L733 282M682 261L596 228M733 369L433 407L359 366M733 412L562 444L433 407M733 455L606 477L733 498M606 477L562 444"/>
<path d="M733 23L313 45L733 66M313 45L81 119L142 194L733 110M142 194L264 278M733 153L569 191L264 278L409 366L733 326M733 196L588 228L569 191M733 239L689 261L733 282M689 261L588 228M733 369L454 407L409 366M733 412L584 444L454 407M733 455L604 477L733 498M604 477L584 444"/>
<path d="M733 23L317 45L733 66M317 45L110 77L733 110M110 77L95 178L248 278M733 153L557 191L248 278L406 366L733 326M733 196L601 228L557 191M733 239L698 261L733 282M698 261L601 228M733 369L456 407L406 366M733 412L540 444L456 407M733 455L614 477L733 498M614 477L540 444"/>
<path d="M733 23L267 45L733 66M267 45L79 119L144 194L733 110M144 194L211 278M733 153L520 191L211 278L383 366L733 326M733 196L590 228L520 191M733 239L669 261L733 282M669 261L590 228M733 369L419 407L383 366M733 412L576 444L419 407M733 455L598 477L733 498M598 477L576 444"/>
<path d="M733 23L276 45L733 66M276 45L92 77L733 110M92 77L59 178L217 278M733 153L540 191L217 278L372 366L733 326M733 196L591 228L540 191M733 239L680 261L733 282M680 261L591 228M733 369L413 407L372 366M733 412L565 444L413 407M733 455L598 477L733 498M598 477L565 444"/>
<path d="M733 23L258 45L733 66M258 45L36 119L173 194L733 110M173 194L238 278M733 153L541 191L238 278L418 366L733 326M733 196L598 228L541 191M733 239L691 261L733 282M691 261L598 228M733 369L474 407L418 366M733 412L573 444L474 407M733 455L609 477L733 498M609 477L573 444"/>
<path d="M733 23L290 45L733 66M290 45L61 119L147 194L733 110M147 194L241 278M733 153L550 191L241 278L400 366L733 326M733 196L615 228L550 191M733 239L694 261L733 282M694 261L615 228M733 369L442 407L400 366M733 412L589 444L442 407M733 455L631 477L733 498M631 477L589 444"/>
<path d="M733 23L275 45L733 66M275 45L101 119L130 194L733 110M130 194L246 278M733 153L553 191L246 278L400 366L733 326M733 196L599 228L553 191M733 239L678 261L733 282M678 261L599 228M733 369L463 407L400 366M733 412L586 444L463 407M733 455L613 477L733 498M613 477L586 444"/>
<path d="M733 23L295 45L733 66M295 45L117 77L733 110M117 77L57 178L212 278M733 153L532 191L212 278L370 366L733 326M733 196L585 228L532 191M733 239L691 261L733 282M691 261L585 228M733 369L419 407L370 366M733 412L557 444L419 407M733 455L594 477L733 498M594 477L557 444"/>
<path d="M733 23L321 45L733 66M321 45L62 119L206 194L733 110M206 194L264 278M733 153L563 191L264 278L417 366L733 326M733 196L620 228L563 191M733 239L693 261L733 282M693 261L620 228M733 369L470 407L417 366M733 412L589 444L470 407M733 455L630 477L733 498M630 477L589 444"/>
<path d="M733 23L227 45L733 66M227 45L65 119L74 194L733 110M74 194L211 278M733 153L542 191L211 278L368 366L733 326M733 196L571 228L542 191M733 239L677 261L733 282M677 261L571 228M733 369L406 407L368 366M733 412L550 444L406 407M733 455L581 477L733 498M581 477L550 444"/>
<path d="M733 23L304 45L733 66M304 45L85 119L141 194L733 110M141 194L216 278M733 153L533 191L216 278L389 366L733 326M733 196L598 228L533 191M733 239L678 261L733 282M678 261L598 228M733 369L425 407L389 366M733 412L551 444L425 407M733 455L610 477L733 498M610 477L551 444"/>
<path d="M733 23L244 45L733 66M244 45L69 119L140 194L733 110M140 194L251 278M733 153L558 191L251 278L391 366L733 326M733 196L603 228L558 191M733 239L691 261L733 282M691 261L603 228M733 369L423 407L391 366M733 412L575 444L423 407M733 455L612 477L733 498M612 477L575 444"/>
<path d="M733 23L292 45L733 66M292 45L120 77L733 110M120 77L110 178L230 278M733 153L537 191L230 278L398 366L733 326M733 196L597 228L537 191M733 239L684 261L733 282M684 261L597 228M733 369L458 407L398 366M733 412L579 444L458 407M733 455L608 477L733 498M608 477L579 444"/>
<path d="M733 23L236 45L733 66M236 45L65 119L169 194L733 110M169 194L237 278M733 153L534 191L237 278L376 366L733 326M733 196L594 228L534 191M733 239L682 261L733 282M682 261L594 228M733 369L435 407L376 366M733 412L575 444L435 407M733 455L613 477L733 498M613 477L575 444"/>
<path d="M733 23L306 45L733 66M306 45L115 162L259 278M115 162L94 136L733 110M733 153L561 191L259 278L427 366L733 326M733 196L602 228L561 191M733 239L691 261L733 282M691 261L602 228M733 369L454 407L427 366M733 412L569 444L454 407M733 455L600 477L733 498M600 477L569 444"/>
<path d="M733 23L354 45L733 66M354 45L83 119L137 194L733 110M137 194L231 278M733 153L566 191L231 278L405 366L733 326M733 196L608 228L566 191M733 239L696 261L733 282M696 261L608 228M733 369L472 407L405 366M733 412L583 444L472 407M733 455L614 477L733 498M614 477L583 444"/>
<path d="M733 23L285 45L733 66M285 45L47 119L134 194L733 110M134 194L243 278M733 153L547 191L243 278L383 366L733 326M733 196L581 228L547 191M733 239L677 261L733 282M677 261L581 228M733 369L430 407L383 366M733 412L570 444L430 407M733 455L605 477L733 498M605 477L570 444"/>
<path d="M733 23L285 45L733 66M285 45L32 119L108 194L733 110M108 194L202 278M733 153L566 191L202 278L360 366L733 326M733 196L601 228L566 191M733 239L678 261L733 282M678 261L601 228M733 369L406 407L360 366M733 412L553 444L406 407M733 455L599 477L733 498M599 477L553 444"/>
<path d="M733 23L275 45L733 66M275 45L130 119L158 194L733 110M158 194L262 278M733 153L535 191L262 278L404 366L733 326M733 196L600 228L535 191M733 239L692 261L733 282M692 261L600 228M733 369L445 407L404 366M733 412L569 444L445 407M733 455L619 477L733 498M619 477L569 444"/>
<path d="M733 23L302 45L733 66M302 45L58 119L81 194L733 110M81 194L220 278M733 153L549 191L220 278L381 366L733 326M733 196L588 228L549 191M733 239L680 261L733 282M680 261L588 228M733 369L439 407L381 366M733 412L569 444L439 407M733 455L594 477L733 498M594 477L569 444"/>
<path d="M733 23L281 45L733 66M281 45L76 119L111 194L733 110M111 194L233 278M733 153L565 191L233 278L408 366L733 326M733 196L608 228L565 191M733 239L674 261L733 282M674 261L608 228M733 369L458 407L408 366M733 412L571 444L458 407M733 455L610 477L733 498M610 477L571 444"/>
<path d="M733 23L306 45L733 66M306 45L99 119L137 194L733 110M137 194L226 278M733 153L535 191L226 278L378 366L733 326M733 196L581 228L535 191M733 239L694 261L733 282M694 261L581 228M733 369L389 407L378 366M733 412L566 444L389 407M733 455L598 477L733 498M598 477L566 444"/>
<path d="M733 23L314 45L733 66M314 45L135 77L733 110M135 77L125 178L285 278M733 153L536 191L285 278L412 366L733 326M733 196L610 228L536 191M733 239L692 261L733 282M692 261L610 228M733 369L476 407L412 366M733 412L581 444L476 407M733 455L636 477L733 498M636 477L581 444"/>
<path d="M733 23L216 45L733 66M216 45L41 119L94 194L733 110M94 194L195 278M733 153L536 191L195 278L365 366L733 326M733 196L578 228L536 191M733 239L679 261L733 282M679 261L578 228M733 369L412 407L365 366M733 412L568 444L412 407M733 455L577 477L733 498M577 477L568 444"/>
<path d="M733 23L287 45L733 66M287 45L105 77L733 110M105 77L76 178L218 278M733 153L522 191L218 278L374 366L733 326M733 196L590 228L522 191M733 239L675 261L733 282M675 261L590 228M733 369L415 407L374 366M733 412L562 444L415 407M733 455L601 477L733 498M601 477L562 444"/>
<path d="M733 23L290 45L733 66M290 45L99 119L146 194L733 110M146 194L261 278M733 153L562 191L261 278L399 366L733 326M733 196L605 228L562 191M733 239L697 261L733 282M697 261L605 228M733 369L464 407L399 366M733 412L583 444L464 407M733 455L607 477L733 498M607 477L583 444"/>
<path d="M733 23L296 45L733 66M296 45L63 119L170 194L733 110M170 194L246 278M733 153L546 191L246 278L401 366L733 326M733 196L585 228L546 191M733 239L684 261L733 282M684 261L585 228M733 369L458 407L401 366M733 412L562 444L458 407M733 455L603 477L733 498M603 477L562 444"/>
<path d="M733 23L249 45L733 66M249 45L112 77L733 110M112 77L99 178L221 278M733 153L548 191L221 278L369 366L733 326M733 196L587 228L548 191M733 239L688 261L733 282M688 261L587 228M733 369L425 407L369 366M733 412L564 444L425 407M733 455L603 477L733 498M603 477L564 444"/>
<path d="M733 23L314 45L733 66M314 45L100 119L135 194L733 110M135 194L248 278M733 153L554 191L248 278L409 366L733 326M733 196L607 228L554 191M733 239L682 261L733 282M682 261L607 228M733 369L462 407L409 366M733 412L578 444L462 407M733 455L610 477L733 498M610 477L578 444"/>
<path d="M733 23L283 45L733 66M283 45L70 119L150 194L733 110M150 194L265 278M733 153L554 191L265 278L396 366L733 326M733 196L607 228L554 191M733 239L690 261L733 282M690 261L607 228M733 369L460 407L396 366M733 412L569 444L460 407M733 455L601 477L733 498M601 477L569 444"/>
<path d="M733 23L278 45L733 66M278 45L60 119L110 194L733 110M110 194L214 278M733 153L518 191L214 278L375 366L733 326M733 196L583 228L518 191M733 239L694 261L733 282M694 261L583 228M733 369L450 407L375 366M733 412L562 444L450 407M733 455L618 477L733 498M618 477L562 444"/>
<path d="M733 23L265 45L733 66M265 45L107 119L165 194L733 110M165 194L265 278M733 153L561 191L265 278L417 366L733 326M733 196L625 228L561 191M733 239L680 261L733 282M680 261L625 228M733 369L447 407L417 366M733 412L585 444L447 407M733 455L603 477L733 498M603 477L585 444"/>
<path d="M733 23L288 45L733 66M288 45L138 77L733 110M138 77L91 178L251 278M733 153L569 191L251 278L404 366L733 326M733 196L595 228L569 191M733 239L687 261L733 282M687 261L595 228M733 369L451 407L404 366M733 412L563 444L451 407M733 455L610 477L733 498M610 477L563 444"/>
<path d="M733 23L330 45L733 66M330 45L47 119L95 194L733 110M95 194L214 278M733 153L538 191L214 278L370 366L733 326M733 196L595 228L538 191M733 239L686 261L733 282M686 261L595 228M733 369L430 407L370 366M733 412L575 444L430 407M733 455L600 477L733 498M600 477L575 444"/>
<path d="M733 23L271 45L733 66M271 45L25 119L70 194L733 110M70 194L237 278M733 153L531 191L237 278L394 366L733 326M733 196L588 228L531 191M733 239L690 261L733 282M690 261L588 228M733 369L435 407L394 366M733 412L556 444L435 407M733 455L616 477L733 498M616 477L556 444"/>
<path d="M733 23L288 45L733 66M288 45L81 119L136 194L733 110M136 194L226 278M733 153L544 191L226 278L368 366L733 326M733 196L600 228L544 191M733 239L678 261L733 282M678 261L600 228M733 369L441 407L368 366M733 412L570 444L441 407M733 455L588 477L733 498M588 477L570 444"/>
<path d="M733 23L318 45L733 66M318 45L124 119L169 194L733 110M169 194L271 278M733 153L583 191L271 278L411 366L733 326M733 196L602 228L583 191M733 239L686 261L733 282M686 261L602 228M733 369L460 407L411 366M733 412L584 444L460 407M733 455L623 477L733 498M623 477L584 444"/>
<path d="M733 23L229 45L733 66M229 45L67 77L733 110M67 77L34 178L171 278M733 153L525 191L171 278L374 366L733 326M733 196L581 228L525 191M733 239L683 261L733 282M683 261L581 228M733 369L411 407L374 366M733 412L559 444L411 407M733 455L584 477L733 498M584 477L559 444"/>
<path d="M733 23L305 45L733 66M305 45L67 119L113 194L733 110M113 194L215 278M733 153L548 191L215 278L380 366L733 326M733 196L586 228L548 191M733 239L684 261L733 282M684 261L586 228M733 369L430 407L380 366M733 412L577 444L430 407M733 455L599 477L733 498M599 477L577 444"/>
<path d="M733 23L301 45L733 66M301 45L127 77L733 110M127 77L112 178L255 278M733 153L561 191L255 278L414 366L733 326M733 196L612 228L561 191M733 239L690 261L733 282M690 261L612 228M733 369L461 407L414 366M733 412L576 444L461 407M733 455L618 477L733 498M618 477L576 444"/>
<path d="M733 23L233 45L733 66M233 45L85 119L114 194L733 110M114 194L236 278M733 153L540 191L236 278L383 366L733 326M733 196L585 228L540 191M733 239L679 261L733 282M679 261L585 228M733 369L458 407L383 366M733 412L576 444L458 407M733 455L619 477L733 498M619 477L576 444"/>
<path d="M733 23L290 45L733 66M290 45L54 119L174 194L733 110M174 194L272 278M733 153L553 191L272 278L398 366L733 326M733 196L606 228L553 191M733 239L695 261L733 282M695 261L606 228M733 369L424 407L398 366M733 412L569 444L424 407M733 455L588 477L733 498M588 477L569 444"/>
<path d="M733 23L278 45L733 66M278 45L86 119L110 194L733 110M110 194L217 278M733 153L549 191L217 278L377 366L733 326M733 196L577 228L549 191M733 239L676 261L733 282M676 261L577 228M733 369L424 407L377 366M733 412L544 444L424 407M733 455L605 477L733 498M605 477L544 444"/>
<path d="M733 23L289 45L733 66M289 45L102 77L733 110M102 77L84 178L241 278M733 153L539 191L241 278L392 366L733 326M733 196L600 228L539 191M733 239L694 261L733 282M694 261L600 228M733 369L466 407L392 366M733 412L578 444L466 407M733 455L617 477L733 498M617 477L578 444"/>
<path d="M733 23L298 45L733 66M298 45L73 119L141 194L733 110M141 194L224 278M733 153L542 191L224 278L381 366L733 326M733 196L590 228L542 191M733 239L677 261L733 282M677 261L590 228M733 369L408 407L381 366M733 412L567 444L408 407M733 455L597 477L733 498M597 477L567 444"/>
<path d="M733 23L230 45L733 66M230 45L79 77L733 110M79 77L43 178L199 278M733 153L523 191L199 278L373 366L733 326M733 196L582 228L523 191M733 239L679 261L733 282M679 261L582 228M733 369L407 407L373 366M733 412L583 444L407 407M733 455L598 477L733 498M598 477L583 444"/>
<path d="M733 23L311 45L733 66M311 45L43 119L176 194L733 110M176 194L265 278M733 153L560 191L265 278L402 366L733 326M733 196L609 228L560 191M733 239L692 261L733 282M692 261L609 228M733 369L482 407L402 366M733 412L576 444L482 407M733 455L612 477L733 498M612 477L576 444"/>
<path d="M733 23L345 45L733 66M345 45L73 119L161 194L733 110M161 194L269 278M733 153L566 191L269 278L400 366L733 326M733 196L588 228L566 191M733 239L698 261L733 282M698 261L588 228M733 369L449 407L400 366M733 412L582 444L449 407M733 455L623 477L733 498M623 477L582 444"/>
<path d="M733 23L309 45L733 66M309 45L112 119L137 194L733 110M137 194L229 278M733 153L540 191L229 278L395 366L733 326M733 196L597 228L540 191M733 239L680 261L733 282M680 261L597 228M733 369L460 407L395 366M733 412L574 444L460 407M733 455L608 477L733 498M608 477L574 444"/>
<path d="M733 23L272 45L733 66M272 45L141 162L242 278M141 162L101 136L733 110M733 153L553 191L242 278L402 366L733 326M733 196L602 228L553 191M733 239L693 261L733 282M693 261L602 228M733 369L436 407L402 366M733 412L570 444L436 407M733 455L605 477L733 498M605 477L570 444"/>
<path d="M733 23L301 45L733 66M301 45L76 119L213 194L733 110M213 194L315 278M733 153L586 191L315 278L440 366L733 326M733 196L608 228L586 191M733 239L699 261L733 282M699 261L608 228M733 369L488 407L440 366M733 412L611 444L488 407M733 455L651 477L733 498M651 477L611 444"/>
<path d="M733 23L251 45L733 66M251 45L75 119L137 194L733 110M137 194L213 278M733 153L548 191L213 278L357 366L733 326M733 196L572 228L548 191M733 239L669 261L733 282M669 261L572 228M733 369L410 407L357 366M733 412L553 444L410 407M733 455L598 477L733 498M598 477L553 444"/>
<path d="M733 23L343 45L733 66M343 45L42 119L140 194L733 110M140 194L265 278M733 153L558 191L265 278L414 366L733 326M733 196L619 228L558 191M733 239L703 261L733 282M703 261L619 228M733 369L473 407L414 366M733 412L589 444L473 407M733 455L609 477L733 498M609 477L589 444"/>
<path d="M733 23L223 45L733 66M223 45L112 77L733 110M112 77L105 178L227 278M733 153L548 191L227 278L378 366L733 326M733 196L591 228L548 191M733 239L683 261L733 282M683 261L591 228M733 369L442 407L378 366M733 412L572 444L442 407M733 455L596 477L733 498M596 477L572 444"/>
<path d="M733 23L266 45L733 66M266 45L83 119L104 194L733 110M104 194L206 278M733 153L519 191L206 278L373 366L733 326M733 196L601 228L519 191M733 239L690 261L733 282M690 261L601 228M733 369L409 407L373 366M733 412L554 444L409 407M733 455L598 477L733 498M598 477L554 444"/>
<path d="M733 23L257 45L733 66M257 45L47 119L142 194L733 110M142 194L243 278M733 153L562 191L243 278L389 366L733 326M733 196L596 228L562 191M733 239L676 261L733 282M676 261L596 228M733 369L458 407L389 366M733 412L581 444L458 407M733 455L610 477L733 498M610 477L581 444"/>
<path d="M733 23L296 45L733 66M296 45L71 119L124 194L733 110M124 194L248 278M733 153L577 191L248 278L401 366L733 326M733 196L604 228L577 191M733 239L688 261L733 282M688 261L604 228M733 369L443 407L401 366M733 412L571 444L443 407M733 455L620 477L733 498M620 477L571 444"/>
<path d="M733 23L335 45L733 66M335 45L120 77L733 110M120 77L94 178L246 278M733 153L531 191L246 278L382 366L733 326M733 196L582 228L531 191M733 239L682 261L733 282M682 261L582 228M733 369L446 407L382 366M733 412L570 444L446 407M733 455L584 477L733 498M584 477L570 444"/>
<path d="M733 23L324 45L733 66M324 45L150 77L733 110M150 77L127 178L277 278M733 153L561 191L277 278L410 366L733 326M733 196L606 228L561 191M733 239L685 261L733 282M685 261L606 228M733 369L450 407L410 366M733 412L585 444L450 407M733 455L605 477L733 498M605 477L585 444"/>
<path d="M733 23L328 45L733 66M328 45L53 119L167 194L733 110M167 194L266 278M733 153L551 191L266 278L402 366L733 326M733 196L611 228L551 191M733 239L688 261L733 282M688 261L611 228M733 369L466 407L402 366M733 412L589 444L466 407M733 455L618 477L733 498M618 477L589 444"/>
<path d="M733 23L261 45L733 66M261 45L72 119L116 194L733 110M116 194L194 278M733 153L542 191L194 278L381 366L733 326M733 196L570 228L542 191M733 239L686 261L733 282M686 261L570 228M733 369L427 407L381 366M733 412L551 444L427 407M733 455L597 477L733 498M597 477L551 444"/>
<path d="M733 23L316 45L733 66M316 45L93 77L733 110M93 77L87 178L233 278M733 153L556 191L233 278L380 366L733 326M733 196L601 228L556 191M733 239L687 261L733 282M687 261L601 228M733 369L420 407L380 366M733 412L580 444L420 407M733 455L616 477L733 498M616 477L580 444"/>
<path d="M733 23L275 45L733 66M275 45L78 119L193 194L733 110M193 194L289 278M733 153L558 191L289 278L434 366L733 326M733 196L622 228L558 191M733 239L685 261L733 282M685 261L622 228M733 369L475 407L434 366M733 412L599 444L475 407M733 455L629 477L733 498M629 477L599 444"/>
<path d="M733 23L246 45L733 66M246 45L93 119L131 194L733 110M131 194L206 278M733 153L510 191L206 278L361 366L733 326M733 196L594 228L510 191M733 239L684 261L733 282M684 261L594 228M733 369L415 407L361 366M733 412L547 444L415 407M733 455L593 477L733 498M593 477L547 444"/>
<path d="M733 23L334 45L733 66M334 45L87 119L147 194L733 110M147 194L263 278M733 153L570 191L263 278L431 366L733 326M733 196L601 228L570 191M733 239L689 261L733 282M689 261L601 228M733 369L464 407L431 366M733 412L604 444L464 407M733 455L619 477L733 498M619 477L604 444"/>
<path d="M733 23L302 45L733 66M302 45L116 77L733 110M116 77L94 178L242 278M733 153L567 191L242 278L402 366L733 326M733 196L601 228L567 191M733 239L684 261L733 282M684 261L601 228M733 369L467 407L402 366M733 412L573 444L467 407M733 455L624 477L733 498M624 477L573 444"/>
<path d="M733 23L249 45L733 66M249 45L81 119L128 194L733 110M128 194L245 278M733 153L537 191L245 278L378 366L733 326M733 196L587 228L537 191M733 239L689 261L733 282M689 261L587 228M733 369L426 407L378 366M733 412L570 444L426 407M733 455L586 477L733 498M586 477L570 444"/>
<path d="M733 23L281 45L733 66M281 45L146 162L200 278M146 162L134 136L733 110M733 153L533 191L200 278L393 366L733 326M733 196L587 228L533 191M733 239L689 261L733 282M689 261L587 228M733 369L420 407L393 366M733 412L573 444L420 407M733 455L597 477L733 498M597 477L573 444"/>
<path d="M733 23L286 45L733 66M286 45L101 119L129 194L733 110M129 194L265 278M733 153L569 191L265 278L407 366L733 326M733 196L602 228L569 191M733 239L681 261L733 282M681 261L602 228M733 369L468 407L407 366M733 412L578 444L468 407M733 455L617 477L733 498M617 477L578 444"/>
<path d="M733 23L288 45L733 66M288 45L119 119L147 194L733 110M147 194L279 278M733 153L558 191L279 278L397 366L733 326M733 196L626 228L558 191M733 239L687 261L733 282M687 261L626 228M733 369L443 407L397 366M733 412L581 444L443 407M733 455L626 477L733 498M626 477L581 444"/>
<path d="M733 23L299 45L733 66M299 45L52 119L130 194L733 110M130 194L217 278M733 153L528 191L217 278L382 366L733 326M733 196L583 228L528 191M733 239L684 261L733 282M684 261L583 228M733 369L439 407L382 366M733 412L561 444L439 407M733 455L574 477L733 498M574 477L561 444"/>
<path d="M733 23L225 45L733 66M225 45L65 119L92 194L733 110M92 194L219 278M733 153L539 191L219 278L375 366L733 326M733 196L591 228L539 191M733 239L686 261L733 282M686 261L591 228M733 369L448 407L375 366M733 412L548 444L448 407M733 455L603 477L733 498M603 477L548 444"/>
<path d="M733 23L314 45L733 66M314 45L120 119L168 194L733 110M168 194L266 278M733 153L536 191L266 278L400 366L733 326M733 196L590 228L536 191M733 239L687 261L733 282M687 261L590 228M733 369L454 407L400 366M733 412L593 444L454 407M733 455L611 477L733 498M611 477L593 444"/>
<path d="M733 23L355 45L733 66M355 45L92 119L181 194L733 110M181 194L235 278M733 153L552 191L235 278L406 366L733 326M733 196L607 228L552 191M733 239L686 261L733 282M686 261L607 228M733 369L461 407L406 366M733 412L581 444L461 407M733 455L619 477L733 498M619 477L581 444"/>
<path d="M733 23L273 45L733 66M273 45L47 119L104 194L733 110M104 194L227 278M733 153L556 191L227 278L390 366L733 326M733 196L589 228L556 191M733 239L687 261L733 282M687 261L589 228M733 369L423 407L390 366M733 412L569 444L423 407M733 455L594 477L733 498M594 477L569 444"/>
<path d="M733 23L307 45L733 66M307 45L38 119L111 194L733 110M111 194L246 278M733 153L554 191L246 278L389 366L733 326M733 196L605 228L554 191M733 239L686 261L733 282M686 261L605 228M733 369L433 407L389 366M733 412L569 444L433 407M733 455L627 477L733 498M627 477L569 444"/>
<path d="M733 23L274 45L733 66M274 45L94 119L174 194L733 110M174 194L239 278M733 153L536 191L239 278L406 366L733 326M733 196L586 228L536 191M733 239L686 261L733 282M686 261L586 228M733 369L463 407L406 366M733 412L579 444L463 407M733 455L596 477L733 498M596 477L579 444"/>
<path d="M733 23L265 45L733 66M265 45L103 77L733 110M103 77L66 178L203 278M733 153L555 191L203 278L355 366L733 326M733 196L580 228L555 191M733 239L690 261L733 282M690 261L580 228M733 369L412 407L355 366M733 412L563 444L412 407M733 455L587 477L733 498M587 477L563 444"/>
<path d="M733 23L244 45L733 66M244 45L50 119L98 194L733 110M98 194L184 278M733 153L525 191L184 278L346 366L733 326M733 196L579 228L525 191M733 239L680 261L733 282M680 261L579 228M733 369L413 407L346 366M733 412L552 444L413 407M733 455L592 477L733 498M592 477L552 444"/>
<path d="M733 23L341 45L733 66M341 45L128 77L733 110M128 77L111 178L268 278M733 153L573 191L268 278L417 366L733 326M733 196L601 228L573 191M733 239L689 261L733 282M689 261L601 228M733 369L461 407L417 366M733 412L579 444L461 407M733 455L614 477L733 498M614 477L579 444"/>
<path d="M733 23L291 45L733 66M291 45L81 119L85 194L733 110M85 194L257 278M733 153L552 191L257 278L402 366L733 326M733 196L610 228L552 191M733 239L680 261L733 282M680 261L610 228M733 369L457 407L402 366M733 412L590 444L457 407M733 455L615 477L733 498M615 477L590 444"/>
<path d="M733 23L225 45L733 66M225 45L44 119L143 194L733 110M143 194L217 278M733 153L533 191L217 278L380 366L733 326M733 196L583 228L533 191M733 239L690 261L733 282M690 261L583 228M733 369L412 407L380 366M733 412L557 444L412 407M733 455L591 477L733 498M591 477L557 444"/>
<path d="M733 23L271 45L733 66M271 45L62 119L126 194L733 110M126 194L206 278M733 153L537 191L206 278L371 366L733 326M733 196L582 228L537 191M733 239L678 261L733 282M678 261L582 228M733 369L423 407L371 366M733 412L564 444L423 407M733 455L600 477L733 498M600 477L564 444"/>
<path d="M733 23L270 45L733 66M270 45L117 77L733 110M117 77L92 178L268 278M733 153L549 191L268 278L400 366L733 326M733 196L607 228L549 191M733 239L692 261L733 282M692 261L607 228M733 369L452 407L400 366M733 412L580 444L452 407M733 455L605 477L733 498M605 477L580 444"/>
<path d="M733 23L293 45L733 66M293 45L91 119L144 194L733 110M144 194L259 278M733 153L554 191L259 278L399 366L733 326M733 196L594 228L554 191M733 239L695 261L733 282M695 261L594 228M733 369L476 407L399 366M733 412L587 444L476 407M733 455L619 477L733 498M619 477L587 444"/>
<path d="M733 23L312 45L733 66M312 45L46 119L122 194L733 110M122 194L202 278M733 153L548 191L202 278L391 366L733 326M733 196L601 228L548 191M733 239L675 261L733 282M675 261L601 228M733 369L412 407L391 366M733 412L538 444L412 407M733 455L593 477L733 498M593 477L538 444"/>
<path d="M733 23L324 45L733 66M324 45L102 119L165 194L733 110M165 194L261 278M733 153L583 191L261 278L415 366L733 326M733 196L616 228L583 191M733 239L692 261L733 282M692 261L616 228M733 369L477 407L415 366M733 412L590 444L477 407M733 455L618 477L733 498M618 477L590 444"/>
<path d="M733 23L341 45L733 66M341 45L132 119L209 194L733 110M209 194L264 278M733 153L571 191L264 278L396 366L733 326M733 196L607 228L571 191M733 239L706 261L733 282M706 261L607 228M733 369L469 407L396 366M733 412L578 444L469 407M733 455L638 477L733 498M638 477L578 444"/>
<path d="M733 23L268 45L733 66M268 45L93 77L733 110M93 77L89 178L240 278M733 153L526 191L240 278L390 366L733 326M733 196L595 228L526 191M733 239L673 261L733 282M673 261L595 228M733 369L439 407L390 366M733 412L581 444L439 407M733 455L587 477L733 498M587 477L581 444"/>
<path d="M733 23L320 45L733 66M320 45L68 119L110 194L733 110M110 194L232 278M733 153L539 191L232 278L381 366L733 326M733 196L583 228L539 191M733 239L679 261L733 282M679 261L583 228M733 369L449 407L381 366M733 412L562 444L449 407M733 455L607 477L733 498M607 477L562 444"/>
<path d="M733 23L282 45L733 66M282 45L104 119L168 194L733 110M168 194L227 278M733 153L565 191L227 278L395 366L733 326M733 196L606 228L565 191M733 239L691 261L733 282M691 261L606 228M733 369L418 407L395 366M733 412L584 444L418 407M733 455L601 477L733 498M601 477L584 444"/>
<path d="M733 23L255 45L733 66M255 45L148 77L733 110M148 77L129 178L272 278M733 153L571 191L272 278L435 366L733 326M733 196L611 228L571 191M733 239L696 261L733 282M696 261L611 228M733 369L481 407L435 366M733 412L587 444L481 407M733 455L633 477L733 498M633 477L587 444"/>
<path d="M733 23L254 45L733 66M254 45L30 119L81 194L733 110M81 194L214 278M733 153L509 191L214 278L356 366L733 326M733 196L584 228L509 191M733 239L674 261L733 282M674 261L584 228M733 369L407 407L356 366M733 412L554 444L407 407M733 455L581 477L733 498M581 477L554 444"/>
<path d="M733 23L233 45L733 66M233 45L93 77L733 110M93 77L67 178L191 278M733 153L526 191L191 278L356 366L733 326M733 196L573 228L526 191M733 239L670 261L733 282M670 261L573 228M733 369L401 407L356 366M733 412L557 444L401 407M733 455L600 477L733 498M600 477L557 444"/>
<path d="M733 23L329 45L733 66M329 45L108 119L160 194L733 110M160 194L283 278M733 153L554 191L283 278L424 366L733 326M733 196L610 228L554 191M733 239L701 261L733 282M701 261L610 228M733 369L470 407L424 366M733 412L576 444L470 407M733 455L604 477L733 498M604 477L576 444"/>
<path d="M733 23L253 45L733 66M253 45L59 119L141 194L733 110M141 194L210 278M733 153L552 191L210 278L374 366L733 326M733 196L603 228L552 191M733 239L683 261L733 282M683 261L603 228M733 369L450 407L374 366M733 412L568 444L450 407M733 455L601 477L733 498M601 477L568 444"/>
<path d="M733 23L294 45L733 66M294 45L92 77L733 110M92 77L75 178L232 278M733 153L558 191L232 278L385 366L733 326M733 196L601 228L558 191M733 239L675 261L733 282M675 261L601 228M733 369L418 407L385 366M733 412L574 444L418 407M733 455L610 477L733 498M610 477L574 444"/>
<path d="M733 23L250 45L733 66M250 45L57 119L150 194L733 110M150 194L250 278M733 153L543 191L250 278L404 366L733 326M733 196L570 228L543 191M733 239L698 261L733 282M698 261L570 228M733 369L445 407L404 366M733 412L566 444L445 407M733 455L597 477L733 498M597 477L566 444"/>
<path d="M733 23L289 45L733 66M289 45L32 119L167 194L733 110M167 194L264 278M733 153L551 191L264 278L414 366L733 326M733 196L610 228L551 191M733 239L691 261L733 282M691 261L610 228M733 369L460 407L414 366M733 412L591 444L460 407M733 455L626 477L733 498M626 477L591 444"/>
<path d="M733 23L286 45L733 66M286 45L76 119L106 194L733 110M106 194L199 278M733 153L538 191L199 278L362 366L733 326M733 196L584 228L538 191M733 239L680 261L733 282M680 261L584 228M733 369L427 407L362 366M733 412L548 444L427 407M733 455L586 477L733 498M586 477L548 444"/>
<path d="M733 23L215 45L733 66M215 45L71 119L104 194L733 110M104 194L207 278M733 153L514 191L207 278L350 366L733 326M733 196L585 228L514 191M733 239L673 261L733 282M673 261L585 228M733 369L417 407L350 366M733 412L552 444L417 407M733 455L604 477L733 498M604 477L552 444"/>
<path d="M733 23L310 45L733 66M310 45L68 119L153 194L733 110M153 194L244 278M733 153L570 191L244 278L421 366L733 326M733 196L604 228L570 191M733 239L697 261L733 282M697 261L604 228M733 369L462 407L421 366M733 412L587 444L462 407M733 455L597 477L733 498M597 477L587 444"/>
<path d="M733 23L313 45L733 66M313 45L88 77L733 110M88 77L49 178L228 278M733 153L565 191L228 278L394 366L733 326M733 196L610 228L565 191M733 239L687 261L733 282M687 261L610 228M733 369L450 407L394 366M733 412L562 444L450 407M733 455L605 477L733 498M605 477L562 444"/>
<path d="M733 23L283 45L733 66M283 45L108 119L181 194L733 110M181 194L254 278M733 153L547 191L254 278L395 366L733 326M733 196L592 228L547 191M733 239L684 261L733 282M684 261L592 228M733 369L437 407L395 366M733 412L587 444L437 407M733 455L608 477L733 498M608 477L587 444"/>
<path d="M733 23L310 45L733 66M310 45L123 119L160 194L733 110M160 194L242 278M733 153L526 191L242 278L401 366L733 326M733 196L596 228L526 191M733 239L684 261L733 282M684 261L596 228M733 369L434 407L401 366M733 412L564 444L434 407M733 455L613 477L733 498M613 477L564 444"/>
<path d="M733 23L284 45L733 66M284 45L49 119L142 194L733 110M142 194L260 278M733 153L577 191L260 278L405 366L733 326M733 196L618 228L577 191M733 239L699 261L733 282M699 261L618 228M733 369L449 407L405 366M733 412L578 444L449 407M733 455L622 477L733 498M622 477L578 444"/>
<path d="M733 23L295 45L733 66M295 45L116 77L733 110M116 77L75 178L236 278M733 153L537 191L236 278L386 366L733 326M733 196L584 228L537 191M733 239L677 261L733 282M677 261L584 228M733 369L456 407L386 366M733 412L570 444L456 407M733 455L598 477L733 498M598 477L570 444"/>
<path d="M733 23L274 45L733 66M274 45L73 119L115 194L733 110M115 194L218 278M733 153L551 191L218 278L385 366L733 326M733 196L599 228L551 191M733 239L679 261L733 282M679 261L599 228M733 369L440 407L385 366M733 412L576 444L440 407M733 455L600 477L733 498M600 477L576 444"/>
<path d="M733 23L341 45L733 66M341 45L89 162L258 278M89 162L77 136L733 110M733 153L547 191L258 278L384 366L733 326M733 196L585 228L547 191M733 239L690 261L733 282M690 261L585 228M733 369L430 407L384 366M733 412L560 444L430 407M733 455L606 477L733 498M606 477L560 444"/>
<path d="M733 23L301 45L733 66M301 45L77 119L165 194L733 110M165 194L254 278M733 153L544 191L254 278L402 366L733 326M733 196L607 228L544 191M733 239L693 261L733 282M693 261L607 228M733 369L458 407L402 366M733 412L583 444L458 407M733 455L643 477L733 498M643 477L583 444"/>
<path d="M733 23L280 45L733 66M280 45L79 119L96 194L733 110M96 194L215 278M733 153L532 191L215 278L378 366L733 326M733 196L579 228L532 191M733 239L689 261L733 282M689 261L579 228M733 369L454 407L378 366M733 412L583 444L454 407M733 455L619 477L733 498M619 477L583 444"/>
<path d="M733 23L206 45L733 66M206 45L122 77L733 110M122 77L96 178L237 278M733 153L546 191L237 278L388 366L733 326M733 196L601 228L546 191M733 239L681 261L733 282M681 261L601 228M733 369L427 407L388 366M733 412L560 444L427 407M733 455L588 477L733 498M588 477L560 444"/>
<path d="M733 23L295 45L733 66M295 45L83 119L166 194L733 110M166 194L266 278M733 153L566 191L266 278L424 366L733 326M733 196L601 228L566 191M733 239L685 261L733 282M685 261L601 228M733 369L458 407L424 366M733 412L584 444L458 407M733 455L616 477L733 498M616 477L584 444"/>
<path d="M733 23L238 45L733 66M238 45L102 119L108 194L733 110M108 194L220 278M733 153L548 191L220 278L366 366L733 326M733 196L581 228L548 191M733 239L682 261L733 282M682 261L581 228M733 369L415 407L366 366M733 412L539 444L415 407M733 455L599 477L733 498M599 477L539 444"/>
<path d="M733 23L324 45L733 66M324 45L71 119L154 194L733 110M154 194L266 278M733 153L559 191L266 278L429 366L733 326M733 196L612 228L559 191M733 239L690 261L733 282M690 261L612 228M733 369L476 407L429 366M733 412L597 444L476 407M733 455L617 477L733 498M617 477L597 444"/>
<path d="M733 23L300 45L733 66M300 45L28 119L109 194L733 110M109 194L223 278M733 153L516 191L223 278L394 366L733 326M733 196L587 228L516 191M733 239L677 261L733 282M677 261L587 228M733 369L419 407L394 366M733 412L568 444L419 407M733 455L611 477L733 498M611 477L568 444"/>
<path d="M733 23L277 45L733 66M277 45L128 77L733 110M128 77L110 178L251 278M733 153L559 191L251 278L382 366L733 326M733 196L617 228L559 191M733 239L695 261L733 282M695 261L617 228M733 369L464 407L382 366M733 412L583 444L464 407M733 455L601 477L733 498M601 477L583 444"/>
<path d="M733 23L324 45L733 66M324 45L79 119L185 194L733 110M185 194L250 278M733 153L574 191L250 278L389 366L733 326M733 196L589 228L574 191M733 239L692 261L733 282M692 261L589 228M733 369L442 407L389 366M733 412L569 444L442 407M733 455L605 477L733 498M605 477L569 444"/>
<path d="M733 23L286 45L733 66M286 45L50 119L115 194L733 110M115 194L238 278M733 153L546 191L238 278L389 366L733 326M733 196L599 228L546 191M733 239L681 261L733 282M681 261L599 228M733 369L446 407L389 366M733 412L578 444L446 407M733 455L608 477L733 498M608 477L578 444"/>
<path d="M733 23L269 45L733 66M269 45L129 162L247 278M129 162L122 136L733 110M733 153L544 191L247 278L405 366L733 326M733 196L595 228L544 191M733 239L687 261L733 282M687 261L595 228M733 369L469 407L405 366M733 412L569 444L469 407M733 455L630 477L733 498M630 477L569 444"/>
<path d="M733 23L282 45L733 66M282 45L91 119L120 194L733 110M120 194L222 278M733 153L547 191L222 278L392 366L733 326M733 196L601 228L547 191M733 239L686 261L733 282M686 261L601 228M733 369L415 407L392 366M733 412L571 444L415 407M733 455L581 477L733 498M581 477L571 444"/>
<path d="M733 23L320 45L733 66M320 45L70 119L150 194L733 110M150 194L249 278M733 153L554 191L249 278L397 366L733 326M733 196L608 228L554 191M733 239L675 261L733 282M675 261L608 228M733 369L479 407L397 366M733 412L572 444L479 407M733 455L602 477L733 498M602 477L572 444"/>
<path d="M733 23L313 45L733 66M313 45L43 119L175 194L733 110M175 194L268 278M733 153L569 191L268 278L397 366L733 326M733 196L602 228L569 191M733 239L689 261L733 282M689 261L602 228M733 369L450 407L397 366M733 412L592 444L450 407M733 455L618 477L733 498M618 477L592 444"/>
<path d="M733 23L295 45L733 66M295 45L45 119L121 194L733 110M121 194L243 278M733 153L542 191L243 278L389 366L733 326M733 196L593 228L542 191M733 239L688 261L733 282M688 261L593 228M733 369L454 407L389 366M733 412L566 444L454 407M733 455L615 477L733 498M615 477L566 444"/>
<path d="M733 23L261 45L733 66M261 45L78 119L137 194L733 110M137 194L224 278M733 153L573 191L224 278L402 366L733 326M733 196L600 228L573 191M733 239L684 261L733 282M684 261L600 228M733 369L422 407L402 366M733 412L574 444L422 407M733 455L598 477L733 498M598 477L574 444"/>
<path d="M733 23L288 45L733 66M288 45L151 77L733 110M151 77L144 178L260 278M733 153L566 191L260 278L416 366L733 326M733 196L591 228L566 191M733 239L684 261L733 282M684 261L591 228M733 369L468 407L416 366M733 412L575 444L468 407M733 455L621 477L733 498M621 477L575 444"/>
<path d="M733 23L287 45L733 66M287 45L61 119L88 194L733 110M88 194L223 278M733 153L523 191L223 278L360 366L733 326M733 196L594 228L523 191M733 239L689 261L733 282M689 261L594 228M733 369L420 407L360 366M733 412L579 444L420 407M733 455L591 477L733 498M591 477L579 444"/>
<path d="M733 23L203 45L733 66M203 45L123 77L733 110M123 77L78 178L196 278M733 153L534 191L196 278L356 366L733 326M733 196L575 228L534 191M733 239L680 261L733 282M680 261L575 228M733 369L410 407L356 366M733 412L560 444L410 407M733 455L594 477L733 498M594 477L560 444"/>
<path d="M733 23L316 45L733 66M316 45L92 119L124 194L733 110M124 194L232 278M733 153L543 191L232 278L404 366L733 326M733 196L590 228L543 191M733 239L669 261L733 282M669 261L590 228M733 369L428 407L404 366M733 412L577 444L428 407M733 455L614 477L733 498M614 477L577 444"/>
<path d="M733 23L290 45L733 66M290 45L48 119L154 194L733 110M154 194L241 278M733 153L568 191L241 278L397 366L733 326M733 196L604 228L568 191M733 239L699 261L733 282M699 261L604 228M733 369L469 407L397 366M733 412L563 444L469 407M733 455L592 477L733 498M592 477L563 444"/>
<path d="M733 23L309 45L733 66M309 45L53 119L141 194L733 110M141 194L227 278M733 153L547 191L227 278L395 366L733 326M733 196L584 228L547 191M733 239L690 261L733 282M690 261L584 228M733 369L440 407L395 366M733 412L577 444L440 407M733 455L608 477L733 498M608 477L577 444"/>
<path d="M733 23L284 45L733 66M284 45L115 77L733 110M115 77L78 178L268 278M733 153L540 191L268 278L400 366L733 326M733 196L611 228L540 191M733 239L683 261L733 282M683 261L611 228M733 369L444 407L400 366M733 412L567 444L444 407M733 455L607 477L733 498M607 477L567 444"/>
<path d="M733 23L279 45L733 66M279 45L113 119L121 194L733 110M121 194L258 278M733 153L556 191L258 278L395 366L733 326M733 196L599 228L556 191M733 239L686 261L733 282M686 261L599 228M733 369L483 407L395 366M733 412L585 444L483 407M733 455L623 477L733 498M623 477L585 444"/>
<path d="M733 23L290 45L733 66M290 45L69 119L141 194L733 110M141 194L212 278M733 153L551 191L212 278L386 366L733 326M733 196L592 228L551 191M733 239L688 261L733 282M688 261L592 228M733 369L421 407L386 366M733 412L565 444L421 407M733 455L591 477L733 498M591 477L565 444"/>
<path d="M733 23L269 45L733 66M269 45L54 119L100 194L733 110M100 194L225 278M733 153L533 191L225 278L378 366L733 326M733 196L588 228L533 191M733 239L691 261L733 282M691 261L588 228M733 369L413 407L378 366M733 412L557 444L413 407M733 455L617 477L733 498M617 477L557 444"/>
<path d="M733 23L334 45L733 66M334 45L118 119L165 194L733 110M165 194L219 278M733 153L563 191L219 278L388 366L733 326M733 196L602 228L563 191M733 239L677 261L733 282M677 261L602 228M733 369L454 407L388 366M733 412L586 444L454 407M733 455L595 477L733 498M595 477L586 444"/>
<path d="M733 23L300 45L733 66M300 45L92 119L150 194L733 110M150 194L247 278M733 153L558 191L247 278L396 366L733 326M733 196L588 228L558 191M733 239L686 261L733 282M686 261L588 228M733 369L448 407L396 366M733 412L573 444L448 407M733 455L611 477L733 498M611 477L573 444"/>
<path d="M733 23L235 45L733 66M235 45L103 77L733 110M103 77L85 178L229 278M733 153L514 191L229 278L388 366L733 326M733 196L597 228L514 191M733 239L683 261L733 282M683 261L597 228M733 369L430 407L388 366M733 412L563 444L430 407M733 455L594 477L733 498M594 477L563 444"/>
<path d="M733 23L283 45L733 66M283 45L62 119L114 194L733 110M114 194L256 278M733 153L549 191L256 278L368 366L733 326M733 196L597 228L549 191M733 239L676 261L733 282M676 261L597 228M733 369L427 407L368 366M733 412L556 444L427 407M733 455L604 477L733 498M604 477L556 444"/>
<path d="M733 23L292 45L733 66M292 45L99 119L186 194L733 110M186 194L246 278M733 153L550 191L246 278L417 366L733 326M733 196L610 228L550 191M733 239L691 261L733 282M691 261L610 228M733 369L454 407L417 366M733 412L581 444L454 407M733 455L630 477L733 498M630 477L581 444"/>
<path d="M733 23L296 45L733 66M296 45L125 162L212 278M125 162L104 136L733 110M733 153L551 191L212 278L369 366L733 326M733 196L568 228L551 191M733 239L680 261L733 282M680 261L568 228M733 369L422 407L369 366M733 412L564 444L422 407M733 455L581 477L733 498M581 477L564 444"/>
<path d="M733 23L232 45L733 66M232 45L38 119L121 194L733 110M121 194L174 278M733 153L530 191L174 278L364 366L733 326M733 196L604 228L530 191M733 239L675 261L733 282M675 261L604 228M733 369L426 407L364 366M733 412L569 444L426 407M733 455L600 477L733 498M600 477L569 444"/>
<path d="M733 23L325 45L733 66M325 45L96 119L144 194L733 110M144 194L282 278M733 153L577 191L282 278L437 366L733 326M733 196L605 228L577 191M733 239L698 261L733 282M698 261L605 228M733 369L471 407L437 366M733 412L584 444L471 407M733 455L612 477L733 498M612 477L584 444"/>
<path d="M733 23L305 45L733 66M305 45L98 119L123 194L733 110M123 194L244 278M733 153L546 191L244 278L391 366L733 326M733 196L596 228L546 191M733 239L688 261L733 282M688 261L596 228M733 369L450 407L391 366M733 412L571 444L450 407M733 455L610 477L733 498M610 477L571 444"/>
<path d="M733 23L289 45L733 66M289 45L78 119L171 194L733 110M171 194L260 278M733 153L548 191L260 278L402 366L733 326M733 196L601 228L548 191M733 239L686 261L733 282M686 261L601 228M733 369L435 407L402 366M733 412L580 444L435 407M733 455L613 477L733 498M613 477L580 444"/>
<path d="M733 23L340 45L733 66M340 45L114 77L733 110M114 77L93 178L211 278M733 153L543 191L211 278L389 366L733 326M733 196L605 228L543 191M733 239L684 261L733 282M684 261L605 228M733 369L434 407L389 366M733 412L570 444L434 407M733 455L615 477L733 498M615 477L570 444"/>
<path d="M733 23L289 45L733 66M289 45L116 119L136 194L733 110M136 194L250 278M733 153L562 191L250 278L385 366L733 326M733 196L590 228L562 191M733 239L688 261L733 282M688 261L590 228M733 369L453 407L385 366M733 412L570 444L453 407M733 455L594 477L733 498M594 477L570 444"/>
<path d="M733 23L260 45L733 66M260 45L98 119L107 194L733 110M107 194L263 278M733 153L559 191L263 278L405 366L733 326M733 196L603 228L559 191M733 239L709 261L733 282M709 261L603 228M733 369L438 407L405 366M733 412L594 444L438 407M733 455L615 477L733 498M615 477L594 444"/>
<path d="M733 23L275 45L733 66M275 45L19 119L137 194L733 110M137 194L215 278M733 153L529 191L215 278L384 366L733 326M733 196L583 228L529 191M733 239L671 261L733 282M671 261L583 228M733 369L436 407L384 366M733 412L553 444L436 407M733 455L596 477L733 498M596 477L553 444"/>
<path d="M733 23L263 45L733 66M263 45L46 119L96 194L733 110M96 194L241 278M733 153L550 191L241 278L395 366L733 326M733 196L596 228L550 191M733 239L681 261L733 282M681 261L596 228M733 369L451 407L395 366M733 412L564 444L451 407M733 455L604 477L733 498M604 477L564 444"/>
<path d="M733 23L308 45L733 66M308 45L82 119L178 194L733 110M178 194L228 278M733 153L531 191L228 278L386 366L733 326M733 196L595 228L531 191M733 239L687 261L733 282M687 261L595 228M733 369L428 407L386 366M733 412L576 444L428 407M733 455L599 477L733 498M599 477L576 444"/>
<path d="M733 23L314 45L733 66M314 45L145 77L733 110M145 77L118 178L244 278M733 153L551 191L244 278L397 366L733 326M733 196L610 228L551 191M733 239L695 261L733 282M695 261L610 228M733 369L457 407L397 366M733 412L559 444L457 407M733 455L623 477L733 498M623 477L559 444"/>
<path d="M733 23L253 45L733 66M253 45L69 119L108 194L733 110M108 194L223 278M733 153L558 191L223 278L380 366L733 326M733 196L577 228L558 191M733 239L676 261L733 282M676 261L577 228M733 369L422 407L380 366M733 412L572 444L422 407M733 455L591 477L733 498M591 477L572 444"/>
<path d="M733 23L262 45L733 66M262 45L59 119L122 194L733 110M122 194L239 278M733 153L556 191L239 278L376 366L733 326M733 196L593 228L556 191M733 239L685 261L733 282M685 261L593 228M733 369L436 407L376 366M733 412L566 444L436 407M733 455L602 477L733 498M602 477L566 444"/>
<path d="M733 23L311 45L733 66M311 45L115 77L733 110M115 77L112 178L242 278M733 153L549 191L242 278L399 366L733 326M733 196L593 228L549 191M733 239L685 261L733 282M685 261L593 228M733 369L443 407L399 366M733 412L581 444L443 407M733 455L606 477L733 498M606 477L581 444"/>
<path d="M733 23L323 45L733 66M323 45L102 119L187 194L733 110M187 194L244 278M733 153L556 191L244 278L438 366L733 326M733 196L622 228L556 191M733 239L683 261L733 282M683 261L622 228M733 369L484 407L438 366M733 412L570 444L484 407M733 455L643 477L733 498M643 477L570 444"/>
<path d="M733 23L288 45L733 66M288 45L37 119L136 194L733 110M136 194L182 278M733 153L512 191L182 278L357 366L733 326M733 196L588 228L512 191M733 239L682 261L733 282M682 261L588 228M733 369L376 407L357 366M733 412L554 444L376 407M733 455L595 477L733 498M595 477L554 444"/>
<path d="M733 23L311 45L733 66M311 45L102 119L148 194L733 110M148 194L281 278M733 153L574 191L281 278L432 366L733 326M733 196L600 228L574 191M733 239L690 261L733 282M690 261L600 228M733 369L487 407L432 366M733 412L587 444L487 407M733 455L615 477L733 498M615 477L587 444"/>
<path d="M733 23L232 45L733 66M232 45L103 119L124 194L733 110M124 194L261 278M733 153L584 191L261 278L397 366L733 326M733 196L601 228L584 191M733 239L681 261L733 282M681 261L601 228M733 369L439 407L397 366M733 412L587 444L439 407M733 455L611 477L733 498M611 477L587 444"/>
<path d="M733 23L284 45L733 66M284 45L149 162L230 278M149 162L126 136L733 110M733 153L542 191L230 278L374 366L733 326M733 196L594 228L542 191M733 239L691 261L733 282M691 261L594 228M733 369L447 407L374 366M733 412L561 444L447 407M733 455L600 477L733 498M600 477L561 444"/>
<path d="M733 23L255 45L733 66M255 45L59 119L128 194L733 110M128 194L218 278M733 153L508 191L218 278L385 366L733 326M733 196L598 228L508 191M733 239L696 261L733 282M696 261L598 228M733 369L443 407L385 366M733 412L578 444L443 407M733 455L614 477L733 498M614 477L578 444"/>
<path d="M733 23L321 45L733 66M321 45L138 119L148 194L733 110M148 194L268 278M733 153L566 191L268 278L407 366L733 326M733 196L590 228L566 191M733 239L674 261L733 282M674 261L590 228M733 369L446 407L407 366M733 412L577 444L446 407M733 455L589 477L733 498M589 477L577 444"/>
<path d="M733 23L338 45L733 66M338 45L99 77L733 110M99 77L73 178L285 278M733 153L578 191L285 278L414 366L733 326M733 196L612 228L578 191M733 239L691 261L733 282M691 261L612 228M733 369L473 407L414 366M733 412L588 444L473 407M733 455L622 477L733 498M622 477L588 444"/>
<path d="M733 23L258 45L733 66M258 45L32 119L145 194L733 110M145 194L209 278M733 153L531 191L209 278L385 366L733 326M733 196L585 228L531 191M733 239L682 261L733 282M682 261L585 228M733 369L424 407L385 366M733 412L558 444L424 407M733 455L596 477L733 498M596 477L558 444"/>
<path d="M733 23L276 45L733 66M276 45L89 77L733 110M89 77L71 178L225 278M733 153L546 191L225 278L384 366L733 326M733 196L590 228L546 191M733 239L689 261L733 282M689 261L590 228M733 369L420 407L384 366M733 412L550 444L420 407M733 455L602 477L733 498M602 477L550 444"/>
<path d="M733 23L262 45L733 66M262 45L83 119L163 194L733 110M163 194L248 278M733 153L552 191L248 278L402 366L733 326M733 196L597 228L552 191M733 239L682 261L733 282M682 261L597 228M733 369L456 407L402 366M733 412L584 444L456 407M733 455L606 477L733 498M606 477L584 444"/>
<path d="M733 23L300 45L733 66M300 45L112 119L170 194L733 110M170 194L244 278M733 153L547 191L244 278L398 366L733 326M733 196L633 228L547 191M733 239L688 261L733 282M688 261L633 228M733 369L448 407L398 366M733 412L583 444L448 407M733 455L625 477L733 498M625 477L583 444"/>
<path d="M733 23L307 45L733 66M307 45L58 119L97 194L733 110M97 194L212 278M733 153L534 191L212 278L371 366L733 326M733 196L578 228L534 191M733 239L683 261L733 282M683 261L578 228M733 369L436 407L371 366M733 412L561 444L436 407M733 455L585 477L733 498M585 477L561 444"/>
<path d="M733 23L266 45L733 66M266 45L93 77L733 110M93 77L53 178L226 278M733 153L531 191L226 278L376 366L733 326M733 196L586 228L531 191M733 239L676 261L733 282M676 261L586 228M733 369L427 407L376 366M733 412L559 444L427 407M733 455L610 477L733 498M610 477L559 444"/>
<path d="M733 23L320 45L733 66M320 45L85 119L149 194L733 110M149 194L231 278M733 153L550 191L231 278L410 366L733 326M733 196L598 228L550 191M733 239L693 261L733 282M693 261L598 228M733 369L451 407L410 366M733 412L586 444L451 407M733 455L601 477L733 498M601 477L586 444"/>
<path d="M733 23L311 45L733 66M311 45L120 119L180 194L733 110M180 194L259 278M733 153L571 191L259 278L416 366L733 326M733 196L597 228L571 191M733 239L693 261L733 282M693 261L597 228M733 369L444 407L416 366M733 412L581 444L444 407M733 455L622 477L733 498M622 477L581 444"/>
<path d="M733 23L277 45L733 66M277 45L43 119L123 194L733 110M123 194L194 278M733 153L545 191L194 278L340 366L733 326M733 196L569 228L545 191M733 239L667 261L733 282M667 261L569 228M733 369L426 407L340 366M733 412L560 444L426 407M733 455L590 477L733 498M590 477L560 444"/>
<path d="M733 23L308 45L733 66M308 45L131 119L163 194L733 110M163 194L295 278M733 153L564 191L295 278L434 366L733 326M733 196L623 228L564 191M733 239L709 261L733 282M709 261L623 228M733 369L472 407L434 366M733 412L583 444L472 407M733 455L626 477L733 498M626 477L583 444"/>
<path d="M733 23L258 45L733 66M258 45L110 77L733 110M110 77L100 178L248 278M733 153L529 191L248 278L404 366L733 326M733 196L596 228L529 191M733 239L687 261L733 282M687 261L596 228M733 369L445 407L404 366M733 412L576 444L445 407M733 455L622 477L733 498M622 477L576 444"/>
<path d="M733 23L296 45L733 66M296 45L23 119L142 194L733 110M142 194L225 278M733 153L553 191L225 278L391 366L733 326M733 196L602 228L553 191M733 239L686 261L733 282M686 261L602 228M733 369L439 407L391 366M733 412L572 444L439 407M733 455L590 477L733 498M590 477L572 444"/>
<path d="M733 23L235 45L733 66M235 45L44 119L122 194L733 110M122 194L223 278M733 153L562 191L223 278L394 366L733 326M733 196L575 228L562 191M733 239L679 261L733 282M679 261L575 228M733 369L420 407L394 366M733 412L571 444L420 407M733 455L607 477L733 498M607 477L571 444"/>
<path d="M733 23L304 45L733 66M304 45L87 119L141 194L733 110M141 194L269 278M733 153L553 191L269 278L403 366L733 326M733 196L611 228L553 191M733 239L693 261L733 282M693 261L611 228M733 369L480 407L403 366M733 412L578 444L480 407M733 455L610 477L733 498M610 477L578 444"/>
<path d="M733 23L400 45L733 66M400 45L110 119L138 194L733 110M138 194L271 278M733 153L545 191L271 278L406 366L733 326M733 196L605 228L545 191M733 239L696 261L733 282M696 261L605 228M733 369L457 407L406 366M733 412L595 444L457 407M733 455L625 477L733 498M625 477L595 444"/>
<path d="M733 23L263 45L733 66M263 45L112 77L733 110M112 77L94 178L189 278M733 153L542 191L189 278L372 366L733 326M733 196L589 228L542 191M733 239L675 261L733 282M675 261L589 228M733 369L422 407L372 366M733 412L545 444L422 407M733 455L584 477L733 498M584 477L545 444"/>
<path d="M733 23L291 45L733 66M291 45L60 119L66 194L733 110M66 194L223 278M733 153L531 191L223 278L383 366L733 326M733 196L587 228L531 191M733 239L682 261L733 282M682 261L587 228M733 369L435 407L383 366M733 412L560 444L435 407M733 455L617 477L733 498M617 477L560 444"/>
<path d="M733 23L279 45L733 66M279 45L143 77L733 110M143 77L105 178L242 278M733 153L560 191L242 278L395 366L733 326M733 196L605 228L560 191M733 239L691 261L733 282M691 261L605 228M733 369L454 407L395 366M733 412L582 444L454 407M733 455L599 477L733 498M599 477L582 444"/>
<path d="M733 23L295 45L733 66M295 45L104 119L169 194L733 110M169 194L261 278M733 153L573 191L261 278L414 366L733 326M733 196L600 228L573 191M733 239L700 261L733 282M700 261L600 228M733 369L475 407L414 366M733 412L578 444L475 407M733 455L619 477L733 498M619 477L578 444"/>
<path d="M733 23L286 45L733 66M286 45L25 119L103 194L733 110M103 194L226 278M733 153L533 191L226 278L376 366L733 326M733 196L598 228L533 191M733 239L673 261L733 282M673 261L598 228M733 369L404 407L376 366M733 412L578 444L404 407M733 455L591 477L733 498M591 477L578 444"/>
<path d="M733 23L264 45L733 66M264 45L75 119L101 194L733 110M101 194L219 278M733 153L539 191L219 278L372 366L733 326M733 196L583 228L539 191M733 239L679 261L733 282M679 261L583 228M733 369L429 407L372 366M733 412L569 444L429 407M733 455L622 477L733 498M622 477L569 444"/>
<path d="M733 23L314 45L733 66M314 45L48 119L196 194L733 110M196 194L250 278M733 153L572 191L250 278L405 366L733 326M733 196L611 228L572 191M733 239L692 261L733 282M692 261L611 228M733 369L451 407L405 366M733 412L574 444L451 407M733 455L599 477L733 498M599 477L574 444"/>
<path d="M733 23L322 45L733 66M322 45L86 119L168 194L733 110M168 194L286 278M733 153L572 191L286 278L428 366L733 326M733 196L605 228L572 191M733 239L696 261L733 282M696 261L605 228M733 369L461 407L428 366M733 412L599 444L461 407M733 455L622 477L733 498M622 477L599 444"/>
<path d="M733 23L230 45L733 66M230 45L102 77L733 110M102 77L79 178L195 278M733 153L515 191L195 278L363 366L733 326M733 196L583 228L515 191M733 239L675 261L733 282M675 261L583 228M733 369L431 407L363 366M733 412L548 444L431 407M733 455L588 477L733 498M588 477L548 444"/>
<path d="M733 23L315 45L733 66M315 45L141 77L733 110M141 77L114 178L285 278M733 153L562 191L285 278L448 366L733 326M733 196L620 228L562 191M733 239L703 261L733 282M703 261L620 228M733 369L463 407L448 366M733 412L599 444L463 407M733 455L623 477L733 498M623 477L599 444"/>
<path d="M733 23L236 45L733 66M236 45L39 119L97 194L733 110M97 194L223 278M733 153L547 191L223 278L394 366L733 326M733 196L585 228L547 191M733 239L688 261L733 282M688 261L585 228M733 369L447 407L394 366M733 412L559 444L447 407M733 455L614 477L733 498M614 477L559 444"/>
<path d="M733 23L289 45L733 66M289 45L97 119L156 194L733 110M156 194L245 278M733 153L560 191L245 278L383 366L733 326M733 196L606 228L560 191M733 239L685 261L733 282M685 261L606 228M733 369L440 407L383 366M733 412L579 444L440 407M733 455L597 477L733 498M597 477L579 444"/>
<path d="M733 23L254 45L733 66M254 45L79 119L134 194L733 110M134 194L233 278M733 153L541 191L233 278L384 366L733 326M733 196L587 228L541 191M733 239L680 261L733 282M680 261L587 228M733 369L416 407L384 366M733 412L545 444L416 407M733 455L602 477L733 498M602 477L545 444"/>
<path d="M733 23L318 45L733 66M318 45L65 119L126 194L733 110M126 194L259 278M733 153L547 191L259 278L397 366L733 326M733 196L608 228L547 191M733 239L692 261L733 282M692 261L608 228M733 369L469 407L397 366M733 412L590 444L469 407M733 455L615 477L733 498M615 477L590 444"/>
<path d="M733 23L332 45L733 66M332 45L84 119L153 194L733 110M153 194L247 278M733 153L558 191L247 278L413 366L733 326M733 196L593 228L558 191M733 239L697 261L733 282M697 261L593 228M733 369L463 407L413 366M733 412L583 444L463 407M733 455L630 477L733 498M630 477L583 444"/>
<path d="M733 23L257 45L733 66M257 45L97 119L125 194L733 110M125 194L220 278M733 153L547 191L220 278L382 366L733 326M733 196L595 228L547 191M733 239L675 261L733 282M675 261L595 228M733 369L429 407L382 366M733 412L567 444L429 407M733 455L578 477L733 498M578 477L567 444"/>
<path d="M733 23L259 45L733 66M259 45L66 119L151 194L733 110M151 194L252 278M733 153L571 191L252 278L400 366L733 326M733 196L617 228L571 191M733 239L689 261L733 282M689 261L617 228M733 369L446 407L400 366M733 412L569 444L446 407M733 455L604 477L733 498M604 477L569 444"/>
<path d="M733 23L297 45L733 66M297 45L118 162L273 278M118 162L109 136L733 110M733 153L561 191L273 278L401 366L733 326M733 196L600 228L561 191M733 239L702 261L733 282M702 261L600 228M733 369L483 407L401 366M733 412L583 444L483 407M733 455L618 477L733 498M618 477L583 444"/>
<path d="M733 23L317 45L733 66M317 45L73 119L81 194L733 110M81 194L198 278M733 153L513 191L198 278L366 366L733 326M733 196L585 228L513 191M733 239L670 261L733 282M670 261L585 228M733 369L403 407L366 366M733 412L551 444L403 407M733 455L586 477L733 498M586 477L551 444"/>
<path d="M733 23L329 45L733 66M329 45L70 119L167 194L733 110M167 194L255 278M733 153L528 191L255 278L408 366L733 326M733 196L590 228L528 191M733 239L686 261L733 282M686 261L590 228M733 369L446 407L408 366M733 412L560 444L446 407M733 455L603 477L733 498M603 477L560 444"/>
<path d="M733 23L307 45L733 66M307 45L145 77L733 110M145 77L108 178L270 278M733 153L555 191L270 278L420 366L733 326M733 196L608 228L555 191M733 239L678 261L733 282M678 261L608 228M733 369L476 407L420 366M733 412L590 444L476 407M733 455L629 477L733 498M629 477L590 444"/>
<path d="M733 23L193 45L733 66M193 45L79 119L83 194L733 110M83 194L177 278M733 153L544 191L177 278L345 366L733 326M733 196L576 228L544 191M733 239L690 261L733 282M690 261L576 228M733 369L388 407L345 366M733 412L552 444L388 407M733 455L583 477L733 498M583 477L552 444"/>
<path d="M733 23L274 45L733 66M274 45L93 77L733 110M93 77L74 178L199 278M733 153L527 191L199 278L353 366L733 326M733 196L586 228L527 191M733 239L682 261L733 282M682 261L586 228M733 369L400 407L353 366M733 412L545 444L400 407M733 455L602 477L733 498M602 477L545 444"/>
<path d="M733 23L262 45L733 66M262 45L71 119L103 194L733 110M103 194L236 278M733 153L551 191L236 278L408 366L733 326M733 196L605 228L551 191M733 239L681 261L733 282M681 261L605 228M733 369L440 407L408 366M733 412L567 444L440 407M733 455L609 477L733 498M609 477L567 444"/>
<path d="M733 23L303 45L733 66M303 45L100 119L157 194L733 110M157 194L265 278M733 153L538 191L265 278L392 366L733 326M733 196L585 228L538 191M733 239L693 261L733 282M693 261L585 228M733 369L449 407L392 366M733 412L577 444L449 407M733 455L607 477L733 498M607 477L577 444"/>
<path d="M733 23L239 45L733 66M239 45L107 119L141 194L733 110M141 194L222 278M733 153L538 191L222 278L384 366L733 326M733 196L593 228L538 191M733 239L690 261L733 282M690 261L593 228M733 369L449 407L384 366M733 412L560 444L449 407M733 455L605 477L733 498M605 477L560 444"/>
<path d="M733 23L306 45L733 66M306 45L121 77L733 110M121 77L114 178L246 278M733 153L569 191L246 278L405 366L733 326M733 196L601 228L569 191M733 239L680 261L733 282M680 261L601 228M733 369L442 407L405 366M733 412L580 444L442 407M733 455L602 477L733 498M602 477L580 444"/>
<path d="M733 23L345 45L733 66M345 45L40 119L156 194L733 110M156 194L256 278M733 153L562 191L256 278L399 366L733 326M733 196L611 228L562 191M733 239L688 261L733 282M688 261L611 228M733 369L465 407L399 366M733 412L577 444L465 407M733 455L622 477L733 498M622 477L577 444"/>
<path d="M733 23L261 45L733 66M261 45L79 119L115 194L733 110M115 194L225 278M733 153L526 191L225 278L375 366L733 326M733 196L566 228L526 191M733 239L682 261L733 282M682 261L566 228M733 369L414 407L375 366M733 412L572 444L414 407M733 455L591 477L733 498M591 477L572 444"/>
<path d="M733 23L285 45L733 66M285 45L74 119L105 194L733 110M105 194L215 278M733 153L545 191L215 278L378 366L733 326M733 196L607 228L545 191M733 239L687 261L733 282M687 261L607 228M733 369L427 407L378 366M733 412L566 444L427 407M733 455L599 477L733 498M599 477L566 444"/>
<path d="M733 23L275 45L733 66M275 45L60 119L153 194L733 110M153 194L262 278M733 153L543 191L262 278L398 366L733 326M733 196L596 228L543 191M733 239L685 261L733 282M685 261L596 228M733 369L461 407L398 366M733 412L579 444L461 407M733 455L611 477L733 498M611 477L579 444"/>
<path d="M733 23L294 45L733 66M294 45L85 119L196 194L733 110M196 194L268 278M733 153L554 191L268 278L407 366L733 326M733 196L608 228L554 191M733 239L687 261L733 282M687 261L608 228M733 369L445 407L407 366M733 412L591 444L445 407M733 455L632 477L733 498M632 477L591 444"/>
<path d="M733 23L284 45L733 66M284 45L76 77L733 110M76 77L31 178L179 278M733 153L551 191L179 278L372 366L733 326M733 196L576 228L551 191M733 239L682 261L733 282M682 261L576 228M733 369L417 407L372 366M733 412L541 444L417 407M733 455L574 477L733 498M574 477L541 444"/>
<path d="M733 23L261 45L733 66M261 45L62 119L152 194L733 110M152 194L213 278M733 153L553 191L213 278L384 366L733 326M733 196L588 228L553 191M733 239L690 261L733 282M690 261L588 228M733 369L415 407L384 366M733 412L570 444L415 407M733 455L607 477L733 498M607 477L570 444"/>
<path d="M733 23L323 45L733 66M323 45L105 119L129 194L733 110M129 194L266 278M733 153L549 191L266 278L390 366L733 326M733 196L607 228L549 191M733 239L682 261L733 282M682 261L607 228M733 369L475 407L390 366M733 412L566 444L475 407M733 455L603 477L733 498M603 477L566 444"/>
<path d="M733 23L303 45L733 66M303 45L81 119L123 194L733 110M123 194L241 278M733 153L527 191L241 278L392 366L733 326M733 196L585 228L527 191M733 239L684 261L733 282M684 261L585 228M733 369L437 407L392 366M733 412L577 444L437 407M733 455L612 477L733 498M612 477L577 444"/>
<path d="M733 23L257 45L733 66M257 45L112 77L733 110M112 77L105 178L217 278M733 153L548 191L217 278L392 366L733 326M733 196L601 228L548 191M733 239L687 261L733 282M687 261L601 228M733 369L437 407L392 366M733 412L566 444L437 407M733 455L597 477L733 498M597 477L566 444"/>
<path d="M733 23L322 45L733 66M322 45L28 119L110 194L733 110M110 194L226 278M733 153L527 191L226 278L395 366L733 326M733 196L580 228L527 191M733 239L693 261L733 282M693 261L580 228M733 369L433 407L395 366M733 412L556 444L433 407M733 455L599 477L733 498M599 477L556 444"/>
<path d="M733 23L296 45L733 66M296 45L118 77L733 110M118 77L96 178L240 278M733 153L557 191L240 278L399 366L733 326M733 196L612 228L557 191M733 239L675 261L733 282M675 261L612 228M733 369L454 407L399 366M733 412L590 444L454 407M733 455L610 477L733 498M610 477L590 444"/>
<path d="M733 23L255 45L733 66M255 45L144 119L158 194L733 110M158 194L243 278M733 153L560 191L243 278L388 366L733 326M733 196L595 228L560 191M733 239L687 261L733 282M687 261L595 228M733 369L457 407L388 366M733 412L572 444L457 407M733 455L628 477L733 498M628 477L572 444"/>
<path d="M733 23L282 45L733 66M282 45L61 119L95 194L733 110M95 194L235 278M733 153L541 191L235 278L386 366L733 326M733 196L593 228L541 191M733 239L684 261L733 282M684 261L593 228M733 369L417 407L386 366M733 412L568 444L417 407M733 455L589 477L733 498M589 477L568 444"/>
<path d="M733 23L273 45L733 66M273 45L108 77L733 110M108 77L81 178L263 278M733 153L550 191L263 278L395 366L733 326M733 196L596 228L550 191M733 239L693 261L733 282M693 261L596 228M733 369L456 407L395 366M733 412L577 444L456 407M733 455L619 477L733 498M619 477L577 444"/>
<path d="M733 23L292 45L733 66M292 45L105 119L150 194L733 110M150 194L215 278M733 153L548 191L215 278L393 366L733 326M733 196L608 228L548 191M733 239L682 261L733 282M682 261L608 228M733 369L446 407L393 366M733 412L573 444L446 407M733 455L599 477L733 498M599 477L573 444"/>
<path d="M733 23L338 45L733 66M338 45L100 119L183 194L733 110M183 194L278 278M733 153L580 191L278 278L431 366L733 326M733 196L609 228L580 191M733 239L688 261L733 282M688 261L609 228M733 369L451 407L431 366M733 412L582 444L451 407M733 455L633 477L733 498M633 477L582 444"/>
<path d="M733 23L246 45L733 66M246 45L38 119L99 194L733 110M99 194L217 278M733 153L532 191L217 278L367 366L733 326M733 196L586 228L532 191M733 239L686 261L733 282M686 261L586 228M733 369L428 407L367 366M733 412L573 444L428 407M733 455L584 477L733 498M584 477L573 444"/>
<path d="M733 23L255 45L733 66M255 45L100 119L144 194L733 110M144 194L276 278M733 153L553 191L276 278L419 366L733 326M733 196L607 228L553 191M733 239L688 261L733 282M688 261L607 228M733 369L449 407L419 366M733 412L580 444L449 407M733 455L594 477L733 498M594 477L580 444"/>
<path d="M733 23L276 45L733 66M276 45L91 77L733 110M91 77L66 178L234 278M733 153L533 191L234 278L390 366L733 326M733 196L579 228L533 191M733 239L676 261L733 282M676 261L579 228M733 369L441 407L390 366M733 412L579 444L441 407M733 455L607 477L733 498M607 477L579 444"/>
<path d="M733 23L314 45L733 66M314 45L58 119L176 194L733 110M176 194L220 278M733 153L552 191L220 278L382 366L733 326M733 196L601 228L552 191M733 239L693 261L733 282M693 261L601 228M733 369L433 407L382 366M733 412L552 444L433 407M733 455L603 477L733 498M603 477L552 444"/>
<path d="M733 23L266 45L733 66M266 45L34 119L151 194L733 110M151 194L195 278M733 153L523 191L195 278L386 366L733 326M733 196L593 228L523 191M733 239L681 261L733 282M681 261L593 228M733 369L436 407L386 366M733 412L564 444L436 407M733 455L599 477L733 498M599 477L564 444"/>
<path d="M733 23L337 45L733 66M337 45L99 119L120 194L733 110M120 194L251 278M733 153L560 191L251 278L397 366L733 326M733 196L599 228L560 191M733 239L689 261L733 282M689 261L599 228M733 369L436 407L397 366M733 412L571 444L436 407M733 455L609 477L733 498M609 477L571 444"/>
<path d="M733 23L241 45L733 66M241 45L57 119L120 194L733 110M120 194L219 278M733 153L536 191L219 278L384 366L733 326M733 196L578 228L536 191M733 239L675 261L733 282M675 261L578 228M733 369L428 407L384 366M733 412L556 444L428 407M733 455L584 477L733 498M584 477L556 444"/>
<path d="M733 23L306 45L733 66M306 45L105 162L249 278M105 162L95 136L733 110M733 153L554 191L249 278L386 366L733 326M733 196L605 228L554 191M733 239L680 261L733 282M680 261L605 228M733 369L426 407L386 366M733 412L565 444L426 407M733 455L612 477L733 498M612 477L565 444"/>
<path d="M733 23L291 45L733 66M291 45L109 119L159 194L733 110M159 194L252 278M733 153L557 191L252 278L398 366L733 326M733 196L595 228L557 191M733 239L692 261L733 282M692 261L595 228M733 369L459 407L398 366M733 412L585 444L459 407M733 455L607 477L733 498M607 477L585 444"/>
<path d="M733 23L273 45L733 66M273 45L83 119L171 194L733 110M171 194L241 278M733 153L545 191L241 278L398 366L733 326M733 196L602 228L545 191M733 239L693 261L733 282M693 261L602 228M733 369L441 407L398 366M733 412L565 444L441 407M733 455L615 477L733 498M615 477L565 444"/>
<path d="M733 23L280 45L733 66M280 45L126 77L733 110M126 77L108 178L224 278M733 153L541 191L224 278L392 366L733 326M733 196L587 228L541 191M733 239L700 261L733 282M700 261L587 228M733 369L431 407L392 366M733 412L576 444L431 407M733 455L590 477L733 498M590 477L576 444"/>
<path d="M733 23L352 45L733 66M352 45L130 119L180 194L733 110M180 194L265 278M733 153L554 191L265 278L423 366L733 326M733 196L611 228L554 191M733 239L693 261L733 282M693 261L611 228M733 369L488 407L423 366M733 412L587 444L488 407M733 455L622 477L733 498M622 477L587 444"/>
<path d="M733 23L253 45L733 66M253 45L47 119L95 194L733 110M95 194L205 278M733 153L531 191L205 278L354 366L733 326M733 196L578 228L531 191M733 239L679 261L733 282M679 261L578 228M733 369L405 407L354 366M733 412L558 444L405 407M733 455L589 477L733 498M589 477L558 444"/>
<path d="M733 23L279 45L733 66M279 45L65 119L117 194L733 110M117 194L197 278M733 153L518 191L197 278L366 366L733 326M733 196L590 228L518 191M733 239L674 261L733 282M674 261L590 228M733 369L403 407L366 366M733 412L572 444L403 407M733 455L601 477L733 498M601 477L572 444"/>
<path d="M733 23L280 45L733 66M280 45L114 119L144 194L733 110M144 194L269 278M733 153L565 191L269 278L413 366L733 326M733 196L604 228L565 191M733 239L697 261L733 282M697 261L604 228M733 369L475 407L413 366M733 412L578 444L475 407M733 455L614 477L733 498M614 477L578 444"/>
<path d="M733 23L267 45L733 66M267 45L86 119L116 194L733 110M116 194L244 278M733 153L563 191L244 278L404 366L733 326M733 196L602 228L563 191M733 239L688 261L733 282M688 261L602 228M733 369L438 407L404 366M733 412L572 444L438 407M733 455L613 477L733 498M613 477L572 444"/>
<path d="M733 23L304 45L733 66M304 45L117 77L733 110M117 77L81 178L235 278M733 153L541 191L235 278L389 366L733 326M733 196L578 228L541 191M733 239L683 261L733 282M683 261L578 228M733 369L449 407L389 366M733 412L568 444L449 407M733 455L595 477L733 498M595 477L568 444"/>
<path d="M733 23L262 45L733 66M262 45L82 119L131 194L733 110M131 194L224 278M733 153L537 191L224 278L381 366L733 326M733 196L597 228L537 191M733 239L682 261L733 282M682 261L597 228M733 369L454 407L381 366M733 412L554 444L454 407M733 455L604 477L733 498M604 477L554 444"/>
<path d="M733 23L327 45L733 66M327 45L116 77L733 110M116 77L96 178L232 278M733 153L566 191L232 278L398 366L733 326M733 196L591 228L566 191M733 239L690 261L733 282M690 261L591 228M733 369L446 407L398 366M733 412L595 444L446 407M733 455L610 477L733 498M610 477L595 444"/>
<path d="M733 23L305 45L733 66M305 45L60 119L111 194L733 110M111 194L242 278M733 153L552 191L242 278L392 366L733 326M733 196L604 228L552 191M733 239L700 261L733 282M700 261L604 228M733 369L450 407L392 366M733 412L571 444L450 407M733 455L617 477L733 498M617 477L571 444"/>
<path d="M733 23L259 45L733 66M259 45L111 119L143 194L733 110M143 194L242 278M733 153L534 191L242 278L413 366L733 326M733 196L593 228L534 191M733 239L674 261L733 282M674 261L593 228M733 369L430 407L413 366M733 412L571 444L430 407M733 455L594 477L733 498M594 477L571 444"/>
</g>
<use href="#T" transform="translate(-4.7376 0) scale(1.009 1)"/>
</g>
<rect x="150" y="95" width="385" height="275" fill="#fff" fill-opacity="0.165"/>
<rect x="150" y="95" width="385" height="275" fill="#2a2a2a" style="mix-blend-mode:lighten"/>
<g class="tip">
<text x="527.5" y="115" textLength="86.93" lengthAdjust="spacingAndGlyphs">Tarsius syrichta</text>
<text x="527.5" y="137.9" textLength="67.04" lengthAdjust="spacingAndGlyphs">Lemur catta</text>
<text x="527.5" y="159.6" textLength="89.9" lengthAdjust="spacingAndGlyphs">Saimiri sciureus</text>
<text x="527.5" y="180" textLength="64" lengthAdjust="spacingAndGlyphs">M sylvanus</text>
<text x="527.5" y="202.4" textLength="76.3" lengthAdjust="spacingAndGlyphs">M fascicularis</text>
<text x="527.5" y="224.6" textLength="87.17" lengthAdjust="spacingAndGlyphs">Macaca fuscata</text>
<text x="527.5" y="245.9" textLength="57.44" lengthAdjust="spacingAndGlyphs">M mulatta</text>
<text x="527.5" y="265.5" textLength="56.06" lengthAdjust="spacingAndGlyphs">Hylobates</text>
<text x="527.5" y="287.3" textLength="36.11" lengthAdjust="spacingAndGlyphs">Pongo</text>
<text x="527.5" y="310.5" textLength="36.94" lengthAdjust="spacingAndGlyphs">Gorilla</text>
<text x="527.5" y="332.4" textLength="21.84" lengthAdjust="spacingAndGlyphs">Pan</text>
<text x="527.5" y="352.9" textLength="81.76" lengthAdjust="spacingAndGlyphs">Homo sapiens</text>
</g>
<g class="ax">
<path d="M99.3 381.9H526.4"/>
<path d="M99.3 381.9v9.6"/>
<path d="M170.5 381.9v9.6"/>
<path d="M241.7 381.9v9.6"/>
<path d="M312.9 381.9v9.6"/>
<path d="M384 381.9v9.6"/>
<path d="M455.2 381.9v9.6"/>
<path d="M526.4 381.9v9.6"/>
</g>
<g class="axl">
<text x="99.3" y="417.1">0.3</text>
<text x="170.5" y="417.1">0.25</text>
<text x="241.7" y="417.1">0.2</text>
<text x="312.9" y="417.1">0.15</text>
<text x="384" y="417.1">0.1</text>
<text x="455.2" y="417.1">0.05</text>
<text x="526.4" y="417.1">0</text>
</g>
</svg>
</body>
</html>
